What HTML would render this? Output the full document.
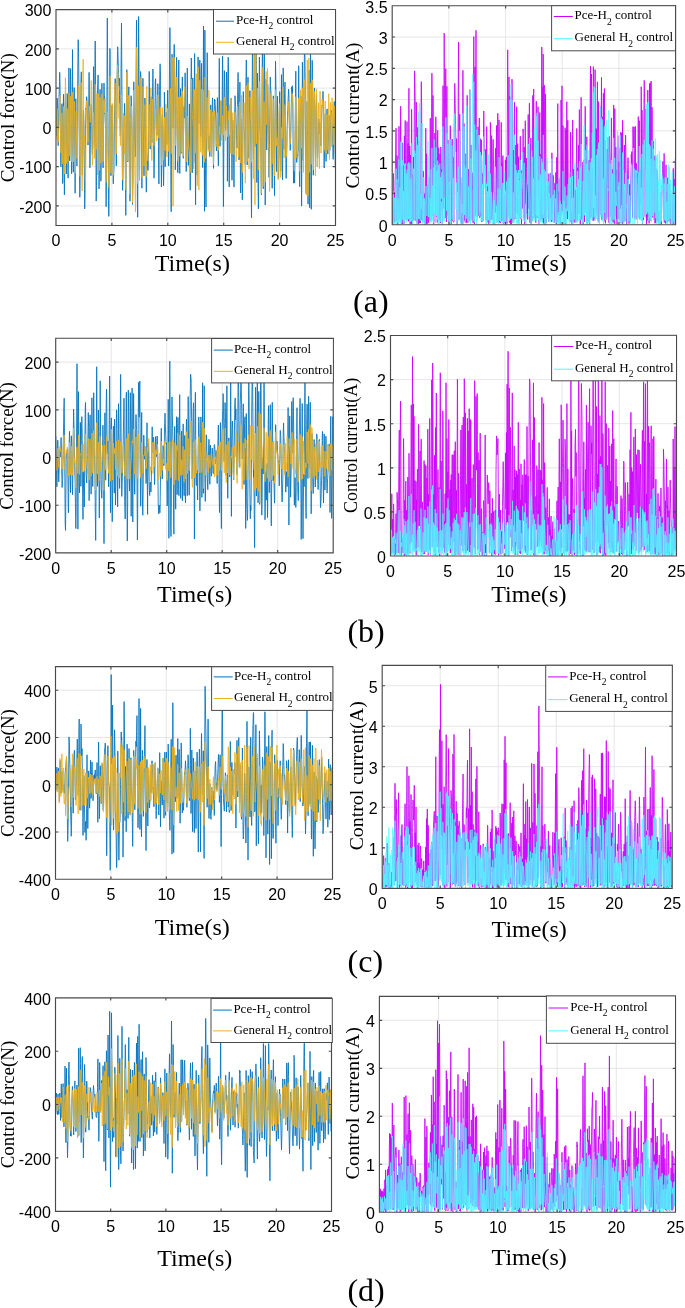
<!DOCTYPE html><html><head><meta charset="utf-8"><style>html,body{margin:0;padding:0;background:#fff;overflow:hidden}svg{display:block;will-change:transform}text{font-family:"Liberation Sans",sans-serif}.s{font-family:"Liberation Serif",serif}</style></head><body>
<svg width="685" height="1308" viewBox="0 0 685 1308">
<defs>
<clipPath id="caL"><rect x="56" y="9.6" width="279.5" height="215.9"/></clipPath>
<clipPath id="caR"><rect x="392.2" y="5.7" width="283.4" height="219.0"/></clipPath>
<clipPath id="cbL"><rect x="55.7" y="338.2" width="277.5" height="214.7"/></clipPath>
<clipPath id="cbR"><rect x="390.5" y="335.5" width="286.0" height="220.5"/></clipPath>
<clipPath id="ccL"><rect x="55.5" y="666.6" width="277.0" height="212.6"/></clipPath>
<clipPath id="ccR"><rect x="382.2" y="665.4" width="290.0" height="222.9"/></clipPath>
<clipPath id="cdL"><rect x="55.5" y="997.8" width="276.0" height="213.5"/></clipPath>
<clipPath id="cdR"><rect x="379.4" y="996.3" width="296.1" height="215.9"/></clipPath>
</defs>
<path d="M111.9 9.6V225.5M167.8 9.6V225.5M223.7 9.6V225.5M279.6 9.6V225.5M56 205.9H335.5M56 166.6H335.5M56 127.4H335.5M56 88.1H335.5M56 48.9H335.5" stroke="#E0E0E0" stroke-width="0.8" fill="none"/>
<g clip-path="url(#caL)"><polyline points="56.3,136.1 56.4,130.9 56.5,127.9 57.0,101.3 57.1,98.0 57.5,102.0 57.5,104.0 58.0,139.2 58.2,145.7 58.5,133.7 58.5,129.7 59.0,102.7 59.0,98.1 59.5,81.5 59.5,78.8 59.7,72.3 60.0,82.5 60.5,142.3 60.5,146.1 60.9,166.8 61.0,162.9 61.5,127.3 61.5,123.1 62.0,103.7 62.0,104.3 62.5,147.6 62.7,183.5 63.0,138.7 63.0,124.1 63.5,94.2 63.5,95.1 64.0,149.1 64.0,158.5 64.4,194.9 64.6,183.4 65.0,109.5 65.1,106.4 65.4,93.8 65.5,97.0 66.0,127.0 66.0,139.1 66.3,174.0 66.5,163.0 67.0,106.2 67.2,93.5 67.5,105.0 67.5,110.6 68.0,171.5 68.1,178.1 68.5,123.8 68.5,113.4 68.9,67.9 69.0,79.4 69.5,145.1 69.7,160.9 70.0,137.1 70.0,130.1 70.5,70.5 70.6,68.6 71.0,106.8 71.0,119.1 71.5,170.0 71.6,173.7 72.0,139.7 72.0,134.6 72.5,49.6 72.5,51.8 73.0,143.8 73.0,152.2 73.3,172.2 73.6,152.2 74.0,98.4 74.2,87.6 74.4,98.8 74.5,104.1 75.0,175.2 75.1,193.2 75.5,150.3 75.5,137.4 75.8,98.7 76.0,114.9 76.5,150.6 76.5,155.3 76.9,166.0 77.0,163.4 77.5,115.1 77.5,106.2 78.0,46.9 78.0,42.9 78.2,39.7 78.5,46.2 79.0,95.5 79.0,104.9 79.5,169.0 79.5,175.6 79.8,197.3 80.0,189.7 80.5,139.2 80.5,128.1 81.0,79.4 81.3,71.8 81.5,89.5 81.5,97.9 82.0,156.8 82.0,161.2 82.3,175.2 82.6,164.5 83.0,128.2 83.1,124.3 83.4,110.0 83.5,110.5 84.0,128.4 84.0,132.5 84.5,193.4 84.7,208.9 85.0,198.2 85.0,195.9 85.5,135.9 85.5,129.8 86.0,108.3 86.1,109.3 86.5,98.0 86.6,96.7 87.0,99.6 87.0,101.4 87.5,120.5 87.5,124.7 88.0,144.0 88.0,145.1 88.5,129.7 88.5,128.9 89.0,76.2 89.1,72.3 89.5,106.5 89.5,116.9 89.9,167.8 90.0,165.8 90.5,125.5 90.5,123.0 91.0,107.7 91.2,104.5 91.5,116.4 91.6,121.5 92.0,144.7 92.1,148.0 92.4,154.3 92.5,154.4 92.9,129.8 93.0,125.4 93.5,69.6 93.6,66.6 94.0,94.3 94.0,99.6 94.4,148.0 94.5,132.4 95.0,51.8 95.2,41.0 95.5,63.3 95.5,75.8 96.0,169.8 96.0,180.1 96.2,201.1 96.5,185.3 97.0,119.2 97.0,111.1 97.4,91.0 97.5,91.4 98.0,78.0 98.1,75.0 98.5,115.4 98.5,119.0 99.0,185.8 99.0,188.9 99.5,166.8 99.5,156.6 100.0,91.5 100.1,89.4 100.5,138.7 100.6,148.6 100.9,181.2 101.1,172.1 101.4,113.2 101.5,109.0 101.9,83.4 102.0,89.9 102.5,138.5 102.5,147.1 103.0,166.0 103.1,167.9 103.5,132.8 103.5,128.3 104.0,83.0 104.0,83.3 104.3,98.7 104.5,96.7 104.8,113.9 105.0,113.3 105.5,127.2 105.5,136.8 106.0,199.1 106.1,206.7 106.5,182.7 106.5,175.2 107.0,76.8 107.0,65.5 107.3,18.1 107.5,45.7 108.0,121.5 108.0,131.2 108.5,194.3 108.5,200.8 108.8,216.4 109.0,206.5 109.5,109.8 109.6,96.4 109.9,48.4 110.1,54.5 110.4,146.5 110.5,149.7 110.9,175.7 111.0,173.2 111.5,149.4 111.5,142.7 111.9,107.8 112.2,105.1 112.5,118.0 112.5,123.0 113.0,167.9 113.0,173.0 113.3,183.8 113.5,178.1 114.0,168.1 114.0,163.0 114.5,115.1 114.5,110.7 115.0,86.2 115.2,78.6 115.5,90.2 115.5,93.4 116.0,139.7 116.0,145.5 116.3,165.8 116.5,148.6 117.0,96.1 117.0,85.2 117.5,51.5 117.7,46.8 118.0,53.2 118.0,54.7 118.5,73.0 118.6,74.6 119.0,85.9 119.3,78.2 119.4,88.8 119.5,95.8 119.9,116.0 120.0,121.9 120.3,136.0 120.5,133.4 121.0,78.6 121.0,71.0 121.5,23.1 121.5,25.8 122.0,99.9 122.0,115.3 122.5,187.3 122.6,190.3 123.0,176.1 123.0,171.0 123.5,145.0 123.5,140.9 123.9,119.5 124.1,126.6 124.5,106.7 124.6,103.4 125.0,119.2 125.0,126.9 125.5,184.4 125.5,192.8 125.8,215.4 126.0,193.5 126.5,99.2 126.5,88.6 126.8,69.7 127.0,77.0 127.5,144.4 127.6,150.1 127.8,162.0 128.1,146.9 128.4,111.5 128.5,106.0 128.8,86.8 129.0,100.2 129.5,158.1 129.5,168.0 130.0,201.2 130.0,199.8 130.5,143.5 130.5,137.2 131.0,100.8 131.1,95.7 131.5,102.2 131.5,102.7 132.0,136.4 132.0,142.8 132.5,203.0 132.5,204.4 133.0,179.5 133.0,170.1 133.5,103.9 133.5,96.8 133.8,81.8 134.0,93.1 134.5,134.9 134.5,138.9 134.8,149.0 135.0,148.7 135.3,157.0 135.5,149.8 136.0,100.3 136.0,90.2 136.5,20.1 136.6,20.9 137.0,94.4 137.1,111.0 137.4,204.0 137.7,217.3 137.9,178.6 138.0,162.9 138.5,35.5 138.6,16.5 139.0,66.0 139.0,74.5 139.5,177.2 139.5,179.2 140.0,107.6 140.0,94.3 140.5,72.7 140.6,71.5 141.0,80.1 141.0,81.1 141.5,136.8 141.5,149.3 141.9,188.2 142.0,179.6 142.5,111.2 142.5,98.9 142.9,78.3 143.0,81.1 143.5,132.1 143.5,140.5 144.0,175.8 144.0,174.1 144.5,125.8 144.5,122.3 144.9,98.0 145.0,99.9 145.5,123.0 145.6,129.7 146.0,176.1 146.1,180.5 146.3,192.2 146.5,185.2 146.9,165.7 147.0,163.7 147.5,155.5 147.5,155.8 148.0,170.4 148.0,169.8 148.5,147.2 148.5,139.5 149.0,91.7 149.2,71.4 149.5,87.2 149.5,95.9 150.0,139.6 150.2,149.1 150.5,138.2 150.5,136.7 151.0,98.3 151.0,96.7 151.5,133.6 151.5,135.3 151.9,142.7 152.0,139.0 152.5,103.2 152.5,96.5 152.9,69.0 153.0,75.1 153.5,130.2 153.5,138.3 154.0,177.3 154.0,178.2 154.5,154.2 154.6,149.0 155.0,104.5 155.1,97.6 155.3,81.5 155.6,78.7 155.9,95.4 156.0,97.6 156.5,126.6 156.5,127.6 156.9,135.4 157.0,131.5 157.5,104.0 157.5,100.2 157.8,83.7 158.0,86.7 158.5,146.7 158.5,157.0 158.9,183.9 159.0,174.9 159.5,93.0 159.5,90.3 160.0,67.3 160.1,63.8 160.5,76.2 160.5,80.3 161.0,143.6 161.0,151.1 161.4,187.1 161.5,180.7 162.0,130.8 162.0,126.1 162.4,114.1 162.5,114.8 163.0,140.9 163.0,144.6 163.5,185.7 163.6,185.8 164.0,157.5 164.1,152.4 164.4,92.1 164.5,97.5 164.9,155.6 165.2,166.8 165.5,137.4 165.5,131.8 166.0,112.1 166.0,112.2 166.5,140.2 166.7,144.5 167.0,138.8 167.0,134.6 167.5,96.6 167.7,90.3 168.0,111.2 168.0,116.7 168.5,160.0 168.6,166.0 169.0,154.8 169.0,149.8 169.5,70.0 169.5,59.8 169.9,27.6 170.0,31.4 170.5,102.9 170.5,117.3 171.0,198.5 171.2,211.7 171.5,150.2 171.5,128.5 172.0,58.0 172.1,54.2 172.5,88.4 172.6,98.4 172.9,128.2 173.3,128.1 173.4,117.4 173.5,108.5 173.9,52.9 174.2,44.4 174.5,53.1 174.5,57.2 175.0,119.2 175.0,128.6 175.3,169.9 175.5,159.1 176.0,102.5 176.0,96.9 176.5,61.1 176.6,57.4 177.0,97.2 177.0,110.0 177.5,161.3 177.8,172.8 178.0,164.9 178.0,162.2 178.5,89.8 178.5,78.5 178.8,60.0 179.0,83.9 179.5,166.3 179.5,167.6 179.8,173.5 180.0,164.4 180.5,91.1 180.5,88.6 181.0,142.4 181.0,146.7 181.2,153.3 181.6,143.7 182.0,90.6 182.1,86.8 182.3,76.9 182.5,81.8 182.9,137.9 183.0,143.0 183.3,158.3 183.5,136.4 184.0,106.6 184.0,107.2 184.3,118.1 184.5,109.9 185.0,83.1 185.1,72.8 185.5,100.1 185.5,110.6 186.0,166.2 186.2,171.6 186.5,165.2 186.5,161.5 187.0,92.1 187.3,68.1 187.5,83.6 187.5,92.5 188.0,152.8 188.0,155.3 188.3,165.5 188.5,161.3 189.0,144.7 189.0,141.9 189.4,103.9 189.5,116.7 190.0,178.9 190.2,190.2 190.5,177.3 190.6,167.4 191.0,78.1 191.1,72.8 191.3,58.0 191.5,68.2 191.9,145.8 192.2,173.0 192.5,135.9 192.5,122.6 192.8,77.9 193.0,110.0 193.5,152.8 193.7,162.9 194.0,152.7 194.0,148.3 194.5,65.7 194.6,53.6 195.0,93.2 195.0,106.7 195.5,200.3 195.6,204.8 196.0,131.0 196.0,121.2 196.4,88.6 196.5,89.9 197.0,158.3 197.2,175.2 197.5,154.8 197.5,142.2 198.0,58.8 198.1,56.9 198.5,90.8 198.5,99.7 198.8,123.6 199.0,113.6 199.5,67.7 199.6,65.1 199.8,60.1 200.1,68.2 200.4,114.9 200.5,119.2 200.7,136.6 201.0,112.9 201.5,66.9 201.6,63.3 202.0,100.6 202.0,112.2 202.5,166.2 202.6,167.6 203.0,132.1 203.0,124.4 203.5,27.0 203.5,26.0 204.0,96.4 204.0,103.9 204.5,211.3 204.5,205.1 204.9,30.1 205.0,75.0 205.5,168.3 205.5,176.9 206.0,207.0 206.0,205.3 206.5,148.0 206.5,137.9 207.0,67.1 207.2,52.7 207.5,72.0 207.5,75.6 208.0,132.4 208.0,136.1 208.4,149.0 208.6,144.6 209.0,135.8 209.1,136.3 209.4,148.4 209.5,149.5 209.8,156.5 210.0,149.5 210.5,115.6 210.5,110.4 210.7,104.9 211.0,113.2 211.5,154.7 211.6,156.3 212.0,118.2 212.0,114.2 212.5,97.9 212.5,97.8 213.0,118.1 213.0,125.7 213.5,168.4 213.5,168.4 214.0,135.8 214.0,129.3 214.5,99.1 214.5,99.0 214.8,100.7 215.0,100.1 215.5,110.3 215.5,110.2 216.0,128.5 216.0,131.5 216.4,151.0 216.5,150.1 217.0,124.8 217.0,119.0 217.4,97.6 217.6,104.5 218.0,148.8 218.1,155.3 218.3,165.9 218.5,162.7 218.9,106.2 219.0,93.7 219.3,58.3 219.5,99.8 220.0,145.8 220.0,146.3 220.5,112.7 220.5,111.3 220.8,101.0 221.0,109.1 221.5,129.3 221.7,134.1 222.0,127.2 222.0,122.9 222.5,58.7 222.5,56.2 223.0,119.3 223.0,132.6 223.4,206.6 223.5,200.0 224.0,107.5 224.0,103.0 224.4,70.7 224.5,74.1 225.0,106.3 225.0,112.0 225.5,130.6 225.5,130.2 226.0,116.0 226.0,113.6 226.5,73.1 226.6,72.0 227.0,94.9 227.1,98.5 227.4,181.3 227.5,168.9 227.9,68.5 228.2,57.2 228.5,67.2 228.5,73.7 229.0,167.4 229.2,186.9 229.5,164.0 229.5,156.7 229.9,135.6 230.0,136.5 230.3,150.7 230.5,131.6 231.0,107.2 231.1,98.3 231.5,134.5 231.5,139.6 232.0,180.2 232.0,179.2 232.5,134.2 232.5,129.7 232.8,120.2 233.0,122.5 233.5,145.6 233.5,153.7 234.0,187.1 234.0,186.6 234.5,128.8 234.5,123.9 235.0,97.3 235.0,95.7 235.5,106.2 235.6,106.4 236.0,122.7 236.1,123.4 236.4,138.0 236.6,137.0 236.9,147.3 237.0,148.2 237.5,104.5 237.5,99.9 238.0,74.4 238.1,72.4 238.5,99.2 238.5,104.3 239.0,158.2 239.0,159.8 239.5,144.1 239.5,142.9 239.9,82.1 240.0,113.4 240.5,188.2 240.6,193.0 241.0,168.1 241.0,161.7 241.5,119.1 241.5,120.2 242.0,173.5 242.0,181.1 242.3,199.9 242.5,192.6 243.0,113.7 243.0,105.8 243.3,91.6 243.5,102.2 244.0,122.4 244.0,127.3 244.5,132.8 244.6,137.0 245.0,155.1 245.2,164.4 245.4,148.8 245.5,143.3 245.9,80.2 246.0,76.7 246.3,59.9 246.5,70.8 247.0,119.2 247.0,134.3 247.2,164.9 247.5,143.4 248.0,77.2 248.0,85.7 248.5,140.3 248.5,143.4 248.7,158.1 249.0,143.1 249.5,113.7 249.5,106.7 249.9,90.6 250.0,94.0 250.5,118.7 250.5,122.0 251.0,160.3 251.0,169.9 251.5,217.5 251.5,217.9 252.0,123.5 252.0,110.2 252.5,42.8 252.5,41.4 253.0,88.2 253.0,99.0 253.5,159.3 253.6,158.8 254.0,119.2 254.1,112.5 254.4,37.2 254.5,40.5 254.9,125.0 255.2,146.7 255.5,123.3 255.5,114.6 256.0,44.8 256.1,38.9 256.5,104.7 256.5,114.8 256.8,182.5 257.0,122.5 257.4,73.1 257.5,83.2 258.0,176.6 258.0,183.6 258.4,208.9 258.5,201.8 259.0,125.0 259.0,107.8 259.4,57.1 259.5,64.8 260.0,117.1 260.0,122.0 260.5,135.8 260.5,137.1 261.0,164.0 261.0,170.6 261.4,194.8 261.5,192.9 262.0,114.7 262.0,97.1 262.4,43.3 262.6,57.9 263.0,157.4 263.1,169.6 263.3,188.8 263.5,169.2 263.9,80.8 264.0,71.9 264.3,52.4 264.5,67.0 265.0,169.9 265.2,205.0 265.5,179.3 265.5,168.3 266.0,89.8 266.1,79.4 266.5,136.3 266.5,142.6 266.7,149.9 267.0,139.6 267.5,96.8 267.7,84.2 268.0,96.3 268.0,100.4 268.5,134.5 268.5,145.1 269.0,177.4 269.0,177.3 269.5,148.3 269.5,144.3 270.0,101.2 270.0,93.5 270.3,77.0 270.5,85.4 271.0,93.1 271.0,95.7 271.5,133.1 271.6,140.4 272.0,181.5 272.2,188.3 272.4,177.6 272.5,171.6 272.9,116.8 273.0,112.3 273.3,95.8 273.5,99.4 274.0,143.5 274.0,148.9 274.5,195.6 274.5,194.2 275.0,137.2 275.0,127.9 275.5,62.9 275.5,61.2 276.0,92.2 276.0,99.5 276.5,159.2 276.6,171.6 277.0,124.0 277.0,116.8 277.4,96.1 277.5,102.9 278.0,153.7 278.0,159.4 278.5,178.2 278.5,177.9 279.0,153.3 279.0,146.6 279.5,97.5 279.7,91.6 280.0,106.6 280.0,112.3 280.5,159.8 280.7,171.2 281.0,156.9 281.1,153.5 281.4,78.6 281.5,74.6 281.9,136.8 282.0,143.4 282.5,179.8 282.5,177.5 283.0,137.8 283.2,67.9 283.5,132.7 283.5,135.9 283.9,149.4 284.0,143.3 284.5,98.2 284.5,93.8 285.0,82.5 285.0,82.0 285.5,117.8 285.5,125.4 286.0,175.5 286.2,178.4 286.5,167.1 286.5,163.7 287.0,138.0 287.0,135.5 287.5,117.1 287.5,115.7 288.0,105.4 288.0,102.9 288.5,90.4 288.6,89.1 289.0,97.6 289.0,98.5 289.5,128.0 289.6,130.8 290.0,143.4 290.1,145.5 290.2,150.4 290.5,144.8 290.9,123.0 291.0,120.2 291.4,100.4 291.5,101.0 291.8,87.1 292.1,91.9 292.3,85.7 292.5,91.0 293.0,123.3 293.0,132.9 293.5,180.5 293.5,183.2 293.9,171.1 294.2,171.4 294.5,180.0 294.6,183.1 295.0,159.0 295.0,150.7 295.5,93.7 295.5,88.5 295.8,71.2 296.0,91.9 296.5,151.0 296.5,156.5 296.7,162.4 297.0,159.8 297.4,154.0 297.7,156.7 298.0,150.1 298.2,150.2 298.5,93.2 298.7,65.7 299.0,102.6 299.1,118.7 299.4,173.3 299.7,186.7 299.9,166.8 300.0,157.4 300.5,100.3 300.5,99.1 300.8,96.0 301.0,100.3 301.5,194.3 301.6,206.1 302.0,138.5 302.0,123.1 302.4,62.1 302.5,69.0 303.0,146.2 303.0,152.6 303.2,160.4 303.5,150.5 304.0,96.6 304.0,86.5 304.5,45.6 304.5,45.0 305.0,59.5 305.0,64.1 305.5,121.8 305.5,131.9 306.0,186.8 306.2,193.4 306.5,168.0 306.5,161.4 307.0,105.9 307.1,101.5 307.5,129.7 307.6,136.3 308.0,202.0 308.1,204.2 308.4,149.7 308.5,135.5 308.9,70.0 309.0,71.4 309.5,153.4 309.5,170.0 309.7,207.8 310.0,157.2 310.5,46.4 310.5,49.9 311.0,161.9 311.0,174.6 311.3,209.3 311.5,181.3 312.0,79.8 312.0,72.2 312.2,60.3 312.5,69.0 313.0,131.5 313.0,143.0 313.3,175.2 313.5,165.9 314.0,109.6 314.0,105.3 314.4,87.9 314.5,88.6 315.0,111.0 315.0,116.7 315.5,159.6 315.7,166.3 316.0,131.7 316.0,126.4 316.5,97.1 316.6,95.3 317.0,135.8 317.1,143.0 317.4,156.4 317.6,158.5 317.9,152.9 318.0,151.5 318.5,122.8 318.6,123.5 318.9,119.0 319.0,120.3 319.5,134.2 319.5,133.7 319.9,123.1 320.0,124.0 320.5,132.0 320.5,133.4 320.9,146.0 321.0,143.3 321.5,125.1 321.5,123.5 322.0,106.1 322.1,104.8 322.4,106.5 322.5,105.5 323.0,91.3 323.0,91.4 323.5,109.7 323.5,117.0 324.0,161.4 324.2,168.0 324.5,151.4 324.5,145.5 325.0,118.9 325.2,113.8 325.5,128.1 325.5,130.4 326.0,161.5 326.1,161.4 326.4,144.0 326.5,140.6 326.9,110.5 327.1,108.9 327.5,139.4 327.5,142.3 327.8,154.2 328.0,150.5 328.5,137.3 328.5,130.9 329.0,115.3 329.0,116.1 329.5,141.2 329.5,143.2 329.8,150.5 330.0,143.1 330.5,124.6 330.5,121.5 330.9,110.7 331.1,111.9 331.4,110.0 331.5,111.2 332.0,115.7 332.0,117.2 332.5,132.7 332.5,134.6 333.0,156.6 333.2,159.4 333.5,149.3 333.5,144.9 334.0,111.2 334.0,107.3 334.3,101.5 334.5,109.3 335.0,150.6 335.1,155.0 335.3,165.3 335.5,161.0" fill="none" stroke="#0072BD" stroke-width="0.85" stroke-linejoin="round"/></g>
<g clip-path="url(#caL)"><polyline points="56.1,139.3 56.4,131.0 56.5,129.0 57.0,109.8 57.1,108.7 57.5,116.7 57.5,118.4 58.0,139.7 58.2,142.5 58.5,135.4 58.5,133.2 59.0,123.7 59.0,122.6 59.5,110.1 59.5,107.2 59.9,96.0 60.0,99.1 60.5,132.5 60.5,137.3 60.8,152.9 61.0,148.7 61.5,120.1 61.5,116.7 61.8,112.7 62.0,116.0 62.5,156.6 62.7,163.9 63.0,138.5 63.0,132.1 63.5,107.3 63.6,106.5 64.0,123.5 64.0,128.3 64.5,173.9 64.6,173.0 65.0,128.2 65.1,117.8 65.4,77.7 65.5,77.9 66.0,124.4 66.0,131.6 66.4,163.5 66.5,159.1 67.0,126.3 67.0,121.0 67.2,108.5 67.5,117.4 68.0,158.2 68.1,161.4 68.5,133.8 68.5,126.1 68.9,92.9 69.0,95.5 69.5,138.4 69.5,142.1 69.8,156.1 70.0,147.6 70.5,104.1 70.6,96.4 71.0,124.7 71.0,133.6 71.5,159.4 71.6,161.6 72.0,136.2 72.0,130.4 72.4,92.2 72.5,93.4 73.0,131.3 73.0,137.4 73.5,161.7 73.6,161.6 74.0,129.0 74.1,124.0 74.4,101.5 74.5,102.0 75.0,125.4 75.0,129.9 75.5,173.1 75.5,172.5 76.0,133.4 76.2,111.3 76.5,130.5 76.5,133.9 77.0,158.1 77.0,158.7 77.5,142.2 77.5,136.4 78.0,100.3 78.0,96.8 78.2,85.8 78.6,87.3 79.0,98.0 79.0,99.8 79.5,139.0 79.5,142.0 80.0,176.5 80.0,176.2 80.5,148.6 80.5,138.5 81.0,89.6 81.2,82.6 81.5,98.3 81.5,102.8 82.0,181.9 82.2,190.9 82.5,162.9 82.6,153.8 83.0,67.2 83.2,59.2 83.4,88.2 83.5,99.4 84.0,140.6 84.1,144.6 84.5,138.5 84.6,136.0 85.0,154.4 85.0,159.0 85.5,184.3 85.5,184.1 86.0,143.4 86.0,133.1 86.5,107.7 86.7,100.6 87.0,108.7 87.0,109.9 87.5,124.1 87.5,126.8 88.0,142.2 88.0,141.8 88.4,127.9 88.5,127.8 88.9,114.0 89.0,114.3 89.4,105.8 89.5,107.9 90.0,117.1 90.2,122.5 90.5,116.1 90.5,114.9 91.0,92.3 91.2,80.5 91.5,95.3 91.6,101.1 92.0,150.3 92.1,154.7 92.4,165.3 92.5,164.0 92.9,136.9 93.0,132.7 93.4,112.5 93.5,113.5 94.0,134.5 94.0,138.8 94.3,158.4 94.5,149.0 95.0,101.4 95.2,84.3 95.5,100.2 95.5,103.9 96.0,145.8 96.1,149.4 96.5,133.2 96.5,129.8 97.0,93.3 97.0,95.2 97.5,175.0 97.5,168.9 98.0,101.7 98.0,100.0 98.3,93.9 98.5,101.7 99.0,154.3 99.3,170.5 99.5,156.5 99.5,146.0 100.0,100.3 100.1,97.3 100.5,124.0 100.6,130.3 100.9,163.3 101.1,158.6 101.4,121.5 101.5,115.5 101.9,94.0 102.0,96.1 102.5,140.4 102.5,146.2 103.0,161.6 103.0,161.0 103.5,128.8 103.5,122.7 103.8,100.8 104.0,106.5 104.4,112.7 104.5,111.1 105.0,98.9 105.1,97.7 105.5,127.3 105.5,134.8 106.0,181.5 106.0,182.4 106.5,166.7 106.5,161.7 107.0,120.3 107.3,112.1 107.5,120.0 107.5,125.0 108.0,152.3 108.0,153.0 108.5,167.8 108.5,168.9 109.0,187.4 109.0,186.9 109.5,162.3 109.6,151.9 110.0,76.8 110.1,76.1 110.4,148.0 110.5,155.0 110.9,172.8 111.0,172.7 111.5,152.1 111.5,145.6 112.0,111.7 112.2,103.5 112.5,116.0 112.5,120.5 113.0,162.3 113.2,175.2 113.5,166.8 113.5,163.6 114.0,121.4 114.0,115.0 114.5,95.4 114.5,93.2 114.9,82.9 115.0,84.0 115.5,98.9 115.5,101.3 116.0,151.2 116.3,153.6 116.5,142.0 116.5,135.9 117.0,85.4 117.0,81.2 117.5,66.1 117.7,65.1 118.0,73.3 118.0,75.9 118.5,100.8 118.6,103.6 119.0,118.5 119.1,117.2 119.3,103.8 119.5,106.8 119.9,127.7 120.0,129.7 120.4,145.6 120.5,141.8 121.0,105.8 121.0,103.5 121.3,94.9 121.5,99.0 122.0,130.7 122.0,140.6 122.5,179.9 122.5,179.5 123.0,152.2 123.0,147.4 123.5,113.2 123.5,114.3 124.0,138.1 124.0,141.2 124.3,153.7 124.5,133.9 124.7,115.8 125.0,133.9 125.5,176.6 125.8,189.8 126.0,178.4 126.0,171.5 126.5,95.9 126.8,72.3 127.0,88.7 127.0,98.3 127.5,155.7 127.7,161.2 128.0,134.8 128.1,125.6 128.4,99.0 128.7,95.4 128.9,120.5 129.0,130.7 129.5,188.3 129.6,194.0 130.0,177.7 130.0,175.8 130.5,143.2 130.5,140.1 130.9,118.7 131.1,120.6 131.4,106.0 131.5,109.1 132.0,143.5 132.0,152.2 132.5,199.1 132.6,202.8 133.0,165.1 133.0,157.2 133.5,94.9 133.6,90.2 134.0,111.9 134.0,116.0 134.5,152.6 134.5,157.0 135.0,180.5 135.0,182.3 135.5,211.8 135.5,209.9 136.0,117.3 136.0,108.0 136.5,47.3 136.6,48.7 137.0,116.4 137.1,128.7 137.4,182.8 137.5,183.4 137.9,143.3 138.0,130.9 138.5,92.8 138.6,85.8 139.0,100.0 139.0,102.4 139.5,180.0 139.5,180.6 140.0,129.2 140.0,117.6 140.5,82.5 140.5,81.0 140.7,78.4 141.1,77.1 141.5,89.2 141.5,90.5 142.0,168.8 142.1,177.6 142.5,134.4 142.5,120.7 143.0,87.1 143.0,86.7 143.5,102.8 143.5,108.8 144.0,165.4 144.1,166.1 144.5,146.4 144.5,140.4 145.0,105.7 145.0,104.7 145.5,120.3 145.6,125.7 146.0,169.7 146.2,176.7 146.4,166.7 146.5,162.3 146.8,86.2 147.0,150.1 147.5,155.7 147.5,156.4 147.8,160.8 148.0,156.2 148.5,131.2 148.5,127.3 149.0,104.4 149.0,105.0 149.5,124.6 149.5,128.0 150.0,145.5 150.0,146.0 150.5,136.7 150.5,133.6 150.9,87.8 151.0,94.3 151.5,152.1 151.8,160.6 152.0,154.7 152.0,149.8 152.5,112.6 152.5,108.0 152.8,98.8 153.0,106.1 153.5,137.0 153.5,139.7 153.8,145.8 154.0,144.4 154.5,134.9 154.6,134.9 155.0,124.2 155.1,123.8 155.4,115.1 155.5,115.1 155.9,109.2 156.0,111.4 156.5,129.9 156.5,133.3 156.7,141.1 157.0,133.5 157.5,103.9 157.5,101.4 157.8,94.9 158.0,98.0 158.5,120.3 158.5,124.5 158.8,138.0 159.0,134.6 159.5,121.4 159.5,119.6 160.0,110.9 160.0,109.9 160.4,107.0 160.5,107.3 161.0,138.7 161.0,143.2 161.4,165.2 161.5,163.3 162.0,134.7 162.0,129.4 162.5,107.6 162.5,108.5 163.0,135.7 163.0,140.1 163.4,160.2 163.6,159.5 164.0,146.5 164.1,144.0 164.4,117.2 164.5,119.1 164.9,146.4 165.1,150.7 165.5,126.6 165.5,121.6 165.8,104.1 166.0,105.9 166.5,132.7 166.5,139.2 166.8,156.9 167.0,147.2 167.5,111.6 167.6,108.3 168.0,125.6 168.0,127.0 168.5,148.1 168.8,151.5 169.0,142.2 169.0,139.1 169.5,125.8 169.5,121.5 170.0,98.5 170.0,95.2 170.4,88.5 170.5,90.7 171.0,143.1 171.2,153.7 171.5,139.3 171.5,132.7 172.0,63.8 172.1,57.3 172.5,110.2 172.6,121.3 173.0,199.1 173.1,206.2 173.4,157.4 173.5,144.4 173.9,65.5 174.2,57.4 174.5,67.4 174.5,72.4 175.0,112.4 175.0,120.5 175.3,145.5 175.5,143.9 176.0,132.0 176.0,128.2 176.5,88.3 176.7,77.0 177.0,98.8 177.0,110.3 177.5,153.9 177.8,160.9 178.0,155.8 178.0,153.7 178.5,117.1 178.5,112.1 178.8,97.0 179.0,112.5 179.5,148.5 179.7,156.3 180.0,147.1 180.0,144.5 180.5,98.4 180.5,96.7 181.0,132.4 181.0,137.7 181.3,152.3 181.6,146.2 182.0,102.5 182.1,98.6 182.3,91.2 182.5,97.4 182.9,140.6 183.2,156.4 183.5,136.8 183.5,130.5 184.0,99.0 184.0,98.8 184.5,92.0 184.5,90.9 184.8,86.7 185.0,92.1 185.5,140.8 185.5,143.1 186.0,157.0 186.2,162.0 186.5,152.4 186.5,151.2 187.0,123.7 187.0,120.1 187.4,115.9 187.5,117.4 188.0,134.8 188.0,136.9 188.5,143.5 188.5,144.4 189.0,149.8 189.2,150.1 189.5,157.2 189.5,158.5 190.0,169.2 190.2,172.6 190.5,158.7 190.6,154.3 191.0,98.7 191.1,94.9 191.4,79.0 191.5,79.3 191.9,100.9 192.0,104.2 192.5,119.3 192.8,119.4 193.0,127.1 193.0,131.7 193.5,164.9 193.6,168.8 194.0,147.1 194.0,141.0 194.5,90.2 194.5,89.4 195.0,139.7 195.0,142.6 195.4,153.2 195.5,147.1 196.0,97.5 196.0,89.5 196.3,73.6 196.5,88.2 197.0,160.6 197.0,169.2 197.3,185.7 197.5,171.4 198.0,80.2 198.2,66.7 198.5,111.6 198.5,125.6 198.9,190.1 199.0,175.1 199.5,97.9 199.6,92.2 199.8,80.3 200.1,94.6 200.4,135.3 200.5,139.0 200.8,152.3 201.0,136.3 201.5,95.3 201.6,89.0 202.0,128.6 202.0,132.6 202.3,155.5 202.5,153.5 203.0,128.7 203.0,121.2 203.4,90.4 203.5,94.1 204.0,122.6 204.0,126.5 204.4,162.2 204.5,156.1 205.0,78.9 205.0,77.1 205.5,142.2 205.5,145.3 205.8,158.4 206.0,153.6 206.5,133.3 206.5,127.7 207.0,97.9 207.0,97.4 207.5,107.8 207.5,110.9 208.0,142.5 208.2,151.4 208.5,122.7 208.6,115.5 208.9,90.0 209.1,97.7 209.4,138.4 209.5,141.0 209.9,151.5 210.0,151.1 210.5,130.0 210.5,125.7 210.8,109.7 211.0,120.0 211.5,149.9 211.6,156.5 212.0,124.1 212.0,122.1 212.4,112.5 212.6,112.6 213.0,130.4 213.0,136.0 213.4,164.4 213.5,161.7 214.0,126.0 214.0,120.9 214.5,110.6 214.5,110.6 215.0,118.7 215.0,120.4 215.5,134.0 215.5,135.4 216.0,145.4 216.1,146.7 216.3,143.0 216.5,143.9 217.0,122.4 217.0,120.6 217.3,112.7 217.6,117.9 218.0,139.7 218.1,141.9 218.4,150.3 218.5,148.5 218.9,139.0 219.0,136.9 219.5,127.0 219.5,126.6 219.8,134.4 220.0,129.8 220.5,109.1 220.7,100.2 221.0,107.9 221.0,111.4 221.5,136.6 221.6,140.6 222.0,137.2 222.0,136.6 222.5,120.5 222.7,115.7 223.0,125.7 223.0,127.5 223.4,135.2 223.5,134.0 224.0,114.3 224.0,110.0 224.3,97.3 224.5,101.7 225.0,128.0 225.0,131.2 225.4,140.9 225.5,140.4 226.0,127.0 226.0,122.8 226.4,105.9 226.6,108.5 227.0,126.6 227.1,129.5 227.4,136.6 227.5,135.6 227.9,123.4 228.0,119.4 228.3,111.1 228.5,113.3 228.8,119.7 229.0,117.0 229.5,105.3 229.5,104.6 230.0,129.4 230.0,134.2 230.4,153.3 230.5,144.9 231.0,99.4 231.0,97.8 231.5,134.1 231.5,138.7 231.9,154.0 232.0,152.7 232.5,116.5 232.5,114.8 232.9,112.5 233.0,113.6 233.5,132.1 233.5,136.5 233.9,154.7 234.0,151.1 234.5,122.9 234.5,120.8 235.0,112.8 235.0,112.2 235.4,122.9 235.6,122.8 236.0,161.4 236.1,161.9 236.4,155.7 236.5,154.9 236.9,148.6 237.0,146.2 237.5,120.4 237.5,117.2 237.7,106.2 238.0,114.8 238.5,138.6 238.5,143.2 238.8,157.3 239.0,153.7 239.5,120.1 239.5,114.8 239.7,101.9 240.0,116.2 240.5,160.5 240.7,163.0 241.0,158.8 241.0,156.4 241.5,97.6 241.5,95.2 242.0,132.1 242.0,140.3 242.4,172.5 242.5,171.4 243.0,144.0 243.0,141.0 243.5,124.8 243.5,123.4 244.0,109.0 244.2,102.8 244.5,113.2 244.6,117.9 245.0,162.5 245.1,168.2 245.3,183.2 245.5,166.0 245.9,96.8 246.0,92.9 246.2,85.5 246.5,89.8 247.0,131.6 247.0,140.3 247.2,161.4 247.5,138.8 248.0,88.0 248.1,82.7 248.5,127.3 248.5,133.0 249.0,167.0 249.1,169.0 249.5,139.5 249.5,134.0 250.0,102.1 250.1,96.9 250.5,103.9 250.5,106.6 251.0,138.3 251.0,142.4 251.4,162.3 251.5,156.4 252.0,130.1 252.0,123.7 252.5,90.1 252.5,91.6 253.0,115.6 253.0,124.9 253.4,178.7 253.6,174.8 254.0,93.8 254.1,78.3 254.3,53.5 254.5,76.3 254.9,201.6 255.0,204.8 255.5,83.1 255.5,72.1 255.8,50.8 256.0,75.1 256.5,143.7 256.5,143.0 257.0,114.9 257.0,107.5 257.4,88.3 257.5,90.4 258.0,138.7 258.0,147.4 258.3,169.8 258.5,165.3 259.0,126.0 259.0,118.2 259.4,81.5 259.5,84.3 260.0,102.8 260.0,107.0 260.5,128.9 260.5,131.9 261.0,182.1 261.3,193.6 261.5,183.7 261.5,176.3 262.0,98.8 262.0,88.7 262.3,67.4 262.6,83.2 263.0,180.1 263.1,186.4 263.4,151.0 263.5,138.8 263.9,103.4 264.1,101.6 264.5,121.6 264.5,124.1 265.0,179.7 265.2,182.2 265.5,161.4 265.5,153.0 266.0,82.7 266.1,71.4 266.5,97.2 266.5,101.2 266.8,124.8 267.0,105.4 267.5,68.5 267.5,68.7 268.0,102.5 268.0,109.0 268.5,147.2 268.8,146.2 269.0,157.4 269.0,162.8 269.5,185.5 269.6,191.5 270.0,165.8 270.0,159.3 270.5,103.5 270.5,100.2 271.0,93.2 271.0,94.1 271.5,128.0 271.6,131.7 272.0,157.9 272.2,163.7 272.4,153.3 272.5,147.6 272.9,112.2 273.0,108.4 273.2,98.8 273.5,108.9 274.0,151.5 274.0,156.5 274.4,176.0 274.5,172.8 275.0,129.8 275.0,122.8 275.5,89.9 275.5,90.2 276.0,108.0 276.0,111.9 276.5,144.6 276.5,145.8 276.9,140.4 277.2,137.9 277.5,157.1 277.5,162.3 278.0,177.8 278.1,179.9 278.5,162.5 278.5,158.4 279.0,119.1 279.0,114.4 279.3,106.0 279.7,103.6 280.0,115.9 280.0,119.4 280.5,166.0 280.6,171.8 280.7,177.5 281.1,170.1 281.4,132.9 281.7,127.5 281.9,132.9 282.1,138.3 282.5,127.1 282.5,124.5 283.0,89.7 283.1,87.0 283.5,113.7 283.5,122.2 284.0,154.4 284.1,157.8 284.5,127.2 284.5,121.0 285.0,108.7 285.1,104.6 285.5,117.2 285.5,119.1 286.0,150.3 286.0,152.5 286.4,156.4 286.5,153.2 287.0,137.8 287.0,137.5 287.5,132.0 287.5,131.4 288.0,120.8 288.0,119.2 288.5,105.9 288.8,101.8 289.0,106.2 289.0,108.7 289.5,121.3 289.6,125.6 290.0,140.7 290.2,143.7 290.4,142.2 290.5,141.5 290.9,131.6 291.0,129.7 291.5,110.1 291.5,108.8 292.0,94.8 292.0,94.4 292.3,93.7 292.5,94.3 293.0,106.0 293.0,108.5 293.5,125.4 293.5,127.6 294.0,144.1 294.0,147.3 294.5,158.9 294.5,158.9 295.0,144.2 295.0,140.7 295.5,108.9 295.8,96.7 296.0,106.1 296.0,110.0 296.5,148.4 296.5,150.0 297.0,157.7 297.0,157.1 297.5,150.5 297.5,149.6 298.0,133.8 298.0,128.0 298.5,105.7 298.7,98.0 299.0,123.9 299.1,132.5 299.4,159.0 299.7,171.4 299.9,157.2 300.0,149.9 300.5,99.0 300.7,89.8 301.0,101.7 301.0,106.8 301.5,147.7 301.5,148.2 302.0,115.7 302.0,109.4 302.4,87.7 302.5,91.2 303.0,126.8 303.0,137.9 303.5,172.3 303.5,170.5 304.0,109.3 304.0,104.1 304.5,80.5 304.6,79.8 305.0,88.5 305.0,90.5 305.5,101.2 305.5,105.8 306.0,166.2 306.0,173.5 306.4,195.0 306.5,185.1 307.0,89.8 307.3,60.0 307.5,85.6 307.6,101.5 308.0,192.8 308.1,195.8 308.4,153.2 308.5,133.5 308.8,58.1 309.0,84.8 309.5,167.0 309.6,172.4 310.0,139.3 310.0,131.0 310.4,83.2 310.5,87.5 311.0,138.2 311.0,146.9 311.2,164.3 311.5,160.9 312.0,108.5 312.0,103.4 312.4,80.1 312.5,84.3 313.0,135.2 313.0,145.9 313.4,169.9 313.5,165.0 314.0,102.0 314.0,98.7 314.3,91.4 314.5,96.6 315.0,119.9 315.0,134.0 315.4,175.7 315.5,172.4 316.0,118.5 316.0,113.3 316.4,88.8 316.5,90.8 317.0,140.2 317.1,145.8 317.4,165.1 317.6,167.0 317.9,144.9 318.0,141.3 318.5,103.0 318.5,102.7 319.0,122.4 319.0,127.5 319.4,168.6 319.5,153.6 320.0,94.4 320.1,91.2 320.5,124.4 320.5,127.9 321.0,153.1 321.0,152.5 321.5,134.4 321.5,129.8 322.0,100.8 322.1,99.2 322.5,102.2 322.7,107.5 323.0,101.4 323.0,101.6 323.5,112.1 323.5,116.1 324.0,146.2 324.2,150.5 324.5,147.0 324.5,144.4 325.0,111.6 325.2,101.0 325.5,118.4 325.5,123.8 326.0,153.2 326.1,153.8 326.4,135.0 326.5,131.1 326.9,114.5 327.0,116.1 327.5,141.4 327.5,144.2 328.0,150.2 328.0,149.7 328.5,112.1 328.7,93.7 329.0,108.2 329.0,113.3 329.5,158.2 329.5,159.4 330.0,139.1 330.0,132.0 330.5,103.7 330.6,102.2 331.0,117.4 331.0,119.9 331.3,147.0 331.5,134.4 332.0,102.2 332.1,97.7 332.5,112.3 332.5,117.7 333.0,137.7 333.0,140.1 333.3,144.7 333.5,138.5 334.0,114.6 334.3,105.7 334.5,113.4 334.5,116.1 335.0,142.9 335.1,145.3 335.3,151.8 335.5,146.5" fill="none" stroke="#EDB120" stroke-width="0.85" stroke-linejoin="round"/></g>
<path d="M56 9.6H335.5V225.5H56ZM56.0 225.5v-2.8M56.0 9.6v2.8M111.9 225.5v-2.8M111.9 9.6v2.8M167.8 225.5v-2.8M167.8 9.6v2.8M223.7 225.5v-2.8M223.7 9.6v2.8M279.6 225.5v-2.8M279.6 9.6v2.8M335.5 225.5v-2.8M335.5 9.6v2.8M56 205.9h2.8M335.5 205.9h-2.8M56 166.6h2.8M335.5 166.6h-2.8M56 127.4h2.8M335.5 127.4h-2.8M56 88.1h2.8M335.5 88.1h-2.8M56 48.9h2.8M335.5 48.9h-2.8M56 9.6h2.8M335.5 9.6h-2.8" stroke="#4a4a4a" stroke-width="1.15" fill="none"/>
<text x="56.0" y="246.3" font-size="16" text-anchor="middle" fill="#000">0</text>
<text x="111.9" y="246.3" font-size="16" text-anchor="middle" fill="#000">5</text>
<text x="167.8" y="246.3" font-size="16" text-anchor="middle" fill="#000">10</text>
<text x="223.7" y="246.3" font-size="16" text-anchor="middle" fill="#000">15</text>
<text x="279.6" y="246.3" font-size="16" text-anchor="middle" fill="#000">20</text>
<text x="335.5" y="246.3" font-size="16" text-anchor="middle" fill="#000">25</text>
<text x="51.4" y="212.7" font-size="16" text-anchor="end" fill="#000">-200</text>
<text x="51.4" y="173.4" font-size="16" text-anchor="end" fill="#000">-100</text>
<text x="51.4" y="134.2" font-size="16" text-anchor="end" fill="#000">0</text>
<text x="51.4" y="94.9" font-size="16" text-anchor="end" fill="#000">100</text>
<text x="51.4" y="55.7" font-size="16" text-anchor="end" fill="#000">200</text>
<text x="51.4" y="16.4" font-size="16" text-anchor="end" fill="#000">300</text>
<rect x="213.5" y="9.5" width="122.0" height="44.5" fill="#fff" stroke="#4a4a4a" stroke-width="1"/>
<path d="M216 21.2H234" stroke="#0072BD" stroke-width="1"/>
<text class="s" x="236" y="23.8" font-size="13" fill="#000">Pce-H<tspan font-size="9.5" dy="5.5">2</tspan><tspan dy="-5.5"> control</tspan></text>
<path d="M216 42.3H234" stroke="#EDB120" stroke-width="1"/>
<text class="s" x="236" y="44.9" font-size="13" fill="#000">General H<tspan font-size="9.5" dy="5.5">2</tspan><tspan dy="-5.5"> control</tspan></text>
<text class="s" transform="translate(13.7 117.7) rotate(-90)" x="0" y="0" font-size="19" text-anchor="middle" textLength="129.0" lengthAdjust="spacingAndGlyphs" fill="#000">Control force(N)</text>
<text class="s" x="154.8" y="271" font-size="24" fill="#000">Time(s)</text>
<path d="M448.9 5.7V224.7M505.6 5.7V224.7M562.2 5.7V224.7M618.9 5.7V224.7M392.2 193.4H675.6M392.2 162.1H675.6M392.2 130.8H675.6M392.2 99.6H675.6M392.2 68.3H675.6M392.2 37.0H675.6" stroke="#E0E0E0" stroke-width="0.8" fill="none"/>
<g clip-path="url(#caR)"><polyline points="392.5,209.4 392.7,218.4 392.7,223.8 393.2,179.0 393.3,173.3 393.7,180.2 393.7,183.8 394.0,221.6 394.4,192.5 394.7,213.6 394.8,222.6 395.1,189.6 395.2,181.5 395.7,148.0 395.7,144.2 396.0,128.2 396.2,139.0 396.6,220.9 396.7,198.4 397.1,155.5 397.2,158.0 397.7,216.6 397.8,224.5 398.2,185.3 398.3,183.2 398.7,218.6 398.7,220.6 399.0,126.3 399.3,219.0 399.7,171.3 399.8,166.5 400.2,218.7 400.2,202.8 400.6,108.0 400.7,106.2 401.2,223.5 401.2,207.1 401.7,166.9 401.7,165.8 402.2,199.3 402.3,224.0 402.6,142.9 402.7,149.6 403.1,219.6 403.3,195.4 403.6,165.3 403.7,169.4 404.0,223.7 404.4,135.8 404.7,179.0 404.8,218.4 405.2,124.0 405.2,120.5 405.7,219.3 405.7,218.7 406.1,165.9 406.4,219.8 406.7,170.7 406.7,154.6 407.0,121.6 407.2,137.5 407.5,220.2 407.7,174.5 408.0,143.5 408.5,221.3 408.7,141.3 408.9,88.3 409.1,137.7 409.3,216.2 409.7,150.4 409.8,146.0 410.2,224.5 410.2,214.2 410.7,155.0 410.7,156.3 411.2,223.4 411.2,217.0 411.6,109.3 411.8,130.5 412.0,224.0 412.3,174.4 412.6,221.0 412.7,215.1 413.2,161.4 413.4,157.0 413.7,184.3 413.9,220.3 414.2,146.0 414.2,132.7 414.6,71.0 414.7,70.9 415.2,100.9 415.2,111.6 415.7,220.7 415.7,212.7 416.2,118.5 416.3,102.1 416.7,130.4 416.7,138.9 417.1,223.4 417.3,169.3 417.6,133.4 417.8,127.3 418.2,189.7 418.3,224.3 418.7,157.3 418.8,140.8 419.2,162.9 419.2,166.3 419.6,223.2 419.7,213.4 420.0,194.3 420.5,222.9 420.7,201.8 420.7,183.2 421.2,90.9 421.3,81.7 421.7,109.8 421.7,118.3 422.1,220.4 422.2,214.2 422.6,191.3 422.8,193.0 423.1,171.5 423.2,170.9 423.7,179.1 423.7,182.8 424.2,220.0 424.2,222.3 424.7,193.6 424.7,193.7 425.2,222.0 425.2,224.6 425.7,129.9 425.8,128.2 426.2,188.2 426.3,223.6 426.6,153.8 426.7,157.3 427.1,224.1 427.2,217.1 427.7,190.3 427.9,184.6 428.2,205.5 428.3,222.9 428.6,199.8 428.7,194.2 429.2,177.5 429.2,177.3 429.7,220.4 429.7,221.3 430.2,123.4 430.3,118.2 430.7,166.8 430.7,176.1 431.0,219.8 431.3,215.9 431.6,103.3 431.9,73.2 432.2,95.3 432.2,112.4 432.5,216.0 432.7,150.4 433.0,95.4 433.2,117.7 433.7,224.4 433.7,210.3 434.1,161.0 434.3,162.6 434.7,139.1 434.9,132.9 435.2,177.2 435.4,221.7 435.7,153.5 435.7,134.8 435.8,116.8 436.2,141.8 436.5,216.6 436.9,158.2 437.1,191.5 437.3,222.6 437.7,131.0 437.7,130.3 438.2,219.8 438.2,208.9 438.7,147.9 438.7,147.7 439.2,214.5 439.2,220.2 439.7,161.1 439.9,153.7 440.2,181.6 440.4,223.1 440.7,169.4 440.8,146.9 441.2,174.5 441.3,169.4 441.7,201.2 441.9,198.8 442.2,215.1 442.4,224.4 442.6,134.3 442.7,122.5 443.0,85.7 443.2,97.9 443.7,208.5 443.7,207.2 444.2,39.4 444.2,33.1 444.7,144.5 444.7,160.6 445.0,218.0 445.3,148.1 445.6,73.5 445.8,68.6 446.2,125.4 446.4,222.0 446.7,125.3 446.9,86.2 447.2,164.0 447.3,215.5 447.7,150.4 447.9,140.0 448.2,156.8 448.3,161.3 448.6,221.4 448.7,198.9 449.2,186.1 449.2,185.6 449.6,224.5 449.7,202.4 450.2,128.5 450.3,125.7 450.7,144.2 450.8,144.4 451.1,186.7 451.3,224.2 451.7,176.7 451.7,168.3 452.2,141.4 452.2,139.1 452.7,174.6 452.9,221.1 453.2,175.3 453.4,157.3 453.7,212.8 453.8,222.3 454.2,137.7 454.2,127.2 454.7,85.0 454.8,83.4 455.2,100.1 455.2,103.3 455.7,133.9 455.7,134.9 456.1,152.0 456.4,138.6 456.6,179.5 456.7,185.5 457.2,224.7 457.4,209.5 457.7,220.6 457.7,218.8 458.2,111.9 458.2,97.2 458.6,42.0 458.7,66.8 459.2,219.4 459.3,197.9 459.6,116.8 459.8,114.3 460.2,148.2 460.2,156.8 460.7,200.9 460.7,209.8 460.8,222.0 461.3,223.4 461.7,185.0 461.8,182.7 462.2,223.9 462.3,210.9 462.7,124.8 462.7,110.0 462.9,70.3 463.2,108.7 463.6,222.7 463.7,156.7 464.0,123.5 464.2,136.3 464.6,220.6 464.8,184.8 465.0,163.9 465.2,180.0 465.4,222.4 465.7,187.2 466.0,153.5 466.5,222.7 466.7,170.9 466.7,153.5 467.2,95.3 467.2,97.7 467.7,196.4 467.9,222.7 468.2,186.4 468.4,169.2 468.7,179.6 468.7,180.5 469.1,221.2 469.2,208.8 469.7,98.5 469.8,89.7 470.2,120.2 470.2,133.3 470.5,219.3 470.7,195.8 471.0,144.9 471.2,154.6 471.7,220.4 471.7,218.7 472.1,186.8 472.3,188.7 472.6,172.7 472.7,174.9 473.1,222.8 473.3,192.5 473.6,56.3 473.8,36.6 474.2,91.1 474.2,113.5 474.4,224.4 474.7,104.2 475.0,67.1 475.2,109.5 475.5,215.9 475.7,92.4 476.0,30.3 476.3,103.9 476.6,213.2 476.9,133.9 477.2,178.5 477.3,217.7 477.7,144.2 477.7,138.5 478.0,126.8 478.2,137.9 478.7,160.4 478.8,216.1 479.1,131.5 479.3,118.0 479.7,190.9 479.8,217.9 480.2,141.3 480.3,138.7 480.7,168.8 480.9,216.4 481.2,157.9 481.4,139.8 481.7,179.8 481.9,222.0 482.2,191.8 482.4,173.3 482.7,185.1 482.7,188.1 483.0,220.6 483.2,178.8 483.7,113.7 483.8,111.1 484.2,143.7 484.2,147.2 484.6,168.6 484.9,175.3 485.2,164.1 485.2,158.9 485.4,149.3 485.7,159.0 486.1,220.1 486.2,197.2 486.7,130.5 486.7,126.5 487.2,211.3 487.3,222.2 487.6,187.3 487.7,186.5 488.2,212.4 488.3,220.7 488.6,171.0 488.8,223.8 489.2,205.2 489.4,197.8 489.7,214.3 489.8,223.1 490.2,146.9 490.4,122.3 490.7,138.9 490.7,145.4 491.0,219.8 491.2,183.6 491.6,135.6 491.7,141.9 492.2,196.8 492.4,219.6 492.7,161.2 492.8,152.2 493.1,140.9 493.2,139.4 493.7,176.0 493.7,180.3 494.1,224.3 494.5,210.7 494.7,223.6 494.7,219.2 495.2,170.2 495.2,163.5 495.5,148.2 495.8,161.1 496.0,212.8 496.2,158.9 496.5,125.5 496.7,158.3 496.9,222.4 497.2,154.5 497.7,115.9 497.8,113.3 498.2,142.1 498.2,151.6 498.5,222.0 498.7,183.1 499.0,119.9 499.2,131.1 499.7,218.6 499.7,222.5 500.1,201.4 500.5,222.9 500.7,201.0 500.7,194.4 501.2,122.4 501.3,122.3 501.6,163.8 501.9,221.3 502.1,162.9 502.2,172.3 502.4,220.7 502.9,155.6 503.2,207.2 503.3,223.5 503.7,198.0 503.7,198.2 504.0,223.5 504.5,194.6 504.7,199.6 504.8,221.5 505.2,173.8 505.4,159.8 505.7,185.6 505.9,221.8 506.2,176.0 506.4,157.0 506.7,169.6 507.0,223.5 507.1,171.6 507.2,145.8 507.7,51.8 507.7,49.8 508.2,138.8 508.4,216.7 508.7,125.9 509.0,76.9 509.2,124.2 509.4,222.6 509.7,121.6 509.9,96.5 510.2,115.2 510.2,126.5 510.7,224.3 510.9,216.6 511.2,224.1 511.2,219.0 511.7,113.6 511.7,103.4 512.0,79.2 512.2,89.4 512.6,163.5 512.9,222.6 513.2,150.1 513.2,151.9 513.7,208.8 513.7,220.5 514.2,132.5 514.2,123.7 514.5,102.1 514.7,135.9 515.0,219.0 515.3,179.2 515.6,145.1 515.7,146.6 516.2,184.9 516.2,211.9 516.7,106.8 516.7,106.6 517.1,214.2 517.2,167.5 517.7,144.0 517.7,143.7 518.2,195.1 518.3,222.9 518.5,156.8 518.8,217.6 519.2,179.3 519.2,179.5 519.6,217.7 519.7,202.1 520.2,139.9 520.3,136.3 520.7,179.6 520.9,218.9 521.1,177.3 521.3,170.4 521.5,224.1 521.9,188.3 522.2,201.9 522.3,208.5 522.7,183.5 522.7,179.6 523.1,128.9 523.2,134.4 523.6,218.4 523.8,186.8 524.2,150.0 524.3,147.1 524.7,178.7 524.8,224.4 525.2,126.7 525.3,120.7 525.7,200.5 525.7,218.2 526.2,166.0 526.4,157.9 526.6,168.4 526.7,171.7 527.2,213.5 527.4,183.5 527.7,219.5 527.7,219.6 528.2,116.6 528.2,114.5 528.7,178.8 528.7,208.7 529.2,120.2 529.4,103.2 529.6,130.1 529.7,140.7 530.0,222.7 530.3,144.7 530.6,216.4 530.9,138.0 531.2,224.3 531.2,222.6 531.7,166.6 531.8,162.4 532.2,197.1 532.3,220.8 532.7,105.8 532.8,95.4 533.2,188.4 533.2,212.8 533.7,90.3 533.7,89.0 534.1,218.3 534.2,197.9 534.6,156.7 534.8,162.6 535.0,215.5 535.4,140.9 535.7,176.7 535.8,222.6 536.2,104.4 536.3,101.1 536.7,160.6 536.7,176.3 537.0,218.1 537.2,200.6 537.7,120.0 537.8,115.5 538.0,106.7 538.2,113.9 538.7,202.8 538.9,208.5 539.1,223.7 539.2,199.4 539.7,118.7 539.8,112.4 540.2,177.8 540.3,220.1 540.6,158.3 540.8,154.2 541.2,204.3 541.3,219.4 541.7,57.4 541.8,47.1 542.2,154.3 542.5,221.7 542.7,86.9 543.0,198.2 543.2,54.1 543.3,75.8 543.4,223.4 543.7,168.6 544.2,89.1 544.3,85.1 544.7,157.1 544.9,224.6 545.2,145.3 545.2,132.0 545.5,93.8 545.7,121.0 546.2,209.2 546.3,222.8 546.7,187.2 546.7,186.8 547.2,205.9 547.3,209.9 547.7,191.7 547.7,189.6 548.1,173.6 548.2,177.6 548.7,221.7 548.8,215.4 549.0,185.3 549.2,187.1 549.5,220.1 549.9,173.9 550.2,201.0 550.2,217.5 550.7,180.6 550.9,172.8 551.2,189.0 551.4,221.8 551.7,167.8 551.9,152.8 552.2,173.7 552.2,181.8 552.4,221.3 552.7,182.1 552.9,175.0 553.5,176.9 553.7,186.7 553.7,190.4 554.2,205.7 554.4,222.7 554.6,199.1 554.9,183.2 555.2,193.1 555.4,220.4 555.7,183.6 555.8,172.4 556.2,205.8 556.3,224.1 556.7,157.9 556.7,157.2 557.2,195.6 557.3,215.0 557.6,114.6 557.8,103.6 558.1,222.3 558.5,191.6 558.7,218.5 558.7,218.7 559.2,183.7 559.3,178.6 559.7,207.6 559.7,212.2 559.9,224.4 560.5,224.4 560.7,200.6 560.7,185.2 561.0,100.0 561.2,114.9 561.6,215.5 561.7,143.0 562.0,85.8 562.2,159.9 562.4,212.8 562.8,148.8 563.0,125.4 563.2,140.8 563.7,205.9 563.7,213.1 563.8,223.9 564.3,224.1 564.7,196.5 564.7,192.7 565.1,127.7 565.2,132.2 565.7,181.0 565.8,223.9 566.0,130.2 566.2,217.9 566.7,110.4 566.8,101.7 567.2,143.8 567.4,219.2 567.7,128.2 567.8,120.4 568.2,184.9 568.2,194.3 568.5,210.3 568.9,183.9 569.2,217.3 569.2,217.1 569.7,180.3 569.8,173.7 570.1,222.0 570.2,193.6 570.6,132.1 570.7,138.2 571.2,220.7 571.3,221.7 571.4,212.1 572.0,224.2 572.2,192.8 572.2,178.4 572.7,120.0 572.7,120.9 573.2,222.2 573.2,218.6 573.7,172.0 573.7,169.2 574.2,187.5 574.3,188.0 574.7,214.7 574.9,222.6 575.2,206.1 575.3,207.8 575.7,189.8 576.0,222.1 576.2,184.5 576.2,176.5 576.7,131.8 576.8,128.4 577.1,166.9 577.2,175.3 577.4,220.6 577.8,167.8 578.2,193.1 578.4,210.5 578.6,145.4 578.8,214.3 579.2,125.4 579.4,109.6 579.7,142.6 579.8,153.4 580.1,222.8 580.4,224.4 580.7,172.8 580.7,158.1 581.1,97.4 581.2,100.3 581.7,206.0 581.7,219.7 582.1,162.0 582.2,167.4 582.6,195.6 582.7,199.9 582.9,224.7 583.2,224.5 583.7,195.4 583.7,191.7 584.0,159.7 584.5,221.9 584.7,157.2 584.7,148.7 585.2,106.4 585.3,110.1 585.6,165.9 585.9,212.5 586.1,158.9 586.2,167.6 586.6,223.5 586.8,136.8 587.1,223.5 587.2,206.9 587.6,170.8 587.7,178.2 588.2,210.7 588.3,221.3 588.7,163.5 588.8,160.2 589.2,187.7 589.2,192.8 589.6,224.4 589.7,207.2 590.2,93.7 590.5,66.0 590.7,117.0 590.9,217.9 591.1,139.2 591.2,121.8 591.5,74.0 591.7,95.0 592.1,217.1 592.2,198.2 592.5,168.7 592.9,220.5 593.2,113.6 593.4,66.6 593.7,143.9 593.8,167.2 593.9,220.6 594.4,217.5 594.7,152.4 594.7,134.8 595.1,69.6 595.2,98.6 595.6,217.6 595.8,128.1 596.0,216.2 596.4,129.5 596.6,182.8 596.7,212.4 597.2,107.0 597.4,81.8 597.7,118.9 597.7,133.1 598.0,220.5 598.4,101.6 598.7,134.2 598.7,146.5 599.1,222.5 599.3,216.4 599.6,204.1 599.7,199.6 600.2,137.1 600.2,126.5 600.5,106.5 600.7,123.0 601.0,214.9 601.2,118.6 601.5,77.3 601.7,133.1 602.0,220.1 602.4,116.9 602.7,167.7 602.8,218.2 603.2,114.1 603.4,93.2 603.7,131.7 604.0,210.7 604.2,109.7 604.4,88.5 604.7,172.3 604.9,221.4 605.1,145.5 605.2,140.5 605.5,223.3 605.9,185.2 606.2,203.2 606.2,219.3 606.7,167.2 606.9,149.0 607.2,177.4 607.2,182.6 607.6,216.9 607.8,178.3 608.2,137.0 608.2,137.1 608.7,188.0 609.0,222.9 609.2,178.8 609.2,165.3 609.5,136.3 609.7,151.1 610.2,164.7 610.2,169.1 610.6,217.0 610.7,214.6 611.2,138.7 611.4,117.9 611.7,136.6 611.7,147.1 612.0,221.2 612.2,198.3 612.6,169.4 612.7,175.7 613.0,222.4 613.3,187.0 613.6,107.1 613.7,105.1 614.2,190.6 614.3,223.7 614.7,119.1 614.8,108.7 615.2,151.8 615.2,163.0 615.5,215.7 615.9,147.2 616.2,212.6 616.3,218.8 616.7,169.9 616.7,172.1 617.0,224.2 617.2,189.8 617.7,138.4 617.8,135.6 618.2,160.0 618.2,168.8 618.5,218.8 618.7,178.7 619.0,161.9 619.2,172.3 619.5,220.1 619.7,189.2 620.1,147.8 620.2,161.5 620.6,208.4 620.8,132.2 621.2,203.3 621.2,223.1 621.7,136.6 621.8,132.8 622.2,183.9 622.4,224.4 622.6,120.4 622.8,222.6 623.2,189.5 623.3,186.1 623.5,221.7 623.7,191.2 624.2,154.1 624.4,145.1 624.6,170.1 624.9,221.3 625.2,162.8 625.2,152.6 625.6,135.2 625.7,139.2 626.2,185.1 626.2,191.0 626.6,224.6 626.7,215.7 627.2,195.9 627.3,194.3 627.6,169.7 627.7,167.3 628.0,157.6 628.2,163.8 628.7,186.9 628.7,194.4 629.0,223.6 629.2,204.1 629.7,184.3 629.7,184.9 630.2,208.2 630.4,222.2 630.7,191.9 630.7,185.9 631.2,167.7 631.3,154.2 631.6,162.6 631.8,151.6 632.2,173.9 632.2,179.2 632.5,217.6 632.7,179.9 633.0,126.7 633.2,139.3 633.4,148.0 633.8,147.5 634.1,126.9 634.2,129.4 634.7,218.3 634.7,218.5 635.2,138.2 635.4,126.3 635.7,183.9 635.9,219.5 636.2,167.1 636.3,163.3 636.7,169.3 636.7,171.6 636.9,178.0 637.2,173.2 637.6,185.2 638.0,217.7 638.2,127.0 638.3,116.6 638.6,209.6 638.7,207.2 639.2,129.7 639.3,120.6 639.7,190.8 639.8,219.2 640.2,174.2 640.5,169.6 640.7,182.6 640.9,204.8 641.2,86.7 641.3,90.8 641.6,217.3 641.7,189.9 642.0,110.2 642.2,134.7 642.5,224.0 642.9,166.8 643.2,184.2 643.4,220.1 643.7,153.0 643.7,136.8 644.2,80.3 644.3,80.5 644.7,105.7 644.7,113.8 645.2,214.9 645.2,216.7 645.7,120.4 645.8,109.0 646.2,153.5 646.2,165.1 646.5,224.6 646.8,179.4 647.1,218.5 647.2,220.6 647.7,101.1 647.8,90.0 648.2,185.5 648.3,216.7 648.7,124.1 648.7,126.7 649.1,223.3 649.2,149.9 649.5,83.7 649.8,207.9 650.2,85.0 650.2,82.8 650.5,220.5 650.7,164.2 651.1,81.0 651.2,111.6 651.5,216.0 651.7,141.4 652.0,107.1 652.2,116.1 652.6,188.5 652.8,217.5 653.1,140.9 653.2,145.7 653.7,219.5 653.7,205.0 654.2,157.0 654.2,155.6 654.7,178.3 655.0,223.3 655.2,184.6 655.5,156.4 655.6,176.5 655.9,223.0 656.2,182.7 656.4,168.5 656.7,188.5 656.8,220.4 657.2,181.0 657.2,177.3 657.4,170.0 657.7,178.3 658.2,221.3 658.4,217.9 658.7,212.5 658.8,210.1 659.0,223.1 659.3,212.7 659.6,224.0 659.8,217.2 660.0,224.7 660.2,217.9 660.7,192.5 660.7,192.0 661.1,207.3 661.3,224.2 661.7,205.4 661.7,200.4 662.0,185.1 662.3,188.2 662.7,172.4 662.7,168.0 662.9,161.5 663.2,168.8 663.5,220.2 663.8,187.8 664.1,153.4 664.2,155.6 664.7,222.3 664.7,222.5 665.1,200.8 665.5,223.4 665.7,201.4 665.7,192.1 666.0,164.8 666.2,181.5 666.6,222.2 666.7,210.7 667.0,192.3 667.3,222.4 667.7,186.5 667.8,177.6 668.2,191.9 668.2,193.1 668.6,221.0 669.0,203.6 669.2,221.2 669.3,221.0 669.6,189.5 669.8,184.2 670.2,203.2 670.4,223.9 670.7,204.8 670.7,200.9 670.9,195.4 671.4,194.3 671.7,197.5 671.7,197.7 672.2,212.8 672.4,224.4 672.7,208.1 672.7,203.5 673.2,169.8 673.3,168.4 673.7,202.2 673.8,224.4 674.2,184.4 674.4,179.4 674.7,199.6 674.9,221.7 675.1,176.2 675.2,169.4 675.4,158.1" fill="none" stroke="#CC00FF" stroke-width="0.85" stroke-linejoin="round"/></g>
<g clip-path="url(#caR)"><polyline points="392.3,203.4 392.7,218.2 392.8,224.2 393.2,193.4 393.3,191.4 393.7,205.7 393.9,224.2 394.2,202.7 394.4,197.6 394.7,210.4 394.8,214.3 395.0,224.2 395.2,218.1 395.7,198.6 395.7,194.0 396.1,168.7 396.2,171.4 396.7,223.8 396.7,215.5 397.1,179.1 397.2,183.7 397.6,222.7 397.8,211.7 398.0,198.4 398.5,222.7 398.7,193.0 398.9,159.5 399.2,184.1 399.2,194.1 399.4,222.5 399.9,187.5 400.2,203.4 400.4,223.1 400.6,156.3 400.8,141.7 401.2,178.3 401.3,223.2 401.7,142.5 401.8,136.0 402.2,193.4 402.3,219.5 402.7,160.8 402.7,160.2 403.2,209.4 403.3,222.8 403.6,191.0 403.7,193.0 404.0,221.0 404.2,184.5 404.4,163.9 404.9,222.4 405.2,170.6 405.3,163.2 405.7,219.8 405.7,219.9 406.2,173.4 406.3,175.3 406.7,209.0 406.7,222.5 407.1,169.5 407.4,219.9 407.7,183.3 407.7,178.6 408.0,163.6 408.5,219.3 408.7,179.5 408.9,162.0 409.1,174.7 409.2,180.9 409.4,217.6 409.9,163.5 410.2,177.5 410.2,185.5 410.5,221.8 410.9,178.5 411.2,194.3 411.4,221.3 411.7,163.3 411.9,143.1 412.2,161.6 412.2,171.7 412.5,223.5 412.9,220.5 413.2,192.2 413.2,186.0 413.5,168.7 413.7,175.3 414.1,220.6 414.2,197.7 414.6,157.0 414.8,150.6 415.0,155.2 415.2,153.9 415.7,185.5 415.9,220.6 416.2,186.7 416.2,177.7 416.5,136.9 416.7,146.2 417.1,224.0 417.3,195.9 417.6,147.1 417.7,144.8 418.2,189.5 418.3,218.9 418.7,111.4 418.7,111.3 419.2,197.0 419.2,219.0 419.7,105.5 419.7,103.0 420.2,208.7 420.3,220.9 420.7,194.5 420.7,193.9 421.2,208.1 421.2,209.2 421.7,161.1 421.7,154.9 422.1,123.0 422.2,131.9 422.7,223.8 422.8,219.5 423.1,184.1 423.3,177.0 423.7,193.5 423.7,195.4 424.2,223.7 424.2,221.1 424.6,198.2 424.7,201.6 425.2,224.0 425.2,223.4 425.5,200.8 425.8,200.4 426.1,186.1 426.2,190.0 426.7,206.4 426.9,216.0 427.2,204.5 427.2,202.5 427.7,162.1 427.9,141.1 428.2,167.5 428.2,177.9 428.5,217.1 428.7,183.7 429.1,156.9 429.2,159.4 429.7,207.7 429.8,223.7 430.1,198.1 430.2,199.9 430.6,221.5 430.7,204.3 431.1,169.2 431.3,186.0 431.4,222.4 431.7,178.3 431.9,147.9 432.2,176.2 432.6,220.7 432.8,185.4 433.2,208.1 433.3,223.2 433.7,167.6 434.0,212.7 434.2,141.7 434.3,139.6 434.4,213.9 434.7,181.4 435.1,164.9 435.2,170.8 435.6,223.0 435.7,189.2 436.1,147.6 436.2,158.6 436.5,216.0 436.9,170.9 437.1,189.3 437.4,219.4 437.7,164.3 437.7,160.6 438.2,212.9 438.2,224.7 438.7,166.1 438.7,165.2 439.2,224.4 439.2,212.9 439.7,165.4 439.8,163.5 440.2,200.7 440.3,222.1 440.7,177.2 440.7,177.8 441.2,195.3 441.3,198.6 441.7,175.6 442.0,171.7 442.2,187.5 442.4,224.6 442.6,164.9 442.7,152.2 442.9,126.5 443.2,139.0 443.7,210.7 443.7,221.2 444.2,197.5 444.5,220.5 444.7,191.5 444.7,186.0 445.2,160.4 445.3,157.6 445.6,136.9 445.7,130.6 445.9,117.5 446.2,127.9 446.6,210.8 446.7,167.2 447.0,133.2 447.3,219.0 447.7,157.6 447.9,143.5 448.2,155.3 448.3,159.3 448.6,220.8 448.7,207.0 449.2,183.0 449.2,182.1 449.6,224.7 449.7,208.2 450.2,139.3 450.2,139.3 450.7,181.8 450.9,223.6 451.1,189.9 451.2,185.3 451.7,155.9 451.9,145.3 452.2,152.8 452.2,156.4 452.7,204.1 452.7,219.6 453.2,178.8 453.3,177.9 453.6,221.2 453.8,204.0 454.2,135.4 454.2,129.3 454.7,114.2 454.8,113.6 455.2,137.3 455.2,141.5 455.7,185.1 455.7,186.6 456.1,209.0 456.2,193.8 456.4,182.6 456.7,190.4 457.0,224.1 457.2,216.4 457.5,192.1 457.7,221.1 458.2,177.3 458.4,166.8 458.7,178.0 458.7,182.7 459.1,218.8 459.3,167.2 459.6,130.9 459.7,133.1 460.2,188.9 460.2,199.0 460.3,223.5 460.9,222.4 461.2,199.9 461.5,177.6 461.7,213.1 461.9,204.1 462.1,224.1 462.3,207.2 462.7,136.7 462.9,113.2 463.2,133.5 463.2,145.8 463.5,224.5 464.0,126.4 464.2,155.6 464.2,172.8 464.4,215.0 464.9,164.3 465.1,195.8 465.3,221.5 465.7,174.1 465.9,167.7 466.2,212.5 466.2,218.7 466.7,115.9 466.8,105.8 467.2,134.8 467.2,138.1 467.7,196.5 467.8,202.0 467.9,221.2 468.3,212.7 468.7,186.6 468.7,187.8 469.1,222.3 469.2,196.0 469.7,102.3 469.9,90.0 470.2,142.2 470.2,157.4 470.5,223.9 470.9,158.3 471.2,184.6 471.2,190.6 471.5,221.2 471.7,188.3 472.2,136.7 472.2,133.1 472.7,83.4 472.8,73.9 473.2,208.2 473.3,220.7 473.6,96.4 473.8,81.8 474.2,136.3 474.4,222.2 474.7,136.5 474.8,124.7 475.2,156.8 475.2,174.9 475.3,218.4 475.7,169.7 476.0,150.5 476.5,224.3 476.7,171.0 476.9,129.6 477.2,171.7 477.3,221.4 477.7,153.5 477.7,150.3 478.1,137.3 478.5,135.0 478.7,144.4 478.8,149.2 479.1,208.4 479.2,216.2 479.5,135.1 479.7,158.0 479.9,212.7 480.2,160.7 480.5,152.2 480.7,162.9 481.1,221.0 481.2,171.8 481.5,155.5 481.8,165.5 482.1,220.6 482.2,211.3 482.5,184.2 482.7,191.4 483.0,221.7 483.2,188.3 483.7,136.6 483.7,137.8 484.2,184.5 484.2,188.7 484.3,151.3 484.7,176.7 485.2,166.5 485.3,165.0 485.7,183.0 485.7,187.9 486.0,224.6 486.2,198.2 486.5,183.7 486.7,195.8 487.0,223.6 487.3,208.8 487.5,191.4 487.7,198.3 488.1,220.5 488.4,154.1 488.7,196.1 488.7,220.0 489.2,170.7 489.3,165.4 489.7,205.3 489.8,223.4 490.2,177.7 490.3,173.7 490.7,192.5 490.9,222.5 491.2,198.4 491.3,191.8 491.7,195.3 491.7,197.2 492.2,211.5 492.2,212.3 492.4,224.4 492.8,214.8 493.1,202.5 493.2,201.4 493.5,192.3 493.7,203.3 494.0,223.5 494.3,200.2 494.7,218.7 494.7,224.7 495.2,174.9 495.5,166.8 495.7,176.4 495.8,181.0 496.2,219.7 496.2,222.1 496.4,205.7 497.0,222.6 497.2,210.8 497.2,208.1 497.7,193.6 497.7,192.0 498.1,188.3 498.2,190.2 498.5,224.0 498.7,196.3 499.1,157.2 499.2,160.5 499.7,211.7 499.7,221.0 500.2,189.5 500.2,191.0 500.6,221.9 500.7,201.9 501.1,166.1 501.3,167.3 501.6,185.9 501.7,190.6 501.9,221.6 502.3,222.3 502.7,190.8 502.8,183.1 503.2,223.3 503.2,214.4 503.6,183.1 503.7,186.4 504.1,222.4 504.3,203.6 504.6,172.0 504.7,179.7 504.9,220.8 505.3,190.7 505.7,218.7 505.8,224.1 506.2,188.1 506.5,181.6 506.7,191.9 506.8,198.3 507.1,210.9 507.3,221.9 507.7,187.4 507.7,180.2 508.2,156.1 508.2,155.3 508.6,218.5 508.7,205.4 509.0,177.6 509.4,220.9 509.7,135.4 509.9,99.6 510.2,131.5 510.4,219.3 510.7,147.1 510.9,84.0 511.2,128.6 511.4,218.7 511.7,134.5 511.7,123.1 512.0,99.8 512.2,110.3 512.6,170.2 512.7,178.1 512.9,223.1 513.2,192.3 513.7,202.1 513.9,223.3 514.2,180.6 514.2,171.3 514.6,134.8 514.7,145.1 515.0,217.8 515.3,186.2 515.6,164.8 515.7,166.0 516.2,198.2 516.3,222.6 516.7,171.1 516.7,170.4 517.1,224.2 517.2,209.4 517.6,173.0 517.7,177.0 518.2,224.1 518.3,207.5 518.5,170.0 518.9,224.2 519.2,184.7 519.3,180.2 519.7,214.3 519.7,223.6 520.2,161.2 520.2,160.1 520.7,194.0 520.8,218.0 521.1,172.9 521.2,175.5 521.5,219.1 521.7,189.6 522.2,172.2 522.2,170.4 522.7,154.3 522.8,152.2 523.2,190.0 523.3,220.9 523.7,185.9 523.8,183.2 524.2,163.1 524.2,162.9 524.7,184.0 524.7,185.2 524.9,222.0 525.5,204.3 525.7,213.0 525.9,224.3 526.2,204.5 526.2,204.4 526.6,192.9 526.7,192.3 527.2,183.5 527.3,184.2 527.7,167.9 527.7,167.6 528.2,144.1 528.2,144.0 528.7,186.6 528.9,216.1 529.2,161.1 529.3,156.0 529.5,138.4 529.7,144.8 530.2,188.8 530.2,193.2 530.7,215.0 531.1,224.2 531.2,208.6 531.2,201.1 531.7,150.7 531.7,151.9 532.2,213.3 532.3,221.5 532.7,156.9 532.7,158.8 533.0,216.4 533.2,193.5 533.5,178.6 533.9,221.1 534.2,157.1 534.4,128.6 534.7,154.9 535.0,220.9 535.1,165.4 535.2,150.0 535.4,120.5 536.0,215.5 536.2,140.5 536.3,116.4 536.7,196.6 536.7,221.6 537.1,112.8 537.2,139.5 537.4,216.4 537.8,162.0 538.0,140.7 538.2,159.0 538.5,219.7 538.7,203.9 539.0,180.2 539.3,224.4 539.7,167.5 539.8,156.3 540.2,222.4 540.2,215.3 540.6,174.4 540.7,176.3 541.2,211.2 541.2,222.3 541.7,158.8 541.7,160.4 542.2,210.1 542.3,223.2 542.6,162.5 543.1,214.7 543.2,153.8 543.3,134.9 543.5,218.1 543.7,203.2 544.1,169.3 544.2,171.7 544.7,196.6 544.8,224.1 545.2,178.0 545.3,171.3 545.7,182.3 545.7,185.5 546.1,223.7 546.3,207.2 546.5,181.8 546.8,219.5 547.2,160.3 547.2,158.0 547.6,218.3 547.7,209.6 548.2,183.3 548.3,181.7 548.7,210.0 548.9,221.7 549.1,193.2 549.2,195.8 549.7,221.0 549.9,172.8 550.2,215.8 550.2,222.6 550.7,198.2 550.7,198.2 551.2,209.0 551.3,219.9 551.7,163.8 551.8,158.7 552.2,185.9 552.2,194.8 552.4,222.2 552.9,194.8 553.2,202.0 553.2,203.5 553.7,222.6 553.7,223.0 554.2,206.4 554.2,204.2 554.5,190.2 554.9,193.5 555.2,215.5 555.2,222.8 555.7,200.4 555.7,198.6 556.2,217.2 556.2,223.0 556.7,188.0 556.9,183.7 557.2,193.8 557.3,195.1 557.6,217.5 558.0,224.3 558.2,218.3 558.3,212.1 558.6,223.7 558.7,215.6 559.2,176.6 559.2,176.3 559.7,217.0 559.7,224.5 560.1,201.1 560.3,202.9 560.7,213.3 560.8,224.1 561.2,204.5 561.2,204.0 561.6,224.5 562.0,210.7 562.2,217.2 562.3,223.3 562.7,180.4 562.9,171.1 563.1,183.2 563.2,188.1 563.5,223.6 563.7,207.7 563.9,200.6 564.2,203.9 564.6,224.0 564.7,201.9 565.0,186.5 565.2,196.7 565.6,223.3 565.8,213.2 566.0,208.3 566.4,224.5 566.7,204.5 566.9,195.6 567.2,201.6 567.5,211.1 567.7,203.7 567.7,201.3 568.1,184.1 568.2,187.8 568.6,221.1 568.7,203.9 569.0,178.3 569.3,223.6 569.7,171.9 569.7,173.0 570.0,222.6 570.2,196.5 570.6,177.1 570.7,183.4 571.0,220.3 571.3,200.5 571.6,198.2 571.7,200.2 572.1,223.8 572.2,208.4 572.6,175.9 572.7,182.3 573.1,224.4 573.2,213.0 573.7,198.7 573.7,197.6 574.1,216.7 574.3,219.5 574.7,166.3 574.8,163.0 575.2,174.1 575.2,175.5 575.7,186.9 575.7,191.1 576.0,223.1 576.2,206.6 576.5,186.9 576.8,202.2 577.1,222.9 577.2,204.6 577.6,171.2 577.7,173.4 578.2,221.1 578.2,211.7 578.5,179.3 578.9,218.7 579.2,168.9 579.2,165.6 579.5,161.1 579.8,168.6 580.0,215.9 580.3,167.3 580.7,208.6 580.7,220.1 581.2,145.5 581.2,144.1 581.7,180.9 581.7,188.3 582.2,221.1 582.2,223.7 582.6,205.2 582.7,200.8 583.0,180.9 583.2,186.6 583.5,222.5 583.7,182.8 584.1,125.0 584.2,131.4 584.5,215.3 584.7,177.7 585.1,150.0 585.3,152.5 585.6,189.9 585.8,217.1 586.1,164.0 586.2,170.4 586.5,224.5 587.0,144.9 587.2,180.6 587.3,224.7 587.7,166.0 588.0,150.3 588.2,169.8 588.3,180.6 588.5,223.0 588.7,202.8 589.0,170.3 589.2,173.3 589.7,215.1 589.7,223.4 590.2,166.3 590.3,162.3 590.7,188.7 590.9,219.7 591.1,187.9 591.4,158.2 591.7,180.8 592.0,220.3 592.2,160.3 592.3,133.0 592.7,168.7 592.8,217.7 593.2,95.0 593.2,92.7 593.6,207.9 593.8,161.7 594.0,86.5 594.3,217.0 594.7,91.5 594.8,88.0 595.2,212.6 595.2,220.3 595.5,195.6 595.9,218.8 596.2,162.5 596.4,154.9 596.6,169.9 596.9,219.4 597.2,162.6 597.3,149.0 597.7,167.7 597.7,175.9 598.0,222.3 598.2,166.0 598.5,142.8 598.7,154.9 599.2,202.5 599.3,208.7 599.5,224.5 599.7,199.8 600.2,118.2 600.4,106.5 600.7,152.8 600.9,217.0 601.2,140.5 601.4,117.7 601.7,162.4 601.9,214.5 602.2,119.4 602.3,121.2 602.7,221.1 602.7,221.0 603.2,178.7 603.2,181.1 603.7,224.0 603.7,208.6 604.2,128.4 604.3,126.7 604.7,192.0 604.9,212.6 605.1,131.3 605.2,124.7 605.7,178.0 605.9,220.1 606.2,185.4 606.2,173.0 606.6,119.6 606.7,123.7 607.2,192.0 607.4,219.6 607.7,188.3 607.9,191.1 608.2,171.1 608.2,161.5 608.7,120.9 608.8,110.2 609.2,156.1 609.2,167.7 609.5,224.6 609.7,176.2 610.2,163.7 610.2,165.3 610.6,218.6 610.7,223.7 611.2,175.2 611.4,159.9 611.7,178.3 611.7,188.6 611.9,224.6 612.2,190.8 612.5,173.7 613.0,219.1 613.2,181.6 613.3,172.7 613.6,137.8 613.7,139.1 614.2,209.2 614.2,220.3 614.7,158.4 614.7,157.8 615.2,183.5 615.2,190.1 615.5,224.0 615.8,191.8 616.1,201.3 616.5,205.8 616.7,191.7 616.7,182.0 617.2,140.9 617.4,130.9 617.7,148.4 617.7,154.9 618.2,221.4 618.2,219.2 618.6,186.5 618.7,188.9 619.0,182.2 619.2,191.4 619.5,223.9 619.7,184.0 620.1,135.2 620.2,140.4 620.7,199.1 620.7,208.3 621.1,224.5 621.2,219.2 621.5,205.2 621.8,224.2 622.2,177.5 622.2,168.9 622.5,152.6 622.7,173.6 622.9,221.6 623.5,170.3 623.7,193.1 623.9,224.4 624.2,196.9 624.2,195.3 624.5,184.1 624.7,190.6 625.2,221.0 625.2,210.1 625.7,175.4 625.8,172.9 626.2,198.5 626.2,201.7 626.7,209.7 626.7,211.4 627.2,224.1 627.3,222.4 627.6,200.6 627.7,196.7 628.2,181.4 628.3,179.0 628.7,198.0 628.7,198.4 629.0,221.6 629.2,208.6 629.6,195.5 629.7,196.2 630.2,210.2 630.5,223.9 630.7,210.7 630.7,205.5 631.2,181.0 631.2,176.8 631.7,164.7 631.8,164.6 632.2,168.9 632.2,171.1 632.7,202.2 632.7,205.2 633.0,224.4 633.2,214.0 633.7,178.6 633.7,174.7 634.1,168.4 634.2,171.4 634.7,216.4 634.7,224.4 635.2,174.2 635.3,170.0 635.7,209.7 635.8,219.4 636.2,182.1 636.2,180.2 636.5,170.5 636.7,176.2 637.2,187.1 637.2,189.3 637.6,223.6 637.7,203.1 638.2,179.0 638.3,172.3 638.6,218.5 638.7,203.2 639.2,155.7 639.3,146.1 639.7,199.2 639.8,219.8 640.2,163.0 640.3,157.7 640.7,197.6 640.8,220.1 641.1,187.5 641.3,192.4 641.5,221.3 641.7,183.6 642.0,154.0 642.2,163.0 642.6,223.7 642.7,188.9 643.1,144.5 643.2,155.3 643.5,217.6 643.7,173.7 644.2,140.5 644.3,139.8 644.7,155.3 644.7,158.9 645.2,178.0 645.4,218.3 645.7,155.3 645.7,142.3 646.1,104.0 646.2,121.6 646.6,214.3 646.7,137.1 647.0,104.5 647.3,212.1 647.7,114.2 647.8,102.5 648.2,178.5 648.2,213.7 648.6,101.1 648.7,148.8 648.8,220.7 649.4,144.3 649.7,203.4 649.8,218.3 650.2,145.9 650.2,148.1 650.7,220.4 650.7,205.4 651.0,158.8 651.2,162.9 651.6,222.1 651.7,191.0 652.1,140.4 652.2,143.4 652.6,193.3 652.7,216.0 653.2,149.5 653.2,148.7 653.6,220.2 653.7,185.8 654.1,160.5 654.2,165.5 654.7,190.5 654.9,212.8 655.2,138.6 655.3,138.4 655.6,197.1 655.8,218.4 656.2,163.1 656.3,155.8 656.7,208.6 656.7,224.0 657.2,162.1 657.4,154.0 657.7,178.6 657.7,186.4 658.0,223.8 658.4,180.7 658.7,191.3 658.9,224.5 659.2,160.6 659.3,151.2 659.5,224.6 660.0,160.1 660.2,179.8 660.4,223.8 660.7,185.5 660.9,178.8 661.1,186.4 661.2,190.4 661.5,221.3 661.7,193.2 662.0,174.5 662.2,175.7 662.6,189.3 662.7,185.0 662.9,178.4 663.2,185.0 663.6,222.6 663.8,210.1 664.1,183.5 664.2,184.1 664.7,214.1 664.7,220.1 665.2,177.7 665.2,179.2 665.6,221.1 665.7,197.3 666.0,177.4 666.2,189.7 666.5,223.9 666.9,201.7 667.2,219.3 667.2,224.5 667.7,186.3 667.9,183.9 668.2,200.6 668.3,220.4 668.7,166.4 668.7,164.6 669.2,222.6 669.3,211.0 669.5,167.6 669.7,176.6 670.1,218.9 670.2,199.8 670.6,179.8 670.7,184.0 671.1,224.1 671.3,189.6 671.6,224.1 671.7,207.0 672.2,171.7 672.3,171.8 672.7,217.5 672.7,224.7 673.2,198.1 673.3,193.7 673.7,210.3 673.8,221.9 674.2,192.6 674.4,186.1 674.7,209.7 674.8,222.0 675.1,192.7 675.4,181.1 675.6,190.5" fill="none" stroke="#4DFCFF" stroke-width="0.7" stroke-linejoin="round"/></g>
<path d="M392.2 5.7H675.6V224.7H392.2ZM392.2 224.7v-2.8M392.2 5.7v2.8M448.9 224.7v-2.8M448.9 5.7v2.8M505.6 224.7v-2.8M505.6 5.7v2.8M562.2 224.7v-2.8M562.2 5.7v2.8M618.9 224.7v-2.8M618.9 5.7v2.8M675.6 224.7v-2.8M675.6 5.7v2.8M392.2 224.7h2.8M675.6 224.7h-2.8M392.2 193.4h2.8M675.6 193.4h-2.8M392.2 162.1h2.8M675.6 162.1h-2.8M392.2 130.8h2.8M675.6 130.8h-2.8M392.2 99.6h2.8M675.6 99.6h-2.8M392.2 68.3h2.8M675.6 68.3h-2.8M392.2 37.0h2.8M675.6 37.0h-2.8M392.2 5.7h2.8M675.6 5.7h-2.8" stroke="#4a4a4a" stroke-width="1.15" fill="none"/>
<text x="392.2" y="245.5" font-size="16" text-anchor="middle" fill="#000">0</text>
<text x="448.9" y="245.5" font-size="16" text-anchor="middle" fill="#000">5</text>
<text x="505.6" y="245.5" font-size="16" text-anchor="middle" fill="#000">10</text>
<text x="562.2" y="245.5" font-size="16" text-anchor="middle" fill="#000">15</text>
<text x="618.9" y="245.5" font-size="16" text-anchor="middle" fill="#000">20</text>
<text x="675.6" y="245.5" font-size="16" text-anchor="middle" fill="#000">25</text>
<text x="387.6" y="231.5" font-size="16" text-anchor="end" fill="#000">0</text>
<text x="387.6" y="200.2" font-size="16" text-anchor="end" fill="#000">0.5</text>
<text x="387.6" y="168.9" font-size="16" text-anchor="end" fill="#000">1</text>
<text x="387.6" y="137.6" font-size="16" text-anchor="end" fill="#000">1.5</text>
<text x="387.6" y="106.4" font-size="16" text-anchor="end" fill="#000">2</text>
<text x="387.6" y="75.1" font-size="16" text-anchor="end" fill="#000">2.5</text>
<text x="387.6" y="43.8" font-size="16" text-anchor="end" fill="#000">3</text>
<text x="387.6" y="12.5" font-size="16" text-anchor="end" fill="#000">3.5</text>
<rect x="551.6" y="5.7" width="123.9" height="45.1" fill="#fff" stroke="#4a4a4a" stroke-width="1"/>
<path d="M553.8 16.5H572.8" stroke="#CC00FF" stroke-width="1"/>
<text class="s" x="574.5" y="19.1" font-size="13" fill="#000">Pce-H<tspan font-size="9.5" dy="5.5">2</tspan><tspan dy="-5.5"> control</tspan></text>
<path d="M553.8 38.7H572.8" stroke="#4DFCFF" stroke-width="1"/>
<text class="s" x="574.5" y="41.3" font-size="13" fill="#000">General H<tspan font-size="9.5" dy="5.5">2</tspan><tspan dy="-5.5"> control</tspan></text>
<text class="s" transform="translate(359.1 115.5) rotate(-90)" x="0" y="0" font-size="19.5" text-anchor="middle" textLength="146.1" lengthAdjust="spacingAndGlyphs" fill="#000">Control current(A)</text>
<text class="s" x="491.6" y="271" font-size="24" fill="#000">Time(s)</text>
<path d="M111.2 338.2V552.9M166.7 338.2V552.9M222.2 338.2V552.9M277.7 338.2V552.9M55.7 505.2H333.2M55.7 457.5H333.2M55.7 409.8H333.2M55.7 362.1H333.2" stroke="#E0E0E0" stroke-width="0.8" fill="none"/>
<g clip-path="url(#cbL)"><polyline points="55.8,436.0 56.2,451.7 56.3,453.8 56.7,481.6 56.9,486.8 57.2,474.6 57.3,469.6 57.7,440.1 57.8,440.4 58.2,456.3 58.3,461.5 58.7,481.8 58.8,482.0 59.2,467.6 59.3,465.2 59.7,451.7 59.9,449.4 60.2,454.2 60.4,456.9 60.7,448.7 60.8,447.3 61.1,437.5 61.2,441.4 61.7,468.7 61.7,471.1 62.1,487.5 62.2,486.1 62.7,479.7 62.7,476.0 63.2,454.6 63.2,450.0 63.7,418.1 63.7,413.4 64.2,398.2 64.2,398.7 64.7,448.9 64.7,458.5 65.2,523.0 65.5,530.4 65.7,516.3 65.7,509.2 66.2,463.6 66.2,460.6 66.5,452.9 66.7,452.7 67.0,450.3 67.5,448.8 67.7,456.0 67.7,459.5 68.2,505.6 68.4,512.8 68.7,498.6 68.7,492.6 69.2,446.7 69.2,441.9 69.5,431.3 69.7,437.2 70.2,474.6 70.2,478.3 70.5,492.7 70.7,477.7 71.2,440.5 71.4,435.8 71.7,443.6 71.7,445.2 72.2,480.6 72.2,483.9 72.5,494.6 72.7,486.0 73.2,443.1 73.2,439.7 73.6,409.2 73.7,412.9 74.2,436.3 74.2,440.9 74.7,465.3 74.7,469.3 75.2,483.3 75.2,489.7 75.7,519.8 75.8,528.5 76.2,508.7 76.2,503.4 76.7,412.8 76.7,402.3 77.0,363.7 77.2,389.3 77.7,460.1 77.9,529.1 78.2,428.6 78.2,416.7 78.5,391.7 78.7,421.2 79.2,481.6 79.5,493.0 79.7,481.3 79.7,478.2 80.2,454.1 80.4,422.4 80.7,447.2 80.9,486.3 81.2,447.6 81.2,445.4 81.7,423.3 81.8,416.6 82.2,433.5 82.2,437.9 82.7,506.1 83.0,519.4 83.2,503.4 83.2,496.7 83.7,471.6 83.7,472.5 84.2,501.2 84.3,506.9 84.7,470.8 84.7,461.4 85.2,411.2 85.5,402.5 85.7,414.6 85.7,421.6 86.2,469.2 86.2,474.9 86.7,483.0 86.7,482.8 87.2,467.9 87.2,467.1 87.7,454.4 87.7,452.0 88.2,416.7 88.3,412.6 88.7,429.0 88.7,434.9 89.1,500.6 89.2,496.2 89.7,427.7 89.7,425.0 90.1,414.9 90.2,417.9 90.7,459.6 90.7,467.5 91.1,494.2 91.2,488.0 91.7,426.5 91.9,397.8 92.2,428.5 92.2,442.0 92.7,486.3 92.7,486.5 93.2,447.1 93.2,439.2 93.7,393.6 93.7,392.7 94.2,433.8 94.2,437.4 94.7,469.0 94.8,469.3 95.2,500.5 95.2,506.6 95.7,540.4 95.7,538.2 96.2,476.9 96.2,461.7 96.7,366.7 96.7,367.8 97.2,451.1 97.2,463.6 97.5,486.4 97.7,480.1 98.2,432.3 98.2,425.6 98.4,410.1 98.7,431.3 99.2,509.0 99.3,517.9 99.7,482.2 99.7,473.7 100.2,380.8 100.2,382.9 100.7,450.8 100.7,461.6 101.2,486.7 101.2,488.4 101.7,495.8 101.8,498.2 102.2,479.5 102.2,475.1 102.7,438.8 102.9,425.2 103.2,436.6 103.2,439.3 103.7,500.8 103.7,511.0 104.0,543.6 104.2,523.2 104.7,440.5 104.7,431.1 104.9,412.8 105.2,434.8 105.7,479.8 105.7,480.2 106.1,412.1 106.2,404.8 106.5,389.2 106.7,397.5 107.1,443.9 107.4,453.7 107.6,444.9 107.9,441.1 108.1,451.4 108.2,455.9 108.6,486.2 108.7,486.8 109.1,435.8 109.2,424.5 109.6,376.0 109.7,378.0 110.1,457.7 110.2,473.9 110.5,512.7 110.7,499.5 111.1,424.5 111.4,417.9 111.7,452.1 111.8,463.0 112.2,520.5 112.3,521.7 112.7,484.7 112.8,474.1 113.2,430.8 113.4,426.2 113.7,438.3 113.8,440.2 114.2,489.2 114.3,493.1 114.6,419.1 114.8,452.4 115.2,484.9 115.3,487.6 115.5,505.1 115.8,485.6 116.2,429.1 116.3,425.0 116.6,409.9 116.8,415.1 117.2,450.2 117.2,464.2 117.6,507.0 117.7,503.4 118.2,449.9 118.2,440.1 118.5,403.7 118.7,416.8 119.2,467.0 119.2,471.2 119.6,488.4 119.7,485.0 120.2,432.2 120.2,423.5 120.6,374.4 120.7,378.3 121.2,445.2 121.2,458.2 121.7,492.5 121.8,496.4 122.2,483.4 122.2,483.1 122.7,465.4 122.7,462.3 123.2,444.5 123.2,440.6 123.7,414.1 124.0,398.2 124.2,414.2 124.2,422.0 124.7,495.7 124.7,501.5 125.2,519.0 125.2,518.9 125.7,479.7 125.7,473.4 126.2,395.9 126.4,392.2 126.7,440.8 126.7,451.2 127.2,531.8 127.3,540.9 127.7,500.8 127.7,489.7 128.2,403.4 128.3,390.1 128.7,411.5 128.7,419.1 129.2,478.8 129.5,491.1 129.7,468.4 129.7,460.2 130.2,401.9 130.3,392.7 130.7,429.3 130.7,436.6 131.2,516.3 131.2,513.5 131.7,441.6 131.7,428.7 132.1,388.1 132.2,400.9 132.7,510.5 132.8,522.0 133.2,438.4 133.2,433.1 133.6,393.6 133.7,401.9 134.2,472.4 134.2,475.5 134.7,492.9 134.7,494.2 135.2,465.9 135.2,461.5 135.7,428.6 135.7,425.1 136.0,414.5 136.2,420.2 136.5,429.6 136.7,429.8 137.2,511.5 137.4,540.0 137.7,514.6 137.7,508.3 138.2,430.9 138.2,423.3 138.6,382.4 138.7,389.9 139.2,416.2 139.2,417.1 139.7,386.4 139.8,381.0 140.2,440.3 140.2,454.7 140.7,506.2 140.7,505.4 141.2,460.9 141.2,450.3 141.7,412.4 141.7,413.8 142.2,478.5 142.2,485.7 142.7,513.4 142.8,515.3 143.2,488.1 143.2,483.0 143.7,435.2 143.9,435.2 144.2,450.5 144.2,453.4 144.6,459.3 144.7,457.2 145.0,446.3 145.3,448.6 145.7,468.1 145.7,472.1 146.1,483.5 146.2,482.0 146.7,462.9 147.0,422.8 147.2,465.5 147.2,475.3 147.6,514.4 147.7,490.7 148.2,448.7 148.5,442.8 148.7,449.3 148.7,451.8 149.2,481.4 149.2,485.0 149.7,495.5 149.7,494.4 150.1,484.0 150.4,482.0 150.7,485.5 150.7,487.4 150.9,492.0 151.2,488.2 151.7,459.0 151.7,451.2 152.2,426.8 152.2,427.9 152.7,448.1 152.8,452.5 153.2,442.6 153.2,441.2 153.6,437.3 153.7,439.5 154.2,462.6 154.2,465.8 154.5,484.6 154.7,480.9 155.2,450.8 155.2,447.6 155.7,436.5 155.7,437.1 156.2,451.5 156.2,452.9 156.5,456.6 156.7,454.5 157.2,436.6 157.2,436.0 157.7,452.9 157.7,458.1 158.2,499.6 158.2,502.3 158.7,513.8 158.7,514.0 159.2,505.0 159.2,505.2 159.7,510.0 159.9,512.8 160.2,506.0 160.2,501.4 160.7,464.1 160.7,457.2 161.2,431.4 161.3,428.3 161.6,448.6 161.7,450.5 162.1,478.5 162.4,479.1 162.6,469.7 162.7,465.5 163.1,445.8 163.2,446.7 163.6,451.5 163.7,455.0 163.9,465.7 164.2,450.9 164.6,423.8 164.7,423.2 165.0,413.1 165.2,418.5 165.6,433.1 165.7,435.6 166.1,443.9 166.4,442.9 166.7,469.4 166.8,477.1 167.2,505.8 167.3,506.0 167.7,466.1 167.8,458.8 168.2,399.4 168.3,400.2 168.7,477.5 168.9,538.3 169.2,436.0 169.3,430.0 169.7,366.6 169.8,361.2 170.2,415.2 170.3,428.3 170.7,526.5 171.0,536.5 171.2,516.6 171.3,507.4 171.7,432.0 171.8,417.9 172.0,396.9 172.2,412.6 172.7,429.2 172.7,431.5 173.2,449.3 173.2,459.8 173.7,524.9 173.9,534.2 174.2,488.2 174.2,478.6 174.7,426.4 174.7,427.6 175.2,469.9 175.2,477.8 175.7,509.2 175.7,507.7 176.2,465.7 176.2,460.9 176.5,416.7 176.7,463.4 177.1,494.6 177.2,488.7 177.7,422.6 177.7,421.0 178.0,417.4 178.2,423.2 178.7,489.4 178.9,495.7 179.2,444.5 179.2,435.1 179.7,394.6 179.7,395.7 180.2,461.5 180.2,468.2 180.7,498.4 180.7,497.4 181.2,458.8 181.2,451.5 181.6,431.1 181.7,435.8 182.2,489.3 182.4,500.8 182.7,460.5 182.7,451.2 183.2,423.9 183.2,425.1 183.7,480.1 183.7,483.6 184.1,495.7 184.2,491.7 184.7,440.9 184.7,435.5 185.2,491.7 185.2,494.8 185.5,502.8 185.7,493.0 186.2,439.9 186.2,433.4 186.5,419.2 186.7,435.0 187.2,480.6 187.3,495.7 187.7,469.4 187.7,462.6 188.2,396.6 188.2,399.4 188.7,463.1 188.7,468.7 189.2,495.2 189.2,494.9 189.7,455.3 189.7,448.7 190.2,400.6 190.2,396.4 190.6,374.2 190.7,375.0 191.2,381.0 191.2,383.5 191.7,428.4 191.7,434.5 192.2,478.9 192.2,478.6 192.7,454.8 192.7,448.7 193.2,408.9 193.5,402.8 193.7,408.3 193.7,412.9 194.2,490.8 194.4,539.0 194.7,504.8 194.7,490.5 195.2,400.7 195.4,392.3 195.7,424.4 195.7,435.5 196.2,484.0 196.6,485.5 196.7,482.3 196.7,478.8 196.9,469.9 197.2,473.8 197.6,500.0 197.7,495.0 198.2,453.2 198.2,448.8 198.7,420.2 198.8,416.9 199.2,429.5 199.2,432.8 199.7,496.4 199.9,510.9 200.2,493.6 200.2,487.1 200.7,429.2 200.7,425.5 200.9,416.9 201.2,426.8 201.7,463.8 201.7,475.2 201.9,497.4 202.2,474.4 202.6,382.8 202.7,461.3 203.2,485.4 203.4,493.3 203.7,477.5 203.7,473.7 204.2,389.3 204.2,385.8 204.7,445.6 204.7,458.3 205.2,500.0 205.3,501.4 205.7,483.3 205.7,478.4 206.2,438.2 206.3,434.8 206.7,440.7 206.7,443.3 207.2,470.6 207.2,474.6 207.7,488.6 207.8,489.7 208.2,472.0 208.2,469.8 208.7,443.1 208.9,439.3 209.2,441.5 209.2,443.3 209.7,460.8 209.8,484.3 210.2,455.6 210.2,453.1 210.4,445.1 210.7,453.9 211.2,472.8 211.2,473.5 211.5,476.2 211.7,470.9 212.2,448.3 212.3,448.0 212.7,460.9 212.7,463.5 213.2,473.3 213.3,473.7 213.7,463.0 213.7,460.1 214.2,445.8 214.2,445.3 214.5,444.6 214.7,445.8 215.2,455.4 215.2,458.1 215.4,463.9 215.7,459.6 216.1,450.4 216.4,451.3 216.6,458.9 216.7,463.3 217.1,483.0 217.2,483.5 217.6,457.8 217.7,454.2 218.1,431.1 218.4,425.0 218.6,440.7 218.7,446.3 219.1,490.6 219.2,495.2 219.5,512.6 219.7,503.1 220.1,454.9 220.2,444.3 220.4,422.6 220.7,436.6 221.1,508.7 221.4,528.6 221.6,489.7 221.7,477.5 222.1,432.1 222.2,430.0 222.7,410.5 222.8,408.1 223.1,393.6 223.3,398.7 223.7,424.0 223.8,430.4 224.1,461.5 224.3,456.5 224.7,423.3 224.8,417.5 225.0,402.5 225.3,407.5 225.7,428.5 225.8,437.9 226.1,475.4 226.3,473.3 226.7,410.1 226.9,385.8 227.2,450.0 227.3,459.7 227.7,497.0 227.8,498.3 228.2,460.4 228.2,454.5 228.7,441.2 228.8,437.9 229.2,457.8 229.2,459.0 229.7,477.0 229.7,476.3 230.2,464.1 230.2,461.4 230.7,374.8 230.7,374.5 231.2,482.7 231.4,516.4 231.7,457.6 231.7,443.8 232.2,422.8 232.4,421.0 232.7,428.2 232.7,429.9 233.2,466.7 233.2,470.9 233.7,479.6 233.7,479.5 234.2,454.2 234.2,452.4 234.7,410.2 234.7,405.7 235.2,398.3 235.2,397.9 235.6,420.0 235.9,408.9 236.2,439.1 236.2,443.1 236.7,461.3 236.7,463.2 237.0,474.8 237.2,464.5 237.7,438.7 237.7,429.7 238.2,364.7 238.2,365.2 238.7,392.1 238.7,398.6 239.2,460.5 239.3,467.1 239.6,463.4 239.7,466.0 240.2,414.7 240.2,404.5 240.7,389.2 240.7,385.2 241.0,376.3 241.2,383.0 241.7,410.7 241.7,419.3 242.1,459.1 242.5,458.3 242.7,446.4 242.7,441.5 243.2,407.1 243.3,403.8 243.7,451.7 243.7,460.7 244.0,484.5 244.2,462.7 244.6,423.6 245.0,416.7 245.2,445.6 245.2,455.4 245.7,524.4 245.7,528.4 246.2,436.4 246.3,413.5 246.7,496.5 246.7,498.8 247.2,515.3 247.4,520.4 247.7,512.4 247.7,509.6 248.2,455.7 248.2,442.2 248.7,385.9 248.8,378.7 249.2,406.3 249.2,413.9 249.7,468.5 249.7,477.3 250.2,514.5 250.3,518.8 250.6,505.6 250.9,510.7 251.2,493.8 251.2,488.1 251.7,422.5 251.7,415.2 252.2,372.4 252.3,364.4 252.7,388.0 252.7,392.2 253.2,446.0 253.2,456.0 253.5,477.2 253.7,469.8 254.2,502.9 254.2,510.7 254.6,547.6 254.7,539.1 255.2,433.2 255.2,424.5 255.6,387.2 255.7,400.6 256.2,480.9 256.2,486.1 256.4,496.1 256.7,489.5 257.2,398.3 257.3,373.0 257.7,434.0 257.7,449.9 258.1,502.8 258.2,494.0 258.7,400.1 258.8,391.4 259.2,452.7 259.2,458.8 259.7,504.4 259.7,502.5 260.2,460.9 260.2,452.6 260.7,364.8 260.8,357.1 261.2,401.6 261.2,410.2 261.7,504.6 261.8,515.1 262.2,490.2 262.2,483.5 262.5,457.7 262.7,462.4 263.2,474.1 263.2,473.0 263.7,428.7 263.7,420.9 264.0,375.6 264.2,388.6 264.7,469.6 264.7,483.8 265.0,519.8 265.2,513.5 265.7,472.3 265.7,471.9 266.2,496.9 266.3,500.2 266.7,479.8 266.7,475.8 267.0,463.5 267.2,480.2 267.5,517.6 267.7,506.6 268.2,429.2 268.2,424.3 268.5,405.7 268.7,418.4 269.2,479.7 269.3,492.7 269.7,469.4 269.7,462.2 270.2,409.0 270.3,404.7 270.7,444.8 270.7,455.5 271.2,521.0 271.3,525.9 271.7,483.9 271.7,475.3 272.1,408.8 272.3,402.3 272.6,433.0 272.7,439.0 273.1,480.7 273.2,480.3 273.6,474.7 273.7,474.4 274.1,487.2 274.2,489.3 274.5,503.2 274.7,499.1 275.1,460.9 275.2,455.4 275.6,424.7 275.7,425.8 276.1,447.0 276.4,451.4 276.6,448.3 276.7,446.5 276.9,441.0 277.2,444.8 277.6,452.4 277.7,454.7 278.0,462.2 278.4,460.8 278.7,466.9 278.8,469.6 279.2,484.7 279.3,485.9 279.7,463.4 279.8,458.7 280.2,431.9 280.3,430.4 280.7,436.5 280.8,437.2 281.2,461.3 281.3,463.0 281.7,492.1 281.8,495.0 282.0,502.0 282.3,501.0 282.7,481.2 282.8,478.3 283.2,437.6 283.2,434.4 283.6,422.9 283.7,428.6 284.2,443.9 284.2,446.2 284.7,454.7 284.7,455.8 285.2,466.6 285.2,469.8 285.7,491.8 285.8,492.2 286.2,480.5 286.2,477.5 286.5,471.6 286.7,476.6 287.2,486.5 287.2,486.6 287.7,444.0 287.7,437.8 288.1,407.5 288.2,412.3 288.7,465.4 288.9,525.1 289.2,456.5 289.2,449.8 289.7,416.8 289.7,415.9 290.2,461.6 290.2,461.7 290.6,497.2 290.7,491.5 291.2,467.2 291.2,460.5 291.7,403.7 291.8,401.5 292.2,427.9 292.2,433.7 292.5,452.8 292.7,438.3 293.2,398.2 293.2,397.7 293.7,429.2 293.7,439.5 294.2,497.9 294.4,505.2 294.7,491.6 294.7,489.8 295.1,477.7 295.2,483.7 295.7,503.8 295.8,507.5 296.2,492.5 296.2,487.9 296.7,434.1 296.7,428.6 297.0,407.7 297.2,434.1 297.7,481.7 297.7,486.8 298.2,499.9 298.3,500.7 298.7,475.7 298.7,472.6 299.2,446.2 299.2,440.3 299.7,411.4 299.7,408.3 300.1,398.3 300.2,402.9 300.7,450.8 300.7,461.6 301.2,537.6 301.2,539.4 301.7,495.0 301.7,484.7 302.2,405.8 302.2,403.5 302.7,487.0 302.7,502.9 303.0,538.6 303.2,516.4 303.7,474.6 303.7,474.2 304.1,486.6 304.2,481.2 304.7,413.8 304.7,402.6 305.0,371.1 305.2,405.0 305.7,496.1 305.7,499.2 306.1,518.5 306.2,504.2 306.7,432.5 306.7,424.4 307.1,404.1 307.2,406.0 307.7,448.2 307.9,478.6 308.2,434.5 308.2,422.5 308.6,396.2 308.7,399.4 309.2,453.6 309.2,460.8 309.4,468.5 309.7,462.2 310.2,406.5 310.3,402.3 310.7,426.5 310.7,435.9 311.2,513.8 311.2,513.0 311.7,455.9 311.7,451.3 312.0,433.7 312.2,441.2 312.7,478.5 312.7,481.7 313.2,493.6 313.2,493.2 313.7,477.3 313.7,472.6 314.1,439.5 314.2,442.3 314.7,461.9 314.7,464.6 315.2,485.9 315.3,487.0 315.7,475.5 315.7,473.1 316.2,451.5 316.2,450.4 316.7,434.4 316.7,433.9 317.2,438.0 317.2,439.9 317.7,473.2 317.7,477.8 318.1,489.5 318.2,488.2 318.7,460.8 318.7,456.2 319.0,440.6 319.4,439.4 319.7,449.2 319.7,452.7 320.2,480.6 320.2,487.9 320.5,507.6 320.7,505.3 321.2,496.0 321.2,493.5 321.7,475.7 321.7,472.8 322.2,440.9 322.2,437.5 322.5,431.4 322.7,440.6 323.2,480.6 323.2,485.5 323.5,503.1 323.7,493.8 324.2,440.9 324.2,433.9 324.7,480.8 324.7,483.6 324.9,490.0 325.2,482.0 325.7,447.8 325.9,436.2 326.2,444.9 326.2,448.6 326.7,482.7 326.7,483.8 327.1,493.2 327.2,491.2 327.6,478.5 327.7,477.9 328.1,470.4 328.3,470.9 328.6,458.7 328.7,457.7 329.1,443.9 329.2,444.4 329.6,454.7 329.7,457.0 330.0,512.5 330.2,489.8 330.6,420.7 330.8,416.3 331.1,460.9 331.2,466.5 331.6,516.2 331.7,518.4 332.1,481.2 332.2,470.6 332.6,424.6 332.8,416.8 333.1,424.0 333.2,425.6" fill="none" stroke="#0072BD" stroke-width="0.85" stroke-linejoin="round"/></g>
<g clip-path="url(#cbL)"><polyline points="55.7,448.9 56.2,460.0 56.3,461.0 56.7,470.3 56.8,470.0 57.2,458.3 57.3,456.9 57.7,448.2 57.8,448.3 58.2,459.1 58.3,460.5 58.7,467.3 58.8,467.2 59.2,461.4 59.3,460.1 59.7,447.6 59.8,446.0 60.1,448.6 60.3,448.4 60.5,451.3 60.8,449.5 61.2,452.9 61.2,454.2 61.7,464.7 61.7,465.8 62.0,468.9 62.2,467.2 62.7,457.6 62.7,457.6 63.2,448.9 63.2,448.3 63.7,438.3 63.7,437.8 64.0,435.0 64.2,438.9 64.7,457.5 64.7,459.5 65.1,469.8 65.2,469.1 65.7,459.4 65.7,457.3 66.2,451.6 66.4,450.8 66.7,453.1 66.7,453.1 67.2,447.5 67.3,447.0 67.7,449.9 67.7,451.2 68.2,468.4 68.2,469.9 68.6,475.6 68.7,473.8 69.2,456.5 69.2,453.5 69.6,442.5 69.7,444.6 70.2,460.1 70.2,463.0 70.6,474.7 70.7,471.7 71.2,457.1 71.2,454.3 71.5,446.4 71.7,452.3 72.2,470.8 72.2,471.7 72.6,475.3 72.7,471.5 73.2,444.9 73.2,440.9 73.6,428.0 73.7,430.4 74.2,452.6 74.2,455.0 74.7,463.1 75.0,459.6 75.2,463.4 75.2,465.1 75.7,485.2 75.8,488.0 76.2,475.6 76.2,471.3 76.7,450.0 76.9,447.1 77.2,450.8 77.2,452.0 77.7,473.0 77.7,473.5 78.2,454.8 78.2,449.8 78.6,435.0 78.7,439.3 79.2,467.2 79.2,469.0 79.6,474.3 79.7,472.3 80.2,457.8 80.2,456.3 80.4,453.8 81.0,454.6 81.2,452.6 81.2,451.2 81.7,446.4 81.8,444.6 82.2,454.6 82.2,457.4 82.7,470.3 82.8,472.1 83.2,464.6 83.2,464.0 83.7,443.8 83.7,445.7 84.2,468.4 84.3,470.8 84.7,460.3 84.7,457.1 85.2,436.3 85.3,434.1 85.7,447.3 85.7,449.2 86.1,460.6 86.2,459.8 86.4,457.7 86.7,457.9 87.2,465.0 87.4,469.2 87.7,464.3 87.7,462.8 88.2,440.8 88.3,438.5 88.7,446.5 88.7,449.2 89.2,480.2 89.2,478.9 89.7,447.2 89.7,446.1 90.1,439.0 90.2,441.3 90.7,460.6 90.7,465.3 91.1,476.1 91.2,473.9 91.7,454.3 91.7,450.3 92.0,433.1 92.2,447.5 92.7,473.2 92.7,473.0 93.2,452.2 93.2,448.9 93.7,431.0 93.7,430.8 94.2,441.4 94.3,441.1 94.7,453.9 94.7,456.3 95.2,479.7 95.2,481.9 95.5,490.2 95.7,487.3 96.2,452.6 96.2,444.6 96.5,422.8 96.7,431.1 97.2,468.0 97.4,473.9 97.7,466.2 97.7,464.0 98.2,443.9 98.3,442.3 98.7,457.8 98.7,460.5 99.1,480.5 99.2,479.4 99.7,448.6 99.9,436.3 100.2,445.2 100.2,449.0 100.7,470.3 100.8,471.5 101.2,466.0 101.2,465.8 101.7,461.6 101.8,461.4 102.2,456.1 102.2,455.5 102.7,446.5 102.8,445.2 103.2,451.2 103.2,452.8 103.7,483.5 103.8,490.4 104.2,475.4 104.2,472.1 104.7,445.1 104.7,444.8 105.2,457.3 105.2,459.8 105.7,470.1 105.7,469.9 106.1,453.2 106.2,449.9 106.5,436.6 106.7,438.1 107.1,448.7 107.2,451.2 107.6,460.4 107.7,461.8 108.1,468.8 108.5,470.0 108.6,472.5 108.7,473.1 109.1,455.4 109.2,453.3 109.6,441.1 109.7,441.8 110.1,458.0 110.2,463.1 110.6,481.2 110.7,478.2 111.1,441.6 111.2,437.8 111.5,429.2 111.8,439.4 112.2,475.3 112.3,476.7 112.6,480.0 112.8,475.1 113.2,444.6 113.3,443.0 113.7,448.2 113.8,449.2 114.0,454.0 114.4,453.2 114.7,448.4 114.8,448.8 115.2,462.7 115.3,464.4 115.5,469.6 115.8,463.2 116.2,447.8 116.3,446.0 116.5,441.2 116.8,445.2 117.2,462.9 117.2,465.0 117.6,476.0 117.7,473.5 118.2,458.9 118.2,457.3 118.7,440.1 118.7,439.8 119.2,451.7 119.2,454.3 119.7,477.2 119.7,478.2 120.2,456.8 120.2,455.7 120.7,443.1 120.9,441.5 121.2,453.3 121.2,456.3 121.7,469.8 121.7,470.1 122.1,472.9 122.2,471.1 122.7,460.0 122.7,457.3 123.2,445.1 123.2,444.9 123.7,446.4 123.7,447.6 124.2,457.2 124.2,459.7 124.7,470.6 124.7,472.7 124.9,476.4 125.2,474.0 125.7,463.4 125.7,459.3 126.2,439.1 126.2,438.6 126.7,457.0 126.7,460.2 127.2,479.1 127.2,478.8 127.7,466.0 127.7,463.0 128.2,437.2 128.3,433.6 128.7,438.6 128.7,440.0 129.2,453.0 129.2,456.9 129.7,477.1 129.8,479.0 130.1,475.0 130.2,475.8 130.7,467.8 130.7,466.7 131.2,460.2 131.2,459.9 131.7,449.2 131.7,447.6 132.2,441.6 132.3,441.0 132.6,443.1 132.7,442.9 133.2,436.4 133.2,435.0 133.6,429.0 133.7,432.2 134.2,461.5 134.2,463.4 134.7,473.7 134.7,474.1 135.2,465.1 135.2,463.8 135.7,442.2 136.0,436.9 136.2,441.1 136.2,442.8 136.7,457.9 136.7,461.4 137.2,478.4 137.2,478.3 137.7,465.3 137.7,463.4 138.2,445.1 138.2,441.8 138.5,433.8 138.7,435.4 139.2,441.2 139.2,441.7 139.7,451.1 139.7,453.2 140.2,470.1 140.2,471.7 140.6,477.5 140.7,474.6 141.2,456.4 141.2,454.0 141.7,442.2 141.7,442.7 142.2,462.3 142.2,465.0 142.7,473.2 142.7,473.2 143.2,470.4 143.2,469.3 143.7,456.7 143.7,455.8 144.1,454.8 144.3,455.7 144.7,450.6 144.7,450.0 145.1,446.1 145.2,446.8 145.7,456.0 145.7,457.9 146.2,466.9 146.3,468.6 146.7,460.6 146.7,459.0 147.2,448.5 147.4,447.3 147.7,450.9 147.8,451.7 148.2,446.6 148.2,445.4 148.7,438.5 148.7,438.6 149.2,457.2 149.2,459.9 149.7,474.9 149.7,475.3 150.2,470.2 150.2,469.6 150.5,466.8 150.7,469.2 150.9,470.8 151.3,470.2 151.7,452.9 151.7,450.0 152.2,442.0 152.2,442.5 152.7,452.3 152.7,453.9 153.1,473.5 153.2,471.7 153.7,449.2 153.7,447.0 153.9,442.4 154.2,447.2 154.7,462.3 154.9,467.0 155.2,462.1 155.2,461.3 155.7,450.1 155.9,450.2 156.2,449.7 156.2,449.9 156.7,454.4 156.7,454.6 157.2,447.6 157.4,444.4 157.7,447.3 157.7,449.4 158.2,473.7 158.2,475.4 158.6,480.2 158.7,480.1 159.2,474.8 159.2,473.7 159.7,453.9 159.7,453.0 160.2,470.2 160.3,476.4 160.7,461.1 160.7,458.7 161.2,441.5 161.2,441.0 161.6,453.0 161.7,455.6 162.1,469.2 162.3,470.2 162.6,464.7 162.7,464.0 163.1,459.0 163.3,458.8 163.6,463.6 163.7,463.2 164.1,449.8 164.2,448.7 164.6,441.8 164.8,441.4 165.1,448.0 165.2,448.9 165.6,467.3 165.8,469.4 166.1,463.8 166.3,463.1 166.7,469.8 166.8,471.6 167.1,480.6 167.3,479.4 167.7,451.2 167.8,449.5 168.0,442.1 168.3,450.5 168.7,469.8 168.8,471.2 169.2,455.2 169.3,453.1 169.7,442.0 169.8,441.5 170.2,450.5 170.3,452.2 170.7,475.6 170.8,477.6 171.2,468.6 171.3,466.7 171.7,448.8 171.8,447.0 172.1,442.4 172.4,444.6 172.7,440.8 172.9,439.4 173.2,443.8 173.2,446.2 173.7,470.7 173.7,473.8 174.0,484.6 174.2,478.5 174.7,456.7 174.7,452.8 175.0,442.6 175.2,451.6 175.7,475.4 175.9,479.8 176.2,467.0 176.2,464.1 176.7,445.5 176.7,445.7 177.1,450.6 177.2,449.1 177.7,433.7 177.8,432.8 178.2,452.0 178.2,454.5 178.6,480.8 178.7,478.2 179.2,446.2 179.2,443.9 179.7,435.2 179.7,435.3 180.2,450.2 180.2,454.1 180.7,475.3 180.7,474.9 181.2,464.9 181.5,459.9 181.7,464.2 181.7,465.6 182.1,475.1 182.2,473.0 182.7,459.1 182.7,455.1 183.0,446.2 183.2,448.7 183.7,470.9 183.7,473.3 184.0,482.1 184.2,475.7 184.7,451.6 184.7,449.7 185.2,469.4 185.2,471.7 185.5,478.9 185.7,475.8 186.2,448.4 186.2,443.9 186.6,431.7 186.7,433.0 187.2,455.8 187.4,473.7 187.7,452.1 187.7,450.3 188.2,438.5 188.2,438.5 188.7,456.5 188.7,459.0 189.2,470.8 189.2,471.0 189.7,462.1 189.7,460.2 190.2,435.6 190.2,433.8 190.7,424.3 191.0,421.0 191.2,424.5 191.2,425.1 191.7,449.2 191.7,453.6 192.2,484.8 192.5,487.4 192.7,482.6 192.7,479.3 193.2,448.7 193.2,445.8 193.4,442.2 193.7,446.4 194.2,473.8 194.3,477.9 194.7,452.9 194.7,451.4 195.2,440.1 195.3,439.5 195.7,451.0 195.7,452.7 196.2,468.3 196.2,469.8 196.6,473.2 196.7,471.5 197.2,465.6 197.2,464.9 197.7,461.6 197.7,461.1 198.2,451.3 198.2,449.6 198.7,439.1 198.9,436.9 199.2,445.6 199.2,449.3 199.7,470.5 199.8,472.9 200.2,468.3 200.2,465.9 200.7,445.4 200.8,442.6 201.2,449.5 201.2,450.9 201.7,471.1 201.8,472.7 202.2,464.9 202.2,462.3 202.7,422.2 202.7,423.8 203.2,470.6 203.2,476.5 203.4,488.4 203.7,471.7 204.2,430.4 204.3,428.3 204.7,448.7 204.7,455.4 205.2,474.9 205.2,475.3 205.7,469.2 205.7,468.5 206.2,459.1 206.4,458.4 206.7,460.7 206.7,460.5 207.2,452.0 207.2,452.2 207.7,456.3 207.7,457.5 208.2,472.6 208.2,472.8 208.7,459.0 208.7,457.9 209.0,455.0 209.2,455.9 209.7,464.1 209.7,464.8 210.0,467.6 210.2,466.6 210.7,459.5 210.7,458.2 211.2,453.8 211.4,453.7 211.7,454.5 211.7,454.7 212.2,457.6 212.2,458.5 212.7,464.1 212.7,464.6 213.0,465.6 213.2,464.5 213.7,458.4 213.8,457.4 214.2,470.7 214.4,477.0 214.7,463.1 214.7,460.0 215.2,458.3 215.4,456.7 215.7,459.4 215.7,460.3 216.2,475.6 216.2,475.8 216.6,462.0 216.7,459.1 217.1,450.0 217.2,450.4 217.6,466.1 217.9,475.2 218.1,464.8 218.2,461.3 218.6,445.8 218.7,446.1 219.1,462.0 219.2,463.9 219.5,470.3 219.7,468.7 220.1,451.4 220.2,448.2 220.4,441.8 220.7,446.7 221.1,462.0 221.2,463.1 221.6,470.6 221.7,469.4 222.1,463.0 222.2,461.0 222.7,442.8 222.8,440.6 223.2,429.6 223.3,430.4 223.7,456.0 223.8,458.3 224.2,472.9 224.3,472.6 224.7,454.0 224.8,450.4 225.2,428.0 225.3,428.4 225.7,448.5 225.8,452.2 226.2,482.7 226.3,482.0 226.7,457.7 226.9,444.6 227.2,463.9 227.3,465.9 227.5,472.9 227.8,471.4 228.2,459.3 228.2,455.6 228.7,444.3 228.9,441.3 229.2,456.8 229.2,459.2 229.7,473.8 230.0,475.1 230.2,472.0 230.2,470.5 230.7,461.5 230.7,460.9 231.1,456.2 231.4,457.7 231.7,455.7 231.7,455.7 232.2,447.9 232.4,447.0 232.7,451.6 232.7,453.2 233.2,469.5 233.2,471.8 233.6,478.7 233.7,478.0 234.2,465.7 234.2,463.3 234.7,445.7 234.7,445.9 235.2,453.8 235.4,456.7 235.7,444.8 235.7,442.3 236.1,432.6 236.2,438.9 236.7,468.5 236.7,471.1 237.1,483.3 237.2,482.0 237.7,457.9 237.7,454.9 238.2,442.7 238.2,442.2 238.7,446.2 238.7,446.7 239.2,463.0 239.6,463.4 239.7,464.5 239.9,468.2 240.2,462.0 240.2,459.8 240.7,441.2 240.7,438.1 241.1,424.7 241.2,426.7 241.7,447.8 241.7,452.2 242.2,489.2 242.2,489.2 242.7,460.7 242.7,456.2 243.2,443.0 243.2,443.6 243.7,469.2 243.7,472.5 244.0,480.4 244.2,472.1 244.7,449.3 244.7,446.5 245.1,438.2 245.4,448.0 245.7,441.9 246.0,440.1 246.2,443.2 246.2,445.8 246.7,471.5 246.7,471.9 247.2,479.9 247.2,479.5 247.7,474.3 247.7,473.4 248.2,450.8 248.2,447.2 248.7,435.2 248.8,434.6 249.2,443.8 249.2,446.3 249.7,471.5 249.9,480.4 250.2,471.2 250.2,468.5 250.7,447.8 250.9,425.2 251.2,451.0 251.2,453.2 251.5,459.5 251.7,448.1 252.2,428.8 252.3,426.1 252.7,432.2 252.7,433.2 253.2,461.5 253.2,460.6 253.7,433.5 253.8,431.1 254.2,438.2 254.2,441.8 254.7,489.2 254.8,490.4 255.2,466.0 255.2,459.2 255.6,433.1 255.7,436.1 256.2,474.5 256.2,479.4 256.4,488.2 256.7,482.2 257.2,439.9 257.4,426.4 257.7,440.6 257.7,446.6 258.2,486.8 258.3,491.4 258.7,476.5 258.7,472.7 259.1,412.2 259.2,447.4 259.7,496.5 259.8,502.7 260.2,470.8 260.2,460.9 260.7,417.9 260.8,413.9 261.2,430.3 261.2,434.8 261.7,466.0 261.9,468.9 262.2,466.7 262.2,465.0 262.7,452.9 262.7,450.6 263.2,445.1 263.2,444.6 263.7,435.1 263.9,427.7 264.2,435.8 264.2,439.6 264.7,471.8 264.7,474.0 265.0,481.8 265.2,479.5 265.7,458.7 265.7,452.8 266.2,432.9 266.2,432.3 266.7,461.6 266.7,465.2 267.2,476.8 267.4,478.2 267.7,470.0 267.7,466.5 268.2,441.3 268.3,436.6 268.7,442.3 268.7,444.1 269.2,478.4 269.3,481.9 269.7,465.2 269.7,459.9 270.2,431.1 270.2,430.7 270.7,450.8 270.7,455.9 271.2,479.0 271.2,479.8 271.7,468.0 271.7,465.4 272.1,441.8 272.2,441.6 272.6,447.5 272.7,449.7 273.1,467.9 273.3,475.7 273.6,440.9 273.7,441.0 274.1,468.4 274.2,471.1 274.6,483.0 274.7,482.6 275.1,464.2 275.2,460.4 275.6,433.3 275.8,431.9 276.1,441.3 276.2,442.5 276.6,452.7 276.9,449.6 277.1,453.7 277.2,454.5 277.6,462.7 277.7,465.0 278.1,474.6 278.3,472.1 278.7,458.6 278.8,457.7 279.2,454.2 279.4,456.1 279.7,452.7 279.8,451.9 280.2,447.5 280.4,443.7 280.7,447.3 280.8,448.1 281.2,458.4 281.3,460.2 281.7,468.4 281.9,467.1 282.2,469.0 282.3,469.0 282.7,463.4 282.8,462.1 283.2,449.3 283.2,447.6 283.7,445.1 283.8,444.7 284.2,450.9 284.2,452.0 284.7,474.6 284.7,473.9 285.2,445.7 285.3,443.4 285.7,460.9 285.7,462.3 286.2,470.1 286.2,470.1 286.7,460.6 286.7,458.0 287.2,435.4 287.2,435.9 287.7,455.3 287.7,457.5 288.1,476.6 288.2,474.8 288.7,447.2 288.7,445.3 289.2,438.5 289.2,439.3 289.6,446.4 289.9,444.9 290.2,449.0 290.2,450.5 290.7,460.1 291.0,464.1 291.2,461.2 291.2,459.9 291.7,443.0 291.7,439.9 292.1,432.4 292.2,433.9 292.7,457.0 292.7,459.9 293.1,469.0 293.2,465.1 293.7,451.5 293.7,449.2 294.2,440.2 294.2,439.6 294.6,438.9 294.7,440.9 295.2,466.2 295.2,467.3 295.7,473.8 295.8,474.0 296.2,469.2 296.2,468.0 296.7,443.5 297.0,438.9 297.2,442.7 297.2,444.8 297.7,469.3 297.7,472.6 298.1,481.8 298.2,480.8 298.7,462.6 298.7,461.9 299.2,459.6 299.2,459.2 299.7,448.0 299.7,446.0 300.2,435.7 300.3,434.6 300.7,446.9 300.7,449.1 301.2,475.2 301.4,479.4 301.7,468.8 301.7,466.4 302.2,436.8 302.2,437.3 302.7,478.7 302.7,479.0 303.2,457.8 303.2,455.8 303.6,440.9 303.7,443.0 304.2,461.8 304.2,465.1 304.7,474.9 304.7,474.7 305.2,467.4 305.2,466.7 305.5,463.0 305.7,465.0 306.1,468.1 306.2,462.8 306.7,439.0 306.7,436.3 307.2,432.1 307.2,432.0 307.7,438.1 307.7,438.7 308.0,463.5 308.4,429.4 308.7,438.8 308.7,440.9 309.2,469.8 309.4,477.7 309.7,467.1 309.7,464.4 310.2,430.3 310.3,424.6 310.7,444.2 310.7,450.3 311.1,490.8 311.2,477.9 311.7,436.7 311.9,427.6 312.2,433.0 312.2,435.6 312.7,473.1 312.7,474.0 313.1,477.2 313.2,476.1 313.7,464.4 313.7,460.8 314.2,446.9 314.2,447.4 314.7,460.1 314.9,475.7 315.2,457.5 315.2,455.8 315.7,443.8 315.7,444.2 316.2,455.6 316.2,460.6 316.6,479.4 316.7,473.2 317.2,442.0 317.3,437.9 317.7,459.3 317.7,460.8 318.2,472.0 318.2,471.9 318.7,458.8 318.7,456.8 319.2,442.5 319.3,441.2 319.7,444.2 319.7,445.9 320.2,459.9 320.2,460.4 320.7,466.1 320.8,467.2 321.0,466.4 321.3,467.9 321.7,460.8 321.7,459.7 322.2,446.1 322.3,445.3 322.7,459.7 322.7,461.9 323.0,467.6 323.2,462.1 323.7,451.9 323.8,450.8 324.2,452.9 324.2,454.0 324.7,471.7 324.9,476.4 325.2,471.0 325.2,468.9 325.7,454.2 325.9,451.1 326.2,456.1 326.2,457.8 326.7,468.5 326.7,468.2 327.2,450.9 327.3,444.1 327.6,460.4 327.7,461.5 328.1,471.8 328.2,470.2 328.6,453.0 328.7,451.3 329.0,446.1 329.2,446.8 329.6,467.9 329.8,475.9 330.1,458.0 330.2,451.5 330.6,443.8 330.7,443.7 331.1,451.6 331.2,453.6 331.6,470.0 331.7,469.3 332.1,454.5 332.2,450.9 332.6,445.8 332.8,445.2 333.1,447.1 333.2,447.3" fill="none" stroke="#EDB120" stroke-width="0.85" stroke-linejoin="round"/></g>
<path d="M55.7 338.2H333.2V552.9H55.7ZM55.7 552.9v-2.8M55.7 338.2v2.8M111.2 552.9v-2.8M111.2 338.2v2.8M166.7 552.9v-2.8M166.7 338.2v2.8M222.2 552.9v-2.8M222.2 338.2v2.8M277.7 552.9v-2.8M277.7 338.2v2.8M333.2 552.9v-2.8M333.2 338.2v2.8M55.7 552.9h2.8M333.2 552.9h-2.8M55.7 505.2h2.8M333.2 505.2h-2.8M55.7 457.5h2.8M333.2 457.5h-2.8M55.7 409.8h2.8M333.2 409.8h-2.8M55.7 362.1h2.8M333.2 362.1h-2.8" stroke="#4a4a4a" stroke-width="1.15" fill="none"/>
<text x="55.7" y="573.7" font-size="16" text-anchor="middle" fill="#000">0</text>
<text x="111.2" y="573.7" font-size="16" text-anchor="middle" fill="#000">5</text>
<text x="166.7" y="573.7" font-size="16" text-anchor="middle" fill="#000">10</text>
<text x="222.2" y="573.7" font-size="16" text-anchor="middle" fill="#000">15</text>
<text x="277.7" y="573.7" font-size="16" text-anchor="middle" fill="#000">20</text>
<text x="333.2" y="573.7" font-size="16" text-anchor="middle" fill="#000">25</text>
<text x="51.1" y="559.7" font-size="16" text-anchor="end" fill="#000">-200</text>
<text x="51.1" y="512.0" font-size="16" text-anchor="end" fill="#000">-100</text>
<text x="51.1" y="464.3" font-size="16" text-anchor="end" fill="#000">0</text>
<text x="51.1" y="416.6" font-size="16" text-anchor="end" fill="#000">100</text>
<text x="51.1" y="368.9" font-size="16" text-anchor="end" fill="#000">200</text>
<rect x="211.6" y="338.5" width="121.8" height="44.4" fill="#fff" stroke="#4a4a4a" stroke-width="1"/>
<path d="M213.8 350.1H232.8" stroke="#0072BD" stroke-width="1"/>
<text class="s" x="233.9" y="352.7" font-size="13" fill="#000">Pce-H<tspan font-size="9.5" dy="5.5">2</tspan><tspan dy="-5.5"> control</tspan></text>
<path d="M213.8 371.3H232.8" stroke="#EDB120" stroke-width="1"/>
<text class="s" x="233.9" y="373.9" font-size="13" fill="#000">General H<tspan font-size="9.5" dy="5.5">2</tspan><tspan dy="-5.5"> control</tspan></text>
<text class="s" transform="translate(13.4 446.0) rotate(-90)" x="0" y="0" font-size="19" text-anchor="middle" textLength="127.7" lengthAdjust="spacingAndGlyphs" fill="#000">Control force(N)</text>
<text class="s" x="157.1" y="602.3" font-size="24" fill="#000">Time(s)</text>
<path d="M447.7 335.5V556M504.9 335.5V556M562.1 335.5V556M619.3 335.5V556M390.5 511.9H676.5M390.5 467.8H676.5M390.5 423.7H676.5M390.5 379.6H676.5" stroke="#E0E0E0" stroke-width="0.8" fill="none"/>
<g clip-path="url(#cbR)"><polyline points="390.6,510.3 391.0,539.7 391.1,554.0 391.5,509.6 391.8,493.8 392.0,510.3 392.0,519.7 392.2,552.1 392.6,519.1 393.0,537.1 393.1,553.4 393.5,506.9 393.6,503.9 394.0,522.4 394.0,528.6 394.4,555.5 394.5,549.3 394.8,538.8 395.0,542.2 395.3,554.8 395.5,543.5 396.0,514.7 396.0,513.5 396.4,550.2 396.5,553.0 397.0,505.0 397.1,492.3 397.4,502.3 397.5,500.8 398.0,542.3 398.2,553.1 398.5,514.1 398.5,507.3 399.0,443.5 399.3,430.0 399.5,456.9 399.5,471.2 399.8,553.8 400.1,456.3 400.5,405.8 400.6,401.1 401.0,475.5 401.0,488.6 401.4,555.3 401.5,548.2 402.0,541.9 402.1,540.7 402.3,544.3 402.6,537.6 402.9,552.8 403.0,532.4 403.5,442.9 403.6,438.5 404.0,494.6 404.1,507.8 404.3,555.7 404.5,514.4 404.7,500.4 405.2,554.9 405.5,511.8 405.5,503.5 405.8,481.2 406.0,513.0 406.2,555.3 406.6,510.0 407.0,526.4 407.2,554.2 407.5,506.8 407.5,499.9 407.8,477.0 408.0,487.0 408.3,553.4 408.5,525.5 409.0,453.3 409.0,455.3 409.5,502.1 409.5,510.9 409.9,553.3 410.0,548.9 410.5,522.3 410.5,513.5 411.0,444.9 411.0,434.9 411.3,404.9 411.5,438.4 411.9,542.5 412.0,507.1 412.5,356.6 412.5,363.0 413.0,497.5 413.2,550.4 413.4,403.8 413.6,544.9 414.0,416.2 414.0,417.6 414.4,549.7 414.5,529.0 415.0,480.4 415.0,483.5 415.5,530.5 415.7,554.7 416.0,481.4 416.0,482.4 416.3,550.5 416.5,500.2 416.6,555.2 417.0,506.3 417.4,469.2 417.6,472.7 418.0,535.1 418.0,547.3 418.5,428.1 418.6,424.4 419.0,497.4 419.0,506.5 419.3,526.0 419.5,513.0 420.0,451.7 420.0,451.0 420.5,549.0 420.5,535.0 421.0,449.6 421.2,439.1 421.4,479.6 421.5,494.6 421.8,552.2 422.0,510.0 422.4,501.8 422.5,504.2 423.0,535.5 423.0,537.4 423.3,554.1 423.5,544.4 424.0,469.4 424.1,460.6 424.5,495.6 424.6,554.1 424.9,464.2 425.0,473.8 425.2,551.2 425.5,492.8 425.9,465.5 426.0,467.8 426.5,542.1 426.5,551.5 426.9,478.0 427.1,483.6 427.4,550.7 427.5,520.0 427.8,429.2 428.0,469.9 428.3,555.0 428.7,494.4 429.0,548.5 429.1,550.3 429.5,441.3 429.7,418.4 430.0,464.4 430.0,480.6 430.5,554.3 430.5,545.8 431.0,507.0 431.1,493.3 431.5,407.3 431.7,379.8 432.0,431.5 432.3,547.0 432.5,411.3 432.7,363.0 433.0,419.6 433.1,445.5 433.3,543.1 433.6,494.5 434.0,536.6 434.1,551.5 434.5,458.8 434.5,455.4 434.9,537.9 435.0,555.2 435.5,427.5 435.5,431.6 436.0,542.7 436.0,503.9 436.3,393.0 436.5,436.8 436.9,547.2 437.0,522.4 437.5,488.1 437.6,488.6 438.0,469.5 438.0,471.6 438.5,531.3 438.7,552.7 438.9,505.2 439.1,487.3 439.5,517.5 439.7,555.8 440.0,442.3 440.0,422.7 440.3,372.8 440.6,438.2 440.8,546.9 441.0,499.8 441.2,461.0 441.5,507.8 441.7,551.0 442.3,549.2 442.5,459.6 442.6,444.1 442.8,410.9 443.0,419.8 443.5,517.3 443.5,527.0 443.8,548.0 444.3,521.2 444.5,534.9 444.6,552.6 445.0,504.7 445.1,493.6 445.5,549.1 445.5,529.7 446.0,386.4 446.0,382.7 446.5,489.5 446.6,555.4 447.0,438.5 447.0,439.6 447.4,551.5 447.5,512.6 447.9,471.9 448.2,544.5 448.4,481.3 448.5,464.2 448.8,419.5 449.0,437.8 449.4,548.9 449.5,522.8 449.9,489.4 450.0,495.1 450.4,532.0 450.6,552.9 450.8,480.2 451.1,552.6 451.2,474.5 451.5,538.5 452.0,473.6 452.2,454.7 452.4,511.2 452.6,549.8 453.0,479.7 453.0,473.4 453.2,454.8 453.5,480.5 453.9,541.7 454.0,491.8 454.3,450.7 454.5,468.2 454.9,554.8 455.0,498.1 455.3,441.7 455.5,481.9 455.8,554.9 456.1,519.6 456.4,490.2 456.5,497.4 456.8,551.6 457.0,483.8 457.4,379.3 457.5,387.6 458.0,529.9 458.1,554.5 458.5,490.1 458.6,473.4 459.0,499.8 459.0,500.9 459.5,534.3 459.8,554.9 460.0,536.9 460.1,528.3 460.5,485.4 460.5,475.4 460.9,430.0 461.0,450.4 461.3,545.5 461.5,488.4 461.9,433.5 462.1,425.1 462.5,475.6 462.7,551.2 463.0,455.4 463.3,417.1 463.5,447.5 463.5,470.0 463.8,551.1 464.0,466.5 464.3,378.7 464.5,409.4 464.9,545.2 465.0,500.2 465.4,412.7 465.5,423.8 465.9,536.2 466.0,553.3 466.5,484.7 466.5,484.4 466.8,550.3 467.0,505.5 467.4,418.3 467.5,435.4 467.9,550.7 468.0,519.7 468.3,431.0 468.7,550.1 469.0,448.1 469.2,408.6 469.5,480.9 469.7,552.2 470.0,418.9 470.0,427.5 470.2,545.0 470.5,481.7 470.8,420.2 471.0,480.0 471.2,554.8 471.6,507.9 472.0,478.0 472.0,479.0 472.5,547.4 472.5,554.4 473.0,487.1 473.0,479.7 473.3,464.6 473.6,483.2 473.7,496.7 474.2,547.6 474.5,441.3 474.7,380.6 475.0,434.6 475.0,448.0 475.3,554.0 475.6,483.3 476.0,396.4 476.0,402.2 476.5,464.0 476.6,470.2 477.0,412.5 477.2,393.5 477.4,454.9 477.6,550.0 478.0,461.8 478.1,452.4 478.5,506.1 478.6,548.7 479.0,467.0 479.1,460.2 479.4,534.9 479.5,554.6 480.0,442.3 480.2,433.1 480.5,456.2 480.5,468.0 480.9,551.6 481.0,515.0 481.4,508.5 481.5,515.0 482.0,552.0 482.2,555.5 482.5,532.3 482.5,532.2 483.0,542.9 483.1,553.9 483.4,506.8 483.6,500.6 484.0,505.9 484.0,509.4 484.4,553.7 484.7,555.9 485.0,457.1 485.2,434.9 485.5,544.6 485.6,552.9 486.0,531.0 486.1,524.8 486.5,551.9 486.5,555.8 487.0,489.3 487.1,486.8 487.3,475.1 487.5,487.7 488.0,499.9 488.1,503.8 488.5,488.5 488.7,482.6 489.0,492.2 489.1,494.1 489.4,552.7 489.5,529.2 489.9,490.7 490.0,497.8 490.5,540.4 490.6,545.5 490.9,524.4 491.0,521.4 491.4,513.1 491.5,517.7 491.9,555.8 492.0,538.4 492.4,498.3 492.5,506.2 492.9,553.4 493.0,541.8 493.5,511.5 493.5,511.5 494.0,539.7 494.0,543.2 494.4,554.1 494.5,551.7 494.9,520.9 495.1,510.3 495.5,531.8 495.6,554.6 496.0,480.2 496.0,472.8 496.5,439.2 496.7,435.9 496.9,449.2 497.1,454.9 497.5,449.7 497.5,448.3 497.9,438.5 498.0,441.7 498.5,518.9 498.7,555.3 499.0,507.5 499.4,494.0 499.5,505.5 499.5,515.0 499.9,552.8 500.0,529.8 500.5,510.0 500.6,511.2 500.9,554.4 501.0,545.6 501.2,531.1 501.6,538.3 501.9,552.4 502.2,553.0 502.5,506.5 502.6,499.1 503.0,476.8 503.2,461.7 503.5,481.5 503.5,484.0 504.0,515.7 504.0,516.6 504.4,528.6 504.8,548.9 505.0,514.2 505.0,499.8 505.5,452.9 505.5,456.2 506.0,553.1 506.0,540.9 506.4,432.5 506.5,434.2 506.9,522.5 507.1,384.3 507.4,522.0 507.5,497.6 508.0,362.9 508.1,351.3 508.4,440.0 508.7,555.7 509.0,421.3 509.3,387.9 509.5,412.7 509.5,430.3 510.0,537.2 510.0,501.7 510.3,427.2 510.5,445.8 511.0,486.8 511.0,491.0 511.5,511.0 511.6,551.0 512.0,439.2 512.0,425.4 512.3,392.9 512.5,442.9 512.8,547.1 513.1,489.9 513.5,525.4 513.6,551.1 514.0,458.5 514.2,446.0 514.5,497.9 514.7,548.7 515.0,469.4 515.0,477.4 515.2,555.0 515.7,477.0 515.9,546.3 516.1,500.5 516.5,472.3 516.6,470.7 517.0,513.5 517.0,543.0 517.4,474.6 517.7,554.7 518.0,464.4 518.1,451.4 518.3,422.3 518.5,460.8 518.7,549.2 519.0,496.3 519.3,468.9 519.5,491.2 519.8,553.1 520.3,499.9 520.5,522.1 520.6,553.8 521.0,468.9 521.0,463.8 521.4,549.7 521.5,520.6 521.9,484.7 522.0,496.3 522.2,548.1 522.5,493.3 522.8,474.8 523.0,488.6 523.4,520.8 523.5,520.5 523.9,483.2 524.0,476.6 524.3,459.6 524.5,480.5 524.8,550.5 525.0,504.9 525.3,474.7 525.5,508.3 525.8,552.7 526.2,474.7 526.5,516.7 526.6,551.0 527.0,429.6 527.0,426.5 527.5,554.4 527.6,544.0 528.0,480.1 528.1,475.9 528.5,533.6 528.6,551.3 529.0,452.3 529.0,443.5 529.5,379.3 529.6,378.9 530.0,382.7 530.0,385.2 530.5,450.8 530.5,466.6 530.9,549.8 531.2,510.4 531.5,531.2 531.7,550.2 532.0,492.3 532.0,481.0 532.5,439.8 532.5,439.9 533.0,510.4 533.2,531.0 533.4,383.1 533.5,382.8 533.9,555.1 534.0,502.5 534.5,417.5 534.5,420.7 534.9,555.6 535.0,529.4 535.3,497.6 535.7,496.4 536.0,525.4 536.1,529.7 536.5,508.5 536.5,497.0 536.8,465.6 537.0,493.7 537.3,546.9 537.5,523.4 538.0,469.7 538.0,471.8 538.5,513.3 538.6,544.8 539.0,451.0 539.1,442.5 539.4,493.0 539.6,546.8 540.0,488.0 540.2,469.8 540.5,490.7 540.5,498.2 540.9,542.5 541.2,471.2 541.5,507.3 541.7,546.8 541.9,397.3 542.0,547.9 542.5,496.6 542.7,479.8 543.0,513.5 543.2,549.8 543.5,426.9 543.6,403.5 544.0,506.5 544.1,554.3 544.5,469.3 544.7,462.6 545.0,491.1 545.1,501.0 545.3,551.1 545.5,521.3 545.7,507.7 546.0,515.9 546.4,554.1 546.5,536.7 547.0,493.5 547.2,487.4 547.5,504.9 547.5,512.4 547.9,553.6 548.0,539.4 548.4,517.3 548.5,518.1 548.9,548.2 549.1,553.9 549.3,498.9 549.6,555.7 550.0,529.8 550.0,529.9 550.3,555.8 550.5,531.7 550.9,518.4 551.1,516.1 551.5,552.5 551.5,551.0 551.9,535.8 552.2,554.9 552.5,531.8 552.5,528.6 552.9,521.6 553.0,522.7 553.4,555.9 553.5,547.1 553.9,529.7 554.2,528.6 554.5,535.9 554.5,538.2 554.9,554.7 555.1,542.4 555.5,553.4 555.5,555.8 555.8,540.9 556.4,552.9 556.5,534.3 556.6,526.3 557.0,500.8 557.0,501.9 557.4,555.3 557.5,545.3 558.0,494.6 558.2,487.0 558.5,532.2 558.6,554.8 559.0,485.5 559.0,475.8 559.3,438.8 559.5,458.9 560.0,550.5 560.0,527.9 560.3,481.9 560.8,552.7 561.0,472.5 561.2,404.8 561.5,462.9 561.5,487.6 561.7,547.6 562.0,502.1 562.4,467.4 562.5,463.7 563.0,421.1 563.0,420.2 563.5,462.5 563.5,468.4 563.9,552.7 564.2,554.0 564.4,522.6 564.5,516.2 565.0,440.4 565.0,439.2 565.5,453.1 565.5,459.1 565.9,551.3 566.2,517.9 566.4,547.0 566.5,552.3 566.9,403.6 567.0,414.9 567.3,551.3 567.5,503.8 567.9,469.1 568.0,485.4 568.3,549.8 568.5,530.0 568.9,514.3 569.0,520.5 569.3,555.4 569.5,537.9 569.8,514.5 570.1,526.9 570.5,554.0 570.5,551.6 570.9,379.6 571.0,404.0 571.3,539.5 571.6,430.8 571.9,555.7 572.1,515.2 572.5,480.2 572.6,478.5 573.0,497.4 573.0,501.4 573.3,550.7 573.5,521.4 573.9,509.1 574.1,511.2 574.4,554.9 574.5,545.1 575.0,455.4 575.0,445.9 575.5,430.1 575.5,429.3 575.9,476.3 576.2,452.7 576.5,506.9 576.5,516.9 576.9,555.4 577.0,547.8 577.4,519.3 577.5,533.4 577.7,553.5 578.0,525.8 578.5,370.6 578.6,358.8 579.0,395.4 579.0,405.1 579.5,534.3 579.5,549.7 579.8,535.5 580.3,554.4 580.5,527.8 580.5,508.7 581.0,427.2 581.0,423.7 581.4,383.5 581.5,389.0 581.9,413.7 582.0,422.0 582.5,541.3 582.5,551.6 582.8,555.6 583.0,555.8 583.5,491.5 583.5,477.4 583.8,441.8 584.0,465.3 584.3,549.2 584.5,498.5 584.9,549.7 585.0,492.8 585.5,471.3 585.6,469.3 585.8,551.5 586.0,518.6 586.4,405.1 586.5,428.1 586.8,551.3 587.1,539.1 587.5,457.1 587.6,452.0 588.0,426.2 588.1,422.2 588.5,451.2 588.5,457.7 588.9,552.2 589.0,475.3 589.5,391.8 589.6,388.6 590.0,463.3 590.0,477.5 590.4,552.1 590.5,497.2 591.0,428.6 591.0,425.7 591.4,453.8 591.7,442.9 592.0,478.8 592.3,549.7 592.5,481.6 592.5,466.2 593.0,375.1 593.2,358.0 593.4,398.6 593.5,408.3 594.0,505.6 594.1,552.9 594.4,514.2 594.6,529.7 595.0,474.2 595.0,459.4 595.4,364.4 595.5,364.8 596.0,542.5 596.0,523.3 596.5,406.5 596.5,409.8 596.9,555.3 597.0,518.7 597.4,473.8 597.5,475.3 598.0,539.7 598.0,499.1 598.3,376.3 598.5,436.6 598.8,542.4 599.1,459.7 599.4,552.1 599.5,493.5 599.9,415.6 600.0,446.0 600.3,553.2 600.7,456.3 601.0,502.6 601.2,548.8 601.5,467.6 601.5,442.1 601.9,342.5 602.0,366.9 602.5,517.7 602.5,555.8 602.9,433.6 603.1,437.8 603.5,526.2 603.7,555.5 604.0,533.6 604.3,520.7 604.5,536.8 604.6,554.3 604.9,458.8 605.0,437.3 605.2,381.8 605.5,441.8 605.8,555.6 606.0,452.2 606.3,423.5 606.5,458.2 606.9,525.3 607.0,522.4 607.5,468.0 607.6,465.2 608.0,517.0 608.3,543.2 608.5,507.7 608.5,490.7 608.8,428.2 609.0,451.6 609.2,548.2 609.5,485.4 609.8,446.0 610.0,473.0 610.4,551.7 610.7,481.1 610.9,518.0 611.1,547.7 611.5,462.2 611.6,443.8 612.0,508.0 612.1,551.8 612.5,432.7 612.7,410.5 613.0,464.6 613.2,553.3 613.5,476.6 613.8,438.7 614.0,477.2 614.0,491.0 614.3,552.4 614.6,506.7 615.0,515.3 615.2,519.9 615.5,503.1 615.5,499.4 616.0,460.1 616.0,458.8 616.5,512.8 616.7,551.6 617.0,509.8 617.2,486.2 617.5,512.8 617.5,518.8 618.0,543.0 618.0,542.7 618.5,521.0 618.6,521.8 619.0,529.7 619.0,530.6 619.4,554.8 619.6,546.0 620.0,548.8 620.0,548.9 620.4,524.8 620.5,519.8 621.0,495.6 621.0,497.8 621.5,554.0 621.5,548.2 622.0,498.4 622.0,500.2 622.4,512.9 622.5,516.7 622.8,554.7 623.0,538.0 623.5,476.2 623.5,470.6 623.7,461.2 624.0,463.5 624.4,505.6 624.5,511.7 624.7,550.1 625.0,507.0 625.4,482.5 625.5,494.7 626.0,527.2 626.0,532.1 626.5,546.7 626.8,555.9 627.0,543.0 627.0,536.6 627.5,484.7 627.7,482.3 628.0,500.2 628.1,507.1 628.4,525.9 628.5,522.9 629.0,498.6 629.1,494.1 629.5,555.5 629.5,541.2 630.0,449.7 630.1,450.2 630.5,519.3 630.6,554.5 630.9,412.3 631.1,553.9 631.5,479.2 631.7,467.6 632.0,524.9 632.1,549.4 632.5,506.6 632.6,471.6 633.0,512.3 633.3,549.7 633.5,488.3 633.5,471.8 633.8,437.1 634.0,451.6 634.5,536.2 634.6,546.1 635.0,473.6 635.0,460.0 635.3,429.0 635.5,440.9 635.9,550.7 636.0,536.2 636.5,454.6 636.5,457.6 637.0,497.5 637.2,512.9 637.5,492.2 637.5,489.3 637.9,449.6 638.0,450.9 638.5,503.1 638.6,552.8 639.0,480.7 639.1,450.1 639.5,517.1 639.7,551.9 639.9,493.7 640.0,484.7 640.5,464.6 640.5,464.2 641.0,523.8 641.3,550.3 641.5,519.5 641.6,509.1 642.0,458.0 642.0,451.5 642.4,430.3 642.5,439.9 643.0,541.7 643.0,547.2 643.5,385.8 643.6,381.8 644.0,454.3 644.2,549.9 644.5,458.0 644.6,441.3 644.9,546.2 645.0,493.3 645.4,383.6 645.6,413.7 646.0,508.1 646.1,520.5 646.5,494.0 646.5,495.1 646.9,552.1 647.0,487.1 647.4,372.5 647.6,392.7 647.8,537.8 648.0,489.6 648.5,427.8 648.5,426.2 649.0,551.4 649.0,539.6 649.4,446.2 649.6,442.5 650.0,473.4 650.0,482.2 650.2,546.8 650.6,554.2 651.0,437.5 651.2,425.8 651.4,464.2 651.5,479.1 651.8,549.0 652.4,554.1 652.5,517.0 652.5,497.5 652.9,438.7 653.0,444.5 653.4,545.0 653.5,513.4 653.8,436.3 654.0,470.1 654.3,552.6 654.6,505.4 655.0,535.9 655.1,554.5 655.5,500.0 655.5,497.1 655.9,479.1 656.0,488.8 656.5,542.4 656.5,550.9 656.8,517.7 657.1,525.5 657.3,554.2 657.5,537.5 658.0,493.7 658.0,493.3 658.5,522.7 658.5,528.1 658.8,555.0 659.1,538.5 659.5,506.9 659.5,505.9 660.0,514.6 660.0,518.6 660.3,554.2 660.5,512.8 660.9,488.0 661.1,490.7 661.5,540.1 661.6,553.3 661.9,520.2 662.3,517.5 662.5,530.4 662.5,538.4 662.7,555.6 663.0,523.8 663.5,449.3 663.5,450.0 664.0,466.2 664.0,469.5 664.5,507.2 664.5,511.9 664.9,555.5 665.0,538.7 665.5,500.6 665.5,501.7 665.9,553.3 666.0,525.8 666.5,459.0 666.5,461.1 666.9,507.7 667.2,505.9 667.3,554.2 667.5,515.7 667.9,486.9 668.0,489.1 668.5,530.6 668.6,554.1 668.9,511.1 669.0,510.8 669.4,555.5 669.5,530.4 670.0,492.0 670.2,480.1 670.5,499.0 670.6,503.2 671.0,515.8 671.0,518.2 671.3,528.5 671.5,529.7 671.9,555.4 672.0,548.6 672.3,527.0 672.6,536.0 672.9,555.1 673.2,439.0 673.5,520.5 673.5,552.0 674.0,468.5 674.0,469.3 674.3,549.4 674.6,515.8 675.0,426.5 675.0,426.7 675.5,528.1 675.5,550.8 676.0,478.1 676.1,469.6 676.4,484.9 676.5,488.3" fill="none" stroke="#CC00FF" stroke-width="0.85" stroke-linejoin="round"/></g>
<g clip-path="url(#cbR)"><polyline points="390.5,538.5 390.9,555.7 391.0,550.8 391.5,530.4 391.5,529.9 392.0,550.4 392.1,554.9 392.4,538.3 392.6,537.2 393.0,549.8 393.0,554.6 393.5,537.7 393.6,536.0 394.0,543.6 394.3,554.9 394.4,544.3 394.5,541.4 394.7,532.7 395.2,537.6 395.5,543.3 395.7,539.7 396.0,544.2 396.0,544.6 396.3,555.2 396.5,546.1 397.0,532.7 397.0,533.7 397.5,544.9 397.8,556.0 398.0,548.0 398.1,544.6 398.5,529.6 398.5,525.9 399.0,511.7 399.1,510.2 399.5,529.3 399.5,534.2 399.8,555.9 400.1,538.1 400.2,530.9 400.5,538.5 400.9,555.6 401.0,547.6 401.5,542.5 401.5,543.1 401.9,547.0 402.1,545.3 402.5,534.7 402.5,535.3 403.0,547.0 403.1,554.6 403.5,527.9 403.8,519.2 404.0,525.3 404.1,528.3 404.4,554.0 404.5,542.5 404.9,525.5 405.0,533.8 405.4,554.7 405.5,538.5 405.8,521.0 406.0,527.1 406.5,555.2 406.5,549.5 406.7,533.5 407.1,555.4 407.5,528.8 407.5,527.0 407.9,519.7 408.0,523.2 408.3,555.7 408.5,530.5 408.9,496.0 409.0,498.0 409.5,540.6 409.7,555.1 409.9,545.9 410.1,544.5 410.3,551.8 410.5,547.3 411.0,512.8 411.2,493.9 411.5,506.9 411.5,512.2 411.8,554.3 412.0,544.7 412.4,534.8 412.5,538.2 412.9,555.9 413.2,523.4 413.5,536.7 413.6,551.9 414.0,512.1 414.1,510.2 414.5,551.9 414.5,552.1 415.0,524.3 415.1,521.9 415.5,541.8 415.6,545.4 415.7,555.3 416.0,548.7 416.2,550.6 416.6,550.2 417.0,537.1 417.0,536.6 417.4,529.9 417.6,532.0 417.8,555.8 418.0,542.1 418.4,526.4 418.5,527.9 419.0,546.2 419.1,551.7 419.3,528.1 419.6,551.3 420.0,529.1 420.0,528.8 420.4,555.3 420.5,541.0 421.0,508.5 421.0,508.4 421.4,539.2 421.5,542.9 421.7,555.6 422.0,552.9 422.2,555.5 422.5,554.9 423.0,537.7 423.2,532.2 423.4,542.2 423.7,553.4 424.0,522.0 424.1,517.3 424.5,533.7 424.6,551.3 425.0,509.9 425.0,512.3 425.3,550.9 425.5,535.1 425.9,518.4 426.0,520.9 426.5,551.9 426.5,549.6 426.9,518.2 427.1,520.4 427.5,552.3 427.5,554.1 427.9,506.4 428.0,515.4 428.3,552.6 428.6,523.9 429.0,554.1 429.1,551.8 429.5,509.0 429.7,501.7 430.0,515.4 430.0,519.3 430.5,532.1 430.7,553.6 431.0,529.4 431.1,522.8 431.5,493.3 431.6,489.4 432.0,522.2 432.1,548.5 432.5,488.0 432.5,485.4 433.0,545.3 433.1,555.3 433.5,522.7 433.5,523.5 434.0,554.9 434.0,549.3 434.4,525.1 434.8,555.3 434.9,531.5 435.0,524.4 435.2,509.2 435.7,553.8 436.0,517.0 436.1,513.0 436.5,555.5 436.5,551.1 436.9,527.5 437.0,528.1 437.5,539.1 437.5,539.1 438.0,548.2 438.0,548.1 438.3,554.9 438.5,550.7 438.9,531.7 439.0,531.1 439.5,546.5 439.6,554.1 440.0,495.6 440.1,489.1 440.5,526.2 440.7,551.9 441.0,530.9 441.0,530.2 441.5,555.7 441.5,551.2 442.0,530.2 442.0,530.7 442.4,553.9 442.6,540.7 442.9,513.6 443.0,515.2 443.5,532.7 443.5,538.2 443.9,555.3 444.0,550.0 444.5,537.2 444.6,532.9 444.7,527.7 445.1,524.3 445.5,550.5 445.5,555.8 446.0,523.6 446.0,522.8 446.5,544.4 446.6,554.9 447.0,510.5 447.1,507.9 447.5,552.2 447.5,542.0 448.0,498.4 448.0,499.7 448.4,549.7 448.5,550.9 449.0,512.5 449.1,510.2 449.5,543.9 449.5,553.0 449.9,526.6 450.0,531.6 450.4,544.7 450.6,548.9 450.8,546.6 451.0,546.9 451.3,537.5 451.6,554.8 452.0,535.2 452.1,531.3 452.4,549.9 452.5,555.8 453.0,528.9 453.1,522.8 453.5,533.5 453.5,536.4 453.8,555.7 454.0,533.0 454.3,518.3 454.5,528.0 455.0,555.7 455.0,550.3 455.5,520.1 455.5,520.5 456.0,549.6 456.1,554.8 456.5,516.0 456.5,513.9 457.0,554.7 457.0,552.3 457.5,526.8 457.7,523.4 458.0,547.5 458.1,553.5 458.5,532.2 458.5,531.0 458.9,524.6 459.0,526.1 459.5,545.0 459.6,555.6 460.0,532.3 460.1,530.3 460.3,531.5 460.5,531.8 461.0,548.4 461.1,555.5 461.5,536.0 461.5,533.1 461.8,517.4 462.0,520.4 462.5,530.4 462.7,552.6 463.0,530.5 463.2,517.6 463.5,538.6 463.7,555.1 463.9,522.0 464.2,512.1 464.5,517.4 464.5,521.0 464.9,555.4 465.0,533.8 465.4,507.4 465.5,510.2 465.9,529.5 466.0,532.6 466.3,554.7 466.5,536.4 466.9,512.1 467.0,518.2 467.5,524.1 467.5,526.8 467.9,542.7 468.0,545.1 468.5,552.1 468.6,555.0 469.0,530.5 469.0,528.8 469.4,522.6 469.6,523.7 469.8,526.9 470.0,525.0 470.5,507.3 470.8,498.2 471.0,509.8 471.0,516.7 471.3,555.6 471.6,537.3 472.0,522.3 472.0,522.7 472.5,543.1 472.6,554.7 473.0,521.1 473.2,514.2 473.5,526.1 473.6,529.5 474.0,555.2 474.0,548.0 474.5,513.5 474.5,513.7 475.0,540.1 475.3,555.0 475.5,530.8 475.6,524.2 475.8,507.9 476.0,509.9 476.5,521.8 476.5,522.9 477.0,539.7 477.2,555.9 477.4,538.2 477.5,534.0 478.0,515.2 478.0,516.1 478.5,549.4 478.6,553.9 479.0,526.4 479.1,525.0 479.4,547.8 479.5,553.7 480.0,527.4 480.1,524.1 480.5,525.6 480.5,526.5 481.0,545.7 481.0,550.5 481.1,554.5 481.8,552.3 482.0,550.3 482.0,548.2 482.5,536.3 482.6,532.8 483.0,541.3 483.0,543.4 483.3,555.2 483.5,545.8 483.9,533.4 484.0,538.6 484.4,555.2 484.5,544.0 485.0,535.4 485.1,535.4 485.4,544.2 485.5,542.0 486.0,525.6 486.0,522.8 486.3,517.5 486.5,523.7 486.8,555.3 487.1,538.7 487.4,519.7 487.5,521.4 488.0,532.6 488.2,537.1 488.5,530.4 488.6,528.9 488.8,530.7 489.1,531.1 489.3,553.7 489.5,536.6 489.9,524.5 490.0,527.6 490.5,548.6 490.5,553.1 490.9,523.4 491.0,527.2 491.3,552.6 491.5,534.6 491.7,525.3 492.0,535.1 492.4,555.8 492.7,536.7 492.9,544.8 493.2,555.9 493.5,542.1 493.8,541.2 494.0,540.3 494.0,540.2 494.5,549.1 494.6,550.1 494.9,541.0 495.0,538.3 495.3,529.3 495.8,553.9 496.0,530.4 496.0,526.7 496.5,509.8 496.5,509.7 496.9,514.5 497.0,516.5 497.5,544.8 497.9,554.0 498.0,545.8 498.0,539.6 498.3,517.5 498.7,553.5 499.0,538.3 499.0,533.6 499.2,522.4 499.5,533.2 499.8,554.5 500.0,539.2 500.3,530.1 500.6,534.9 501.0,547.0 501.0,548.5 501.4,553.2 501.8,543.6 502.0,554.2 502.0,553.8 502.5,530.2 502.6,528.0 502.9,523.2 503.0,524.3 503.5,541.6 503.6,554.9 503.9,531.7 504.0,533.5 504.4,544.5 504.6,543.7 505.0,527.4 505.0,523.8 505.4,509.0 505.5,516.1 505.8,553.5 506.0,536.3 506.3,524.8 506.6,555.7 507.0,531.0 507.1,528.1 507.4,555.4 507.5,547.2 508.0,524.5 508.1,523.4 508.4,538.2 508.7,555.3 509.0,523.5 509.1,515.1 509.5,529.7 509.5,533.4 509.8,554.2 510.0,538.3 510.4,525.3 510.5,525.3 510.8,529.8 511.0,523.8 511.3,519.1 511.5,524.5 511.9,552.7 512.0,535.0 512.5,500.9 512.5,501.9 513.0,536.6 513.1,554.4 513.5,525.7 513.5,527.1 513.8,553.3 514.1,530.7 514.3,510.6 514.5,519.2 514.9,554.6 515.2,531.6 515.5,538.9 515.7,542.0 516.0,523.1 516.1,518.7 516.3,505.8 516.5,517.4 516.9,555.2 517.2,508.7 517.5,528.6 517.7,553.8 518.0,518.5 518.1,516.5 518.3,510.8 518.5,517.7 518.9,552.8 519.0,535.8 519.3,519.8 519.5,527.8 519.9,546.2 520.1,551.1 520.5,536.7 520.5,533.7 520.8,520.3 521.0,532.3 521.4,552.7 521.7,533.1 521.9,538.1 522.2,555.0 522.5,523.9 522.5,519.2 522.7,506.0 523.0,523.7 523.4,551.5 523.7,552.6 523.9,531.7 524.0,527.0 524.3,512.4 524.5,518.8 524.9,553.3 525.0,528.3 525.4,503.5 525.5,506.1 525.9,545.6 526.2,523.0 526.5,554.7 526.5,545.0 527.0,518.5 527.0,517.3 527.5,549.0 527.6,554.0 528.0,531.0 528.1,528.5 528.5,540.3 528.7,555.1 529.0,521.0 529.0,515.8 529.5,490.2 529.6,489.5 529.9,481.7 530.0,484.8 530.5,510.6 530.8,555.8 531.0,519.9 531.0,511.3 531.5,495.3 531.6,496.5 532.0,543.3 532.1,553.5 532.4,524.9 532.5,525.6 533.0,550.7 533.0,553.5 533.3,514.4 533.5,530.8 533.6,553.0 534.0,531.9 534.4,519.4 534.5,526.1 535.0,555.8 535.0,551.6 535.4,526.9 535.7,524.0 536.0,531.8 536.0,533.9 536.5,544.1 536.5,545.4 537.0,552.9 537.0,555.9 537.4,535.8 537.5,531.2 538.0,517.2 538.1,514.1 538.5,546.7 538.5,553.6 539.0,524.9 539.0,524.6 539.4,538.9 539.6,552.9 540.0,529.0 540.1,525.8 540.5,542.5 540.6,552.5 541.0,525.8 541.1,525.0 541.5,541.0 541.6,551.8 542.0,484.2 542.0,487.5 542.4,555.9 542.5,517.4 542.8,493.1 543.2,551.1 543.5,506.4 543.6,496.7 544.0,525.8 544.1,551.8 544.5,522.2 544.6,519.8 545.0,530.9 545.1,532.1 545.5,549.3 545.8,554.1 546.0,551.5 546.3,554.3 546.5,546.0 546.6,544.9 547.0,550.1 547.2,556.0 547.5,534.0 547.7,524.8 548.0,539.2 548.0,545.4 548.2,555.1 548.5,551.0 548.8,555.8 549.0,548.7 549.5,536.3 549.6,535.5 550.0,544.2 550.0,546.1 550.3,555.2 550.5,549.3 550.9,548.4 551.0,548.4 551.5,550.7 551.7,555.8 552.0,548.0 552.0,547.0 552.5,539.8 552.6,539.4 552.9,544.7 553.0,546.2 553.4,555.8 553.5,553.2 554.0,517.4 554.0,516.4 554.5,553.5 554.7,553.9 555.0,555.8 555.2,555.4 555.5,545.4 555.5,539.3 555.9,518.8 556.0,520.2 556.5,555.2 556.6,551.7 556.9,540.9 557.2,555.4 557.5,531.6 557.6,520.0 558.0,548.3 558.1,554.2 558.4,532.2 558.6,534.9 558.8,555.3 559.0,542.9 559.4,529.9 559.5,533.2 559.9,555.3 560.0,537.1 560.3,524.2 560.6,534.1 560.9,555.4 561.0,546.9 561.5,529.4 561.5,529.8 562.0,541.9 562.2,553.6 562.4,539.0 562.5,535.1 563.0,503.6 563.1,499.4 563.5,532.9 563.7,554.3 564.0,528.7 564.2,524.6 564.4,537.1 564.6,555.7 565.0,512.4 565.2,496.1 565.5,514.3 565.5,519.6 565.8,553.3 566.2,504.8 566.4,520.0 566.5,527.2 566.7,555.6 567.0,551.3 567.5,527.2 567.6,524.6 568.0,530.3 568.0,532.1 568.3,552.2 568.5,538.3 569.0,523.2 569.0,525.3 569.3,554.6 569.5,539.4 570.0,520.6 570.1,520.1 570.5,532.5 570.5,535.4 571.0,550.4 571.0,551.9 571.5,556.0 571.6,555.7 572.0,552.2 572.1,551.1 572.5,535.5 572.6,534.6 573.0,547.3 573.1,554.8 573.5,526.8 573.5,522.6 573.8,512.8 574.1,515.5 574.5,539.3 574.6,552.6 575.0,532.1 575.0,532.4 575.5,548.5 575.7,554.4 576.0,530.2 576.1,525.2 576.4,505.3 576.5,511.8 576.8,555.1 577.0,533.5 577.5,503.5 577.5,504.3 577.9,538.7 578.1,555.2 578.5,530.7 578.6,524.9 579.0,531.9 579.0,532.4 579.4,554.2 579.5,547.8 579.8,542.0 580.0,544.0 580.3,534.3 580.7,555.9 581.0,537.2 581.0,533.0 581.5,490.0 581.5,489.3 581.9,506.5 582.0,512.9 582.3,555.0 582.7,491.4 583.0,513.3 583.0,521.5 583.3,553.4 583.7,526.5 584.0,542.2 584.1,554.8 584.5,510.5 584.5,509.3 585.0,537.1 585.2,554.3 585.5,521.7 585.7,516.8 586.0,535.9 586.0,536.7 586.5,522.6 586.6,520.6 587.0,548.4 587.0,553.1 587.5,523.9 587.6,521.4 587.8,510.3 588.0,515.1 588.5,526.2 588.5,529.1 588.8,551.8 589.0,525.9 589.5,509.4 589.6,510.7 590.0,533.4 590.2,552.8 590.5,521.7 590.7,509.3 591.0,533.6 591.3,555.4 591.4,536.4 591.7,490.4 592.0,542.8 592.0,547.4 592.2,555.8 592.5,536.9 593.0,497.8 593.2,492.2 593.4,502.2 593.5,504.6 593.9,553.6 594.1,555.3 594.5,511.1 594.7,502.3 595.0,511.8 595.2,550.9 595.4,501.6 595.7,489.1 596.0,513.3 596.1,552.5 596.5,507.1 596.5,506.3 596.9,555.9 597.0,531.7 597.4,493.5 597.5,495.9 598.0,553.6 598.0,544.4 598.4,492.8 598.5,501.9 598.8,552.6 599.1,510.3 599.3,487.0 599.9,546.4 600.0,490.3 600.1,463.9 600.3,544.2 600.5,500.6 600.9,464.0 601.1,479.1 601.3,549.1 601.5,514.1 601.9,467.4 602.0,473.7 602.5,542.9 602.6,555.3 603.0,532.8 603.1,532.7 603.5,549.6 603.6,554.3 604.0,536.1 604.0,534.4 604.5,527.1 604.5,525.2 604.9,502.3 605.1,495.5 605.5,528.0 605.6,553.1 606.0,518.2 606.3,506.5 606.5,514.9 606.5,518.9 606.9,553.6 607.0,535.9 607.5,504.7 607.5,505.5 607.9,554.9 608.0,536.9 608.5,516.1 608.7,513.9 608.9,530.5 609.2,554.0 609.5,523.1 609.6,513.5 610.0,525.1 610.3,555.8 610.5,513.5 610.6,506.3 610.9,531.9 611.1,551.0 611.5,504.5 611.6,501.5 612.0,532.1 612.1,552.9 612.5,515.4 612.6,510.6 613.0,526.1 613.2,553.7 613.5,529.4 613.6,523.7 614.0,528.3 614.0,531.5 614.5,554.8 614.7,518.9 614.9,555.9 615.1,522.3 615.4,551.8 615.5,544.7 616.0,509.9 616.2,504.0 616.5,526.1 616.8,552.0 617.0,523.5 617.0,517.0 617.4,504.1 617.5,511.6 618.0,535.4 618.0,539.2 618.2,546.3 618.6,541.3 618.8,550.3 619.1,554.7 619.5,528.5 619.7,521.1 620.0,532.8 620.0,536.6 620.4,555.5 620.5,554.4 620.8,549.4 621.1,553.1 621.5,543.5 621.5,542.8 622.0,530.9 622.1,528.0 622.4,536.9 622.5,538.1 622.9,554.1 623.0,547.8 623.4,533.8 623.6,536.5 623.9,532.5 624.0,533.1 624.4,544.0 624.7,555.5 625.0,539.5 625.0,535.9 625.5,530.8 625.6,529.9 626.0,542.7 626.2,550.9 626.5,522.0 626.5,521.1 626.9,555.4 627.1,527.4 627.4,555.1 627.5,549.0 628.0,531.3 628.1,530.3 628.5,543.0 628.6,555.0 629.0,513.2 629.1,511.1 629.5,540.5 629.7,555.9 630.0,517.8 630.1,517.1 630.5,555.6 630.5,547.9 631.0,520.9 631.1,517.5 631.5,533.1 631.5,533.4 631.8,530.5 632.1,534.5 632.5,549.7 632.6,555.5 633.0,542.6 633.0,543.0 633.4,555.8 633.5,546.2 633.9,508.2 634.1,505.0 634.5,523.1 634.5,530.1 634.7,555.1 635.1,532.6 635.5,550.7 635.6,555.6 635.9,531.4 636.0,528.8 636.5,518.8 636.7,518.2 637.0,534.0 637.1,553.0 637.5,530.5 637.5,527.8 637.9,522.4 638.0,522.3 638.5,537.2 638.6,555.3 639.0,520.8 639.1,518.3 639.5,535.2 639.7,554.2 639.9,525.2 640.0,519.7 640.3,506.5 640.5,512.0 641.0,547.0 641.0,547.7 641.5,552.6 641.7,555.2 642.0,536.7 642.0,532.6 642.5,511.8 642.6,509.4 643.0,534.5 643.2,551.7 643.5,520.0 643.7,511.4 644.0,527.2 644.0,533.0 644.4,546.5 644.5,514.0 644.7,543.2 645.1,512.2 645.5,551.2 645.6,555.4 646.0,523.5 646.0,522.3 646.5,552.5 646.5,553.7 647.0,523.0 647.1,520.6 647.5,534.0 647.6,535.0 648.0,544.8 648.0,544.3 648.5,534.4 648.5,534.4 648.8,553.5 649.0,529.5 649.4,504.5 649.7,504.2 650.0,510.1 650.0,512.3 650.5,549.4 650.6,555.3 651.0,498.9 651.0,499.7 651.4,546.5 651.5,555.4 652.0,515.0 652.0,516.1 652.4,553.9 652.5,542.6 652.9,489.1 653.0,494.1 653.4,555.1 653.7,488.2 654.0,550.5 654.0,555.8 654.5,496.1 654.5,495.3 655.0,531.5 655.1,547.5 655.5,521.1 655.8,515.9 656.0,520.4 656.0,523.1 656.5,555.8 656.5,550.4 656.9,534.6 657.1,540.3 657.3,555.7 657.7,519.0 657.9,555.9 658.0,548.7 658.4,528.2 658.5,530.7 658.9,552.2 659.1,539.5 659.3,511.4 659.5,524.1 659.8,553.7 660.1,516.2 660.4,555.4 660.5,549.2 661.0,526.4 661.1,526.7 661.5,549.1 661.6,554.7 662.0,528.2 662.2,522.9 662.5,526.5 662.5,529.0 662.9,554.8 663.0,552.6 663.5,541.9 663.5,540.1 663.7,536.3 664.2,534.8 664.5,543.6 664.8,555.8 664.9,541.4 665.2,531.2 665.5,543.5 665.6,554.9 666.0,535.5 666.0,536.3 666.4,556.0 666.5,548.9 666.8,542.4 667.0,543.9 667.3,555.9 667.5,540.3 668.0,517.4 668.0,518.7 668.5,548.0 668.6,555.8 668.9,543.1 669.0,543.5 669.3,555.4 669.5,541.3 669.8,533.7 670.2,552.0 670.4,528.9 670.6,533.1 670.7,555.0 671.2,526.9 671.5,538.0 671.7,553.7 672.0,537.7 672.2,532.9 672.5,537.5 672.7,555.6 673.0,521.3 673.0,518.6 673.4,554.8 673.5,536.4 673.9,528.1 674.0,529.2 674.5,552.7 674.6,554.3 674.9,530.5 675.0,534.3 675.4,555.3 675.5,538.0 676.0,531.5 676.1,531.0 676.4,534.9 676.5,535.4" fill="none" stroke="#4DFCFF" stroke-width="0.7" stroke-linejoin="round"/></g>
<path d="M390.5 335.5H676.5V556H390.5ZM390.5 556v-2.8M390.5 335.5v2.8M447.7 556v-2.8M447.7 335.5v2.8M504.9 556v-2.8M504.9 335.5v2.8M562.1 556v-2.8M562.1 335.5v2.8M619.3 556v-2.8M619.3 335.5v2.8M676.5 556v-2.8M676.5 335.5v2.8M390.5 556.0h2.8M676.5 556.0h-2.8M390.5 511.9h2.8M676.5 511.9h-2.8M390.5 467.8h2.8M676.5 467.8h-2.8M390.5 423.7h2.8M676.5 423.7h-2.8M390.5 379.6h2.8M676.5 379.6h-2.8M390.5 335.5h2.8M676.5 335.5h-2.8" stroke="#4a4a4a" stroke-width="1.15" fill="none"/>
<text x="390.5" y="576.8" font-size="16" text-anchor="middle" fill="#000">0</text>
<text x="447.7" y="576.8" font-size="16" text-anchor="middle" fill="#000">5</text>
<text x="504.9" y="576.8" font-size="16" text-anchor="middle" fill="#000">10</text>
<text x="562.1" y="576.8" font-size="16" text-anchor="middle" fill="#000">15</text>
<text x="619.3" y="576.8" font-size="16" text-anchor="middle" fill="#000">20</text>
<text x="676.5" y="576.8" font-size="16" text-anchor="middle" fill="#000">25</text>
<text x="385.9" y="562.8" font-size="16" text-anchor="end" fill="#000">0</text>
<text x="385.9" y="518.7" font-size="16" text-anchor="end" fill="#000">0.5</text>
<text x="385.9" y="474.6" font-size="16" text-anchor="end" fill="#000">1</text>
<text x="385.9" y="430.5" font-size="16" text-anchor="end" fill="#000">1.5</text>
<text x="385.9" y="386.4" font-size="16" text-anchor="end" fill="#000">2</text>
<text x="385.9" y="342.3" font-size="16" text-anchor="end" fill="#000">2.5</text>
<rect x="551.6" y="335.3" width="124.9" height="45.5" fill="#fff" stroke="#4a4a4a" stroke-width="1"/>
<path d="M553.8 346.5H573.4" stroke="#CC00FF" stroke-width="1"/>
<text class="s" x="574.9" y="349.1" font-size="13" fill="#000">Pce-H<tspan font-size="9.5" dy="5.5">2</tspan><tspan dy="-5.5"> control</tspan></text>
<path d="M553.8 369.2H573.4" stroke="#4DFCFF" stroke-width="1"/>
<text class="s" x="574.9" y="371.8" font-size="13" fill="#000">General H<tspan font-size="9.5" dy="5.5">2</tspan><tspan dy="-5.5"> control</tspan></text>
<text class="s" transform="translate(357.1 445.4) rotate(-90)" x="0" y="0" font-size="19.5" text-anchor="middle" textLength="135.1" lengthAdjust="spacingAndGlyphs" fill="#000">Control current(A)</text>
<text class="s" x="491.3" y="602.3" font-size="24" fill="#000">Time(s)</text>
<path d="M110.9 666.6V879.2M166.3 666.6V879.2M221.7 666.6V879.2M277.1 666.6V879.2M55.5 832.0H332.5M55.5 784.7H332.5M55.5 737.5H332.5M55.5 690.2H332.5" stroke="#E0E0E0" stroke-width="0.8" fill="none"/>
<g clip-path="url(#ccL)"><polyline points="55.5,785.2 55.9,790.3 56.1,789.3 56.5,776.2 56.6,773.9 56.9,767.1 57.1,768.8 57.5,783.9 57.7,789.1 58.0,781.5 58.0,779.7 58.5,768.4 58.5,768.3 59.0,781.2 59.0,785.3 59.4,801.0 59.5,798.4 60.0,769.1 60.2,760.4 60.5,775.8 60.5,781.5 61.0,793.1 61.0,793.3 61.5,781.8 61.5,779.8 62.0,771.1 62.0,771.3 62.5,783.3 62.5,784.0 63.0,790.3 63.0,789.8 63.5,787.2 63.6,784.3 64.0,792.2 64.3,792.7 64.5,793.4 64.5,793.5 65.0,778.4 65.0,776.5 65.5,767.6 65.8,766.8 66.0,764.2 66.0,762.8 66.5,757.4 66.5,757.3 67.0,779.7 67.0,783.0 67.5,830.7 67.5,834.3 67.7,841.4 68.0,832.9 68.5,799.0 68.5,789.5 69.0,736.9 69.0,737.4 69.5,745.2 69.5,751.1 70.0,770.4 70.0,774.8 70.5,800.8 70.5,806.3 71.0,826.9 71.2,836.3 71.5,830.2 71.5,827.4 72.0,784.4 72.0,778.8 72.3,765.1 72.5,767.1 73.0,797.4 73.2,813.2 73.4,800.8 73.5,794.9 73.9,757.2 74.0,754.7 74.4,750.3 74.5,750.8 74.9,767.9 75.0,775.4 75.3,799.4 75.7,800.2 76.0,794.1 76.1,793.3 76.5,776.3 76.6,774.4 77.0,748.9 77.1,747.0 77.3,739.1 77.5,750.7 78.0,787.5 78.2,795.3 78.5,786.5 78.5,783.3 79.0,727.8 79.2,719.0 79.5,763.1 79.5,773.8 80.0,807.0 80.1,810.4 80.5,781.9 80.5,777.4 81.0,725.4 81.0,724.0 81.5,748.8 81.7,755.6 82.0,749.1 82.0,748.6 82.5,780.0 82.5,785.6 83.0,835.1 83.0,835.4 83.5,798.6 83.5,792.9 83.9,775.7 84.0,777.8 84.5,803.6 84.5,808.0 84.9,832.4 85.0,830.3 85.5,821.5 85.5,821.8 86.0,836.2 86.1,840.3 86.5,822.0 86.5,817.1 87.0,756.2 87.0,754.8 87.5,808.5 87.5,813.1 87.8,828.6 88.0,819.4 88.5,782.9 88.5,778.5 88.7,770.9 89.0,779.7 89.5,806.1 89.6,808.2 90.0,798.0 90.0,794.1 90.5,762.1 90.6,760.1 91.0,787.5 91.1,798.4 91.5,774.5 91.5,772.6 92.0,762.5 92.1,761.9 92.5,777.1 92.5,779.6 93.0,800.6 93.0,800.8 93.4,794.0 93.5,791.0 93.9,775.5 94.0,775.1 94.3,779.4 94.6,774.4 94.8,777.7 95.2,769.9 95.5,774.3 95.6,775.5 96.0,790.7 96.3,793.9 96.5,786.8 96.6,783.9 97.0,763.2 97.0,762.6 97.5,793.2 97.5,800.7 97.8,822.3 98.0,796.3 98.5,746.0 98.6,742.0 99.0,776.2 99.0,784.2 99.4,818.7 99.5,816.1 100.0,779.5 100.0,776.6 100.3,765.8 100.5,777.7 101.0,798.2 101.2,803.5 101.5,790.6 101.5,785.9 102.0,764.3 102.1,763.8 102.5,770.8 102.5,773.6 103.0,802.7 103.2,809.8 103.5,802.8 103.5,800.4 104.0,770.8 104.0,766.6 104.5,752.2 104.5,751.1 105.0,746.0 105.2,743.1 105.5,746.0 105.5,747.3 106.0,770.5 106.0,780.8 106.5,838.6 106.7,855.7 107.0,830.8 107.0,821.8 107.5,759.5 107.5,758.5 107.9,745.7 108.0,747.8 108.5,776.3 108.5,780.6 109.0,785.3 109.3,786.7 109.5,795.8 109.5,800.3 110.0,853.5 110.0,859.0 110.2,870.3 110.5,854.4 111.0,724.5 111.0,704.3 111.2,674.6 111.5,706.7 111.8,763.7 112.0,759.0 112.5,711.6 112.6,705.1 112.9,766.5 113.0,779.1 113.4,825.4 113.6,830.1 113.9,808.5 114.0,800.9 114.4,737.1 114.6,729.8 115.0,754.3 115.1,759.4 115.5,805.0 115.6,806.9 116.0,830.7 116.1,833.9 116.5,864.2 116.7,867.6 117.0,850.7 117.0,843.2 117.5,778.6 117.5,771.7 117.8,751.1 118.0,763.2 118.5,829.4 118.5,837.0 118.9,860.2 119.0,853.9 119.5,824.2 119.5,823.1 120.0,821.6 120.0,820.8 120.5,789.5 120.5,784.7 121.0,743.7 121.2,731.9 121.5,740.1 121.6,737.1 122.0,746.4 122.1,745.9 122.5,774.8 122.5,782.6 123.0,856.9 123.0,857.1 123.5,810.5 123.5,796.6 124.0,706.4 124.1,701.6 124.5,735.0 124.5,744.0 125.0,817.6 125.0,820.6 125.5,773.1 125.6,766.4 126.0,807.5 126.2,831.7 126.5,802.6 126.5,787.7 127.0,746.4 127.1,744.1 127.5,754.1 127.5,757.5 128.0,817.8 128.0,818.6 128.5,791.5 128.5,783.4 129.0,749.2 129.0,748.5 129.5,773.3 129.5,779.0 130.0,814.8 130.0,814.1 130.5,788.9 130.5,783.7 130.9,757.7 131.0,761.4 131.5,785.0 131.5,786.5 132.0,799.8 132.0,802.3 132.5,833.4 132.7,846.4 132.9,822.9 133.0,812.5 133.4,759.4 133.5,756.0 133.7,750.3 134.0,755.4 134.4,782.9 134.5,789.1 134.8,809.8 135.1,797.9 135.5,761.2 135.6,754.7 135.9,741.2 136.3,746.6 136.5,735.9 136.6,731.5 137.0,715.6 137.0,717.9 137.5,792.1 137.5,797.4 137.9,827.6 138.1,827.8 138.5,808.8 138.5,805.9 139.0,698.6 139.0,700.3 139.5,768.4 139.5,782.2 139.9,829.4 140.0,825.6 140.5,755.6 140.6,708.5 141.0,814.8 141.0,818.9 141.5,836.8 141.5,835.3 142.0,779.2 142.0,774.7 142.4,750.2 142.5,754.2 143.0,770.4 143.0,780.2 143.4,816.4 143.5,813.6 144.0,789.2 144.0,785.1 144.5,754.6 144.5,750.7 144.9,725.7 145.0,727.4 145.5,798.0 145.5,807.0 146.0,850.6 146.0,850.0 146.5,805.8 146.5,796.0 146.9,759.5 147.0,760.7 147.5,808.2 147.5,813.7 147.8,826.0 148.0,819.6 148.5,773.3 148.6,770.3 149.0,790.0 149.0,794.2 149.5,808.0 149.5,808.0 150.0,800.1 150.0,797.8 150.5,770.7 150.5,772.2 151.0,792.4 151.0,792.7 151.5,769.9 151.5,768.7 152.0,760.7 152.0,761.0 152.4,769.0 152.5,769.9 152.9,789.4 153.2,787.4 153.4,796.2 153.5,799.1 153.9,806.8 154.0,806.3 154.5,780.7 154.6,778.5 155.0,764.4 155.2,763.2 155.5,778.6 155.6,781.9 156.0,814.5 156.2,818.7 156.5,810.3 156.5,808.1 157.0,792.0 157.0,790.7 157.5,778.3 157.5,775.7 157.9,768.4 158.0,769.4 158.5,799.2 158.5,802.9 158.8,815.1 159.0,807.4 159.5,763.2 159.7,752.6 160.0,767.1 160.0,773.4 160.5,827.0 160.5,826.5 161.0,786.4 161.0,784.9 161.4,780.7 161.5,785.0 162.0,804.1 162.4,805.1 162.5,803.6 162.5,801.8 163.0,765.6 163.2,758.4 163.5,780.5 163.5,786.0 164.0,818.2 164.0,817.3 164.5,787.4 164.5,777.5 164.8,752.2 165.0,769.5 165.5,813.2 165.6,815.4 166.0,774.2 166.0,769.1 166.4,752.0 166.5,759.9 167.0,795.3 167.0,797.5 167.3,803.3 167.5,795.6 168.0,760.1 168.2,744.1 168.5,757.4 168.5,761.7 169.0,794.3 169.0,799.8 169.5,820.1 169.5,821.5 169.9,830.4 170.0,829.5 170.5,802.1 170.5,796.2 171.0,747.2 171.2,739.3 171.5,766.4 171.5,776.0 172.0,853.1 172.0,854.1 172.4,792.7 172.5,771.3 172.8,702.7 173.0,717.9 173.4,826.8 173.7,852.6 173.9,830.2 174.0,817.2 174.5,757.4 174.6,755.3 175.0,763.5 175.1,763.9 175.4,801.7 175.6,785.7 176.0,755.6 176.1,755.1 176.5,785.2 176.5,787.2 176.9,798.7 177.0,796.6 177.5,752.5 177.5,747.3 177.8,738.5 178.0,751.0 178.5,796.5 178.5,791.3 179.0,755.5 179.2,749.4 179.5,767.6 179.5,773.9 180.0,818.4 180.1,823.2 180.5,802.9 180.5,798.1 181.0,752.8 181.2,742.9 181.5,754.6 181.5,758.6 182.0,792.6 182.0,799.2 182.3,813.0 182.5,806.8 182.9,802.8 183.0,803.6 183.4,810.3 183.5,809.9 184.0,793.4 184.0,790.5 184.5,772.2 184.5,772.0 184.7,774.7 185.0,771.6 185.5,760.8 185.5,760.9 186.0,770.3 186.0,775.4 186.5,798.7 186.5,800.8 186.9,807.3 187.0,805.2 187.5,783.2 187.5,780.4 188.0,756.0 188.1,754.8 188.5,764.1 188.5,765.7 189.0,792.7 189.0,795.1 189.3,800.7 189.5,800.4 190.0,779.9 190.0,778.3 190.3,728.3 190.5,747.2 191.0,812.9 191.0,813.4 191.5,774.9 191.5,769.3 191.8,750.0 192.0,759.7 192.4,823.1 192.6,831.6 192.9,794.1 193.0,786.4 193.3,758.0 193.5,762.2 193.9,797.0 194.0,806.7 194.3,832.6 194.6,813.3 195.0,772.6 195.2,771.0 195.5,789.6 195.6,794.8 196.0,827.8 196.0,828.6 196.5,782.8 196.5,776.9 197.0,754.0 197.1,752.1 197.5,764.9 197.5,767.6 198.0,829.7 198.3,852.1 198.5,835.8 198.5,830.0 199.0,777.2 199.0,772.1 199.4,749.2 199.5,755.9 200.0,775.9 200.0,780.6 200.5,850.6 200.5,851.8 201.0,777.1 201.0,771.2 201.5,733.4 201.5,733.6 202.0,767.9 202.0,773.1 202.5,794.9 202.5,794.1 203.0,765.9 203.3,750.8 203.5,761.8 203.5,770.6 204.0,851.5 204.1,858.4 204.5,794.9 204.5,779.3 205.0,693.5 205.1,686.3 205.5,706.9 205.5,712.0 206.0,737.8 206.0,742.5 206.5,767.8 206.5,771.5 207.0,803.1 207.1,807.3 207.5,796.9 207.5,794.6 208.0,727.7 208.1,719.1 208.5,768.9 208.5,783.7 209.0,818.5 209.0,817.7 209.5,796.2 209.5,794.9 209.8,783.6 210.0,793.5 210.5,815.4 210.5,816.3 211.0,819.4 211.0,819.0 211.5,808.1 211.5,804.8 211.8,787.4 212.0,789.5 212.4,802.1 212.6,803.7 212.9,799.1 213.0,797.2 213.2,791.0 213.5,794.8 214.0,807.0 214.3,815.5 214.5,808.2 214.6,805.3 215.0,769.6 215.1,766.9 215.5,761.6 215.6,761.5 216.0,776.3 216.0,777.9 216.4,789.1 216.7,783.1 216.9,790.1 217.0,789.1 217.5,781.3 217.5,780.0 218.0,768.3 218.0,766.2 218.5,754.5 218.5,754.4 219.0,766.8 219.0,768.9 219.4,802.4 219.5,799.6 220.0,763.1 220.1,754.8 220.5,781.7 220.5,787.9 221.0,834.2 221.1,846.6 221.5,805.8 221.5,794.4 222.0,723.5 222.3,708.6 222.5,721.0 222.5,726.7 223.0,774.6 223.0,781.1 223.5,798.4 223.5,800.0 224.0,807.7 224.0,809.1 224.4,811.1 224.5,809.6 225.0,785.8 225.0,783.4 225.4,772.8 225.5,777.8 226.0,783.4 226.0,788.0 226.5,812.0 226.5,811.7 227.0,792.2 227.0,788.8 227.3,774.7 227.5,778.3 228.0,798.3 228.0,800.7 228.3,807.0 228.7,801.9 229.0,805.4 229.0,806.3 229.3,812.5 229.5,804.0 230.0,760.5 230.0,755.5 230.3,741.5 230.5,747.5 231.0,796.2 231.1,810.5 231.5,772.7 231.5,770.7 231.9,762.4 232.0,764.2 232.4,783.5 232.5,786.4 232.8,795.5 233.0,794.8 233.4,776.7 233.5,775.3 233.9,770.0 234.2,774.0 234.5,768.9 234.6,767.9 234.9,762.5 235.1,763.5 235.5,783.3 235.6,791.0 235.9,828.0 236.0,826.1 236.5,764.9 236.5,760.6 237.0,740.3 237.0,741.3 237.5,771.5 237.5,777.2 237.8,797.0 238.0,783.4 238.5,755.1 238.5,749.5 238.8,737.5 239.0,756.6 239.5,796.2 239.6,802.9 240.0,780.3 240.0,778.3 240.4,765.5 240.5,769.5 241.0,795.9 241.0,799.5 241.5,819.3 241.5,819.0 242.0,801.3 242.0,785.9 242.4,748.0 242.5,758.2 243.0,824.9 243.0,828.9 243.3,839.0 243.5,835.5 244.0,818.1 244.0,812.8 244.5,789.6 244.5,785.0 244.7,773.2 245.0,781.7 245.5,813.9 245.5,817.5 245.9,843.0 246.0,840.5 246.5,798.7 246.5,786.3 247.0,721.3 247.0,722.1 247.5,794.3 247.5,805.7 248.0,859.4 248.0,860.0 248.5,814.3 248.5,805.6 249.0,767.9 249.0,766.9 249.5,781.2 249.5,785.8 250.0,816.4 250.0,816.9 250.5,771.5 250.7,737.2 251.0,769.2 251.0,782.5 251.4,819.0 251.7,825.5 251.9,806.0 252.0,800.4 252.4,757.6 252.5,751.0 252.9,725.6 253.0,723.6 253.4,712.5 253.6,713.8 254.0,743.7 254.1,752.5 254.5,797.3 254.6,804.2 254.7,811.9 255.1,809.7 255.4,789.4 255.6,791.0 255.9,724.7 256.0,757.8 256.3,845.9 256.5,794.0 257.0,770.4 257.0,766.5 257.3,757.8 257.5,770.6 258.0,820.0 258.0,824.9 258.4,843.8 258.5,836.7 259.0,800.9 259.0,789.8 259.4,730.9 259.5,734.3 260.0,771.9 260.0,777.5 260.5,814.6 260.5,812.9 260.9,787.9 261.2,785.4 261.5,805.7 261.6,813.0 262.0,795.1 262.0,789.7 262.5,758.5 262.5,757.2 263.0,764.1 263.0,765.2 263.5,812.2 263.5,818.9 263.8,835.6 264.0,827.3 264.5,775.8 264.5,764.5 264.9,711.8 265.0,714.9 265.5,772.2 265.5,783.0 266.0,856.0 266.0,857.8 266.5,773.5 266.5,767.5 266.8,746.6 267.0,760.7 267.5,813.9 267.5,819.4 267.8,834.2 268.0,816.3 268.5,750.9 268.7,735.5 269.0,747.9 269.0,753.5 269.5,850.9 269.6,864.5 270.0,802.4 270.0,787.5 270.3,762.3 270.5,766.7 271.0,780.3 271.0,784.8 271.4,858.6 271.5,838.6 271.9,736.1 272.1,730.2 272.4,814.5 272.5,816.5 272.9,838.4 273.3,838.4 273.5,833.5 273.6,829.4 274.0,796.2 274.1,792.6 274.5,760.6 274.7,754.8 275.0,761.2 275.1,764.1 275.5,810.2 275.5,815.9 275.9,843.3 276.0,838.1 276.5,782.1 276.5,776.6 277.0,764.0 277.2,760.4 277.5,777.0 277.5,780.4 278.0,824.9 278.0,825.6 278.5,798.0 278.5,795.8 278.8,788.2 279.1,793.4 279.5,783.8 279.5,781.8 280.0,767.0 280.2,760.8 280.5,771.2 280.5,775.1 281.0,814.3 281.3,819.3 281.5,815.6 281.5,813.8 282.0,793.0 282.0,790.6 282.5,776.3 282.5,774.8 283.0,756.6 283.0,752.9 283.2,743.6 283.5,748.9 284.0,769.6 284.0,772.4 284.2,775.4 284.5,775.1 285.0,784.3 285.0,784.9 285.5,800.3 285.8,804.7 286.0,797.0 286.0,793.0 286.5,765.2 286.6,760.7 287.0,766.6 287.0,770.4 287.5,824.8 287.6,833.1 288.0,799.0 288.0,790.2 288.5,759.8 288.5,759.8 289.0,802.4 289.0,804.1 289.5,813.1 289.5,813.1 290.0,800.4 290.0,798.8 290.5,771.7 290.5,771.0 290.9,767.0 291.0,770.5 291.4,781.6 291.5,784.8 291.9,819.7 292.0,824.4 292.3,837.5 292.5,829.5 293.0,782.6 293.1,777.1 293.5,748.5 293.6,748.2 294.0,750.9 294.1,753.0 294.5,774.1 294.6,777.0 295.0,798.4 295.0,800.7 295.3,806.1 295.6,802.3 296.0,783.1 296.0,779.5 296.5,758.9 296.5,755.7 297.0,741.0 297.3,737.5 297.5,740.6 297.5,743.0 298.0,772.1 298.0,775.8 298.4,793.2 298.5,791.0 299.0,771.1 299.0,767.1 299.3,749.7 299.5,753.6 300.0,784.0 300.0,792.6 300.2,801.6 300.5,787.8 301.0,746.4 301.0,742.7 301.2,735.4 301.5,743.8 302.0,776.5 302.0,782.4 302.5,794.2 302.5,797.2 302.8,806.0 303.2,803.8 303.5,799.0 303.5,798.8 304.0,777.7 304.0,775.2 304.4,766.6 304.5,768.0 305.0,790.3 305.0,791.9 305.5,833.9 305.5,833.1 306.0,814.5 306.0,807.5 306.5,748.8 306.5,743.4 307.0,708.5 307.0,710.4 307.5,781.4 307.5,787.9 308.0,809.5 308.1,815.7 308.5,790.2 308.5,783.6 309.0,746.0 309.2,742.0 309.5,756.6 309.5,762.3 309.9,803.9 310.0,795.3 310.5,742.8 310.5,741.8 310.9,785.8 311.0,793.4 311.4,837.6 311.6,839.1 311.9,806.4 312.0,799.4 312.4,745.4 312.5,745.4 313.0,815.7 313.1,828.6 313.3,856.3 313.6,824.9 314.0,771.9 314.1,772.2 314.5,815.8 314.6,821.5 315.0,848.5 315.0,848.9 315.5,818.6 315.5,810.6 316.0,776.7 316.0,776.4 316.5,814.9 316.7,821.9 317.0,817.3 317.0,814.8 317.5,780.0 317.5,779.2 318.0,807.2 318.2,812.4 318.5,803.3 318.5,801.8 319.0,766.9 319.0,763.7 319.4,759.6 319.5,765.2 320.0,793.2 320.0,796.8 320.3,804.2 320.5,795.5 321.0,783.4 321.0,779.7 321.5,764.0 321.7,757.5 322.0,769.0 322.0,771.4 322.5,797.1 322.5,803.3 323.0,833.3 323.0,833.8 323.5,827.3 323.5,826.4 324.0,803.5 324.0,800.6 324.5,784.2 324.5,783.5 324.9,772.7 325.0,775.5 325.5,797.9 325.5,801.8 326.0,819.1 326.0,818.8 326.5,798.8 326.5,796.3 327.0,781.2 327.0,781.7 327.5,796.7 327.5,802.3 327.8,827.2 328.0,819.5 328.5,774.6 328.6,759.1 329.0,793.7 329.0,798.1 329.3,819.6 329.5,813.5 330.0,774.1 330.2,764.6 330.5,772.1 330.5,776.6 330.9,808.2 331.2,815.0 331.4,800.4 331.5,797.0 331.9,769.9 332.1,767.8 332.4,773.9 332.5,775.1" fill="none" stroke="#0072BD" stroke-width="0.85" stroke-linejoin="round"/></g>
<g clip-path="url(#ccL)"><polyline points="55.5,788.2 55.8,792.1 56.1,790.8 56.5,779.2 56.6,777.3 56.8,773.0 57.1,776.8 57.5,790.3 57.6,791.9 58.0,782.2 58.0,781.0 58.4,771.1 58.5,774.1 59.0,792.2 59.2,803.1 59.5,788.8 59.5,783.0 60.0,758.4 60.0,758.5 60.5,786.9 60.5,787.0 60.9,796.5 61.0,793.1 61.5,772.2 61.5,767.4 61.9,753.8 62.0,756.8 62.5,779.6 62.5,782.2 62.8,792.6 63.0,787.3 63.3,767.9 63.5,786.4 64.0,800.9 64.0,802.6 64.4,804.2 64.5,803.2 65.0,788.0 65.3,772.7 65.5,788.5 65.5,815.5 66.0,777.3 66.0,775.6 66.5,757.3 66.6,756.0 67.0,765.6 67.0,770.6 67.5,806.1 67.5,808.7 67.8,819.0 68.0,812.1 68.5,798.2 68.5,795.4 69.0,787.4 69.2,787.6 69.5,785.8 69.5,785.2 70.0,773.1 70.2,769.0 70.5,772.9 70.5,775.3 71.0,798.3 71.0,800.6 71.3,806.7 71.5,804.3 72.0,781.3 72.0,775.4 72.4,753.8 72.5,756.1 73.0,782.7 73.0,786.2 73.3,797.5 73.5,794.9 73.9,776.8 74.0,775.4 74.4,767.1 74.8,766.4 74.9,768.1 75.0,769.1 75.5,787.2 75.6,790.0 76.0,804.8 76.1,805.5 76.5,786.5 76.6,783.4 77.0,760.0 77.1,758.3 77.5,773.0 77.5,775.9 78.0,810.7 78.2,813.9 78.5,795.5 78.5,791.3 78.9,753.3 79.0,755.8 79.5,796.3 79.7,806.4 80.0,778.6 80.0,773.7 80.4,754.0 80.5,760.8 81.0,802.7 81.2,810.2 81.5,797.3 81.5,792.9 82.0,768.6 82.0,768.5 82.5,778.1 82.5,780.7 82.9,805.2 83.0,804.1 83.5,779.5 83.5,775.9 83.9,768.9 84.0,774.2 84.5,801.1 84.7,805.7 85.0,799.7 85.0,798.2 85.5,772.8 85.5,774.0 86.0,799.6 86.1,805.6 86.5,788.4 86.5,785.5 86.8,773.0 87.0,786.2 87.5,796.9 87.6,798.1 88.0,791.9 88.0,789.9 88.5,777.6 88.6,777.1 89.0,781.7 89.0,783.2 89.5,793.1 89.6,793.7 90.0,784.7 90.0,783.5 90.4,774.4 90.5,775.2 91.0,787.6 91.1,792.8 91.5,784.1 91.5,780.7 92.0,775.2 92.0,775.0 92.5,779.6 92.5,780.7 92.9,794.9 93.0,794.2 93.4,785.1 93.5,783.6 93.7,781.4 94.1,781.8 94.4,783.3 94.5,783.4 94.9,778.6 95.1,778.5 95.5,783.1 95.6,784.7 96.0,793.1 96.1,793.1 96.5,788.8 96.6,788.0 97.0,776.4 97.0,777.3 97.5,792.3 97.7,793.7 98.0,786.1 98.0,784.8 98.5,779.1 98.5,779.3 99.0,788.5 99.0,789.8 99.4,796.3 99.5,795.2 100.0,784.5 100.2,775.7 100.5,787.4 100.5,789.7 101.0,802.3 101.0,802.4 101.5,782.0 101.5,779.5 102.0,763.2 102.0,762.6 102.5,774.5 102.5,776.8 103.0,800.7 103.0,803.1 103.4,811.7 103.5,808.8 104.0,800.0 104.0,796.6 104.5,766.4 104.5,764.0 105.0,755.1 105.1,754.2 105.5,760.7 105.5,763.1 106.0,793.4 106.0,796.7 106.5,816.5 106.6,817.8 107.0,809.9 107.0,806.3 107.5,776.6 107.5,773.8 108.0,756.5 108.0,755.9 108.5,772.0 108.5,775.6 109.0,808.6 109.0,811.1 109.3,822.9 109.5,819.9 110.0,807.8 110.0,805.4 110.5,772.0 110.5,763.7 110.9,735.8 111.0,738.9 111.5,801.3 111.7,825.3 112.0,794.7 112.0,781.3 112.5,758.0 112.5,758.2 112.9,781.2 113.0,786.2 113.4,817.4 113.5,818.3 113.9,783.8 114.0,779.0 114.4,756.4 114.5,760.3 115.0,794.8 115.2,812.6 115.5,794.3 115.6,790.2 115.9,767.9 116.1,780.9 116.5,823.2 116.7,833.1 117.0,823.0 117.0,818.6 117.5,777.1 117.8,772.8 118.0,779.0 118.0,784.0 118.5,821.4 118.8,831.5 119.0,824.8 119.0,820.9 119.5,781.2 119.5,777.7 119.7,773.2 120.0,777.7 120.5,760.7 120.5,756.0 120.8,744.3 121.0,748.9 121.5,788.6 121.5,795.6 121.8,814.1 122.0,802.8 122.5,770.1 122.6,746.5 123.0,782.4 123.3,802.4 123.5,787.5 123.5,780.8 124.0,753.6 124.1,749.7 124.5,759.7 124.5,763.7 125.0,801.0 125.0,806.0 125.2,816.3 125.5,808.3 126.0,783.9 126.0,781.3 126.5,769.4 126.5,767.9 126.9,761.2 127.0,762.4 127.5,780.9 127.5,785.2 128.0,810.4 128.1,811.9 128.5,798.1 128.5,793.5 129.0,762.3 129.1,758.1 129.5,784.4 129.5,790.9 130.0,815.0 130.0,815.3 130.5,798.1 130.5,792.6 131.0,759.2 131.0,759.3 131.5,775.8 131.5,778.8 132.0,797.6 132.0,799.9 132.5,811.4 132.6,812.6 132.9,799.5 133.0,794.5 133.4,762.4 133.7,756.2 133.9,763.8 134.0,766.4 134.4,795.7 134.7,804.2 135.0,792.3 135.1,788.9 135.5,759.4 135.7,756.6 136.0,764.2 136.1,765.3 136.4,768.5 136.6,766.8 136.9,759.7 137.0,762.2 137.5,789.9 137.5,792.9 137.9,808.3 138.0,806.9 138.5,786.4 138.5,782.7 138.9,765.0 139.0,770.4 139.5,802.9 139.7,814.3 140.0,792.7 140.0,787.7 140.4,761.8 140.5,765.5 141.0,806.2 141.0,808.5 141.3,814.4 141.5,805.5 142.0,771.7 142.0,767.5 142.3,760.1 142.5,766.0 143.0,799.5 143.1,810.8 143.5,796.1 143.5,791.8 144.0,756.8 144.0,756.0 144.5,766.8 144.6,768.1 145.0,759.7 145.1,758.2 145.5,786.9 145.5,790.1 145.9,812.7 146.0,810.2 146.5,783.4 146.5,779.8 146.9,768.2 147.0,770.6 147.5,798.8 147.5,799.8 147.9,802.8 148.0,799.0 148.5,772.3 148.6,767.6 149.0,782.6 149.0,785.9 149.4,799.8 149.5,799.3 150.0,791.9 150.0,789.9 150.3,764.8 150.5,783.8 151.0,800.5 151.0,799.4 151.5,773.3 151.5,771.6 151.8,763.5 152.0,764.9 152.4,778.5 152.5,780.8 152.8,793.2 153.0,790.9 153.4,778.8 153.5,777.3 153.7,764.3 154.0,780.2 154.3,803.8 154.6,793.1 155.0,769.2 155.3,761.9 155.5,769.3 155.6,773.8 156.0,797.1 156.1,798.6 156.4,803.2 156.5,801.7 157.0,793.0 157.0,789.4 157.5,768.6 157.6,767.7 158.0,775.8 158.0,777.6 158.5,799.2 158.5,800.5 158.9,804.9 159.0,802.1 159.5,784.3 159.8,773.9 160.0,780.6 160.3,793.0 160.5,782.4 160.5,781.1 161.0,771.3 161.1,770.2 161.5,775.7 161.5,777.4 162.0,791.5 162.3,795.0 162.5,791.2 162.5,789.3 163.0,760.2 163.1,757.9 163.5,773.4 163.5,778.5 163.9,799.9 164.0,792.9 164.5,765.8 164.6,762.2 165.0,778.4 165.0,782.7 165.5,810.3 165.6,811.8 166.0,787.0 166.0,781.7 166.5,758.4 166.5,759.3 167.0,796.3 167.0,800.7 167.3,811.6 167.5,798.3 168.0,766.0 168.1,762.0 168.5,769.3 168.5,770.7 169.0,794.8 169.0,798.8 169.2,806.9 169.5,806.0 169.7,809.5 170.0,805.2 170.5,788.7 170.5,786.4 170.9,767.5 171.0,768.7 171.5,788.7 171.5,792.7 172.0,810.2 172.0,809.3 172.4,770.4 172.7,746.6 172.9,764.8 173.0,772.8 173.4,819.5 173.6,824.8 173.9,803.8 174.0,797.7 174.5,748.5 174.6,747.7 175.0,766.1 175.1,769.9 175.5,796.5 175.6,797.0 175.8,788.4 176.2,787.5 176.5,804.3 176.8,811.4 177.0,803.9 177.0,799.8 177.5,768.3 177.7,764.5 178.0,767.5 178.0,769.9 178.5,810.4 178.5,807.9 179.0,775.5 179.3,772.9 179.5,776.1 179.5,778.5 180.0,800.8 180.2,803.6 180.5,799.8 180.5,799.0 181.0,776.3 181.0,773.3 181.3,768.3 181.5,770.4 182.0,782.8 182.0,783.5 182.4,790.6 182.6,788.4 183.0,789.7 183.0,790.0 183.5,795.3 183.8,797.8 184.0,795.6 184.0,793.9 184.5,779.4 184.5,777.8 185.0,769.4 185.1,769.2 185.5,772.9 185.5,773.5 186.0,783.3 186.0,785.3 186.5,797.3 186.5,798.8 186.8,803.3 187.0,801.4 187.5,785.9 187.5,783.8 188.0,768.8 188.0,768.5 188.5,775.1 188.5,777.4 189.0,793.6 189.0,794.4 189.3,798.0 189.5,795.7 190.0,785.0 190.0,782.4 190.4,773.4 190.5,773.8 191.0,778.1 191.0,779.3 191.5,785.3 191.5,785.7 192.0,789.8 192.0,790.7 192.4,799.0 192.5,799.2 192.9,790.2 193.0,788.1 193.4,772.2 193.5,771.7 193.9,783.1 194.0,784.9 194.4,800.3 194.6,793.7 195.0,765.7 195.2,761.7 195.5,778.0 195.6,782.6 196.0,798.3 196.0,798.6 196.5,786.1 196.5,782.5 197.0,768.9 197.2,766.2 197.5,771.4 197.5,772.6 198.0,795.2 198.3,800.1 198.5,794.6 198.5,791.8 199.0,770.9 199.3,766.8 199.5,770.9 199.5,772.7 200.0,798.1 200.0,801.5 200.4,812.2 200.5,807.1 201.0,779.6 201.0,774.5 201.3,763.9 201.5,765.1 202.0,786.1 202.0,789.2 202.3,802.2 202.5,796.3 203.0,762.2 203.0,761.2 203.5,793.8 203.5,797.8 204.0,825.4 204.0,824.6 204.5,788.6 204.5,782.3 205.0,745.1 205.1,741.9 205.5,754.0 205.5,755.5 206.0,764.7 206.0,765.5 206.5,778.7 206.5,779.7 207.0,795.6 207.2,798.6 207.5,793.9 207.5,792.0 208.0,772.5 208.2,766.4 208.5,776.0 208.5,778.5 209.0,804.7 209.0,804.1 209.5,785.1 209.5,783.6 209.8,779.1 210.0,782.9 210.5,798.2 210.5,799.0 210.8,804.3 211.0,802.0 211.5,791.7 211.5,790.2 211.7,788.0 212.0,788.3 212.4,802.4 212.6,809.9 212.9,789.4 213.0,786.8 213.4,776.7 213.5,777.9 214.0,794.7 214.1,796.7 214.3,800.0 214.6,797.7 215.0,784.8 215.1,784.2 215.4,779.6 215.6,780.4 216.0,782.9 216.0,783.6 216.5,789.8 216.5,790.0 216.8,791.8 217.3,791.2 217.5,789.4 217.5,788.9 218.0,783.1 218.0,782.7 218.4,777.7 218.5,778.2 219.0,782.2 219.0,783.5 219.3,795.2 219.5,789.3 220.0,769.3 220.2,767.0 220.5,776.8 220.5,780.2 221.0,786.9 221.2,789.4 221.5,782.6 221.5,780.9 222.0,760.5 222.3,756.0 222.5,759.6 222.5,762.1 223.0,775.7 223.0,777.5 223.3,781.7 223.6,779.6 224.0,785.1 224.0,786.1 224.5,792.8 224.5,793.1 225.0,785.5 225.0,783.8 225.5,775.7 225.5,775.8 226.0,784.4 226.0,786.3 226.5,798.0 226.5,799.0 226.7,801.5 227.0,798.7 227.4,795.5 227.5,795.7 228.0,765.5 228.0,761.6 228.3,746.6 228.5,751.0 229.0,794.3 229.0,797.2 229.4,809.9 229.5,808.9 230.0,784.4 230.0,779.9 230.3,766.9 230.5,770.1 231.0,805.4 231.0,805.0 231.5,775.4 231.5,773.9 231.7,771.2 232.0,774.8 232.4,796.0 232.5,800.4 232.7,813.7 233.0,802.9 233.4,777.6 233.6,769.2 234.0,795.1 234.2,799.1 234.5,780.5 234.6,776.2 234.9,752.4 235.1,754.1 235.5,787.9 235.6,791.2 235.8,804.2 236.0,797.8 236.5,763.0 236.5,759.1 236.8,753.4 237.0,758.7 237.5,781.1 237.7,791.1 238.0,783.1 238.0,780.7 238.5,751.6 238.7,746.0 239.0,765.0 239.0,770.7 239.4,812.8 239.5,808.7 240.0,767.7 240.3,762.6 240.5,766.5 240.5,768.9 241.0,806.6 241.1,816.7 241.5,806.3 241.5,805.2 242.0,766.6 242.2,760.1 242.5,785.0 242.5,795.3 243.0,810.2 243.0,811.6 243.1,812.8 243.5,811.7 244.0,795.6 244.0,789.6 244.5,752.7 244.7,745.0 245.0,767.1 245.0,774.9 245.5,811.4 245.5,812.6 245.8,816.4 246.0,811.4 246.5,774.3 246.5,766.4 246.9,747.5 247.0,751.3 247.5,799.5 247.5,804.1 247.9,827.1 248.0,826.1 248.5,800.1 248.5,795.0 249.0,751.8 249.1,745.5 249.5,753.0 249.5,755.6 250.0,779.9 250.0,783.0 250.5,795.2 250.5,797.2 251.0,808.7 251.3,810.7 251.4,807.9 251.5,804.4 251.9,773.1 252.0,770.5 252.4,755.9 252.5,756.3 252.9,767.8 253.0,768.8 253.3,816.3 253.6,768.2 254.0,746.8 254.1,746.4 254.5,774.2 254.6,778.2 255.0,800.0 255.2,802.2 255.5,795.2 255.5,794.2 256.0,787.5 256.0,786.0 256.3,781.4 256.5,781.1 257.0,767.5 257.0,765.6 257.3,753.6 257.5,766.3 258.0,802.7 258.0,805.8 258.5,815.8 258.5,815.5 259.0,798.7 259.0,796.2 259.5,767.0 259.6,766.1 260.0,776.7 260.0,779.5 260.5,811.3 260.5,816.2 261.0,824.1 261.3,821.0 261.5,825.4 261.5,825.8 262.0,795.0 262.0,788.8 262.4,773.2 262.8,769.3 263.0,774.9 263.0,777.6 263.5,805.1 263.5,807.5 263.8,816.7 264.0,810.5 264.5,787.8 264.5,782.3 265.0,765.7 265.0,765.7 265.5,785.2 265.5,787.7 266.0,820.2 266.0,820.1 266.5,784.3 266.5,775.3 266.8,752.8 267.0,766.4 267.5,797.6 267.6,799.3 268.0,786.2 268.0,780.8 268.5,759.1 268.6,756.5 269.0,766.3 269.0,768.3 269.5,819.2 269.5,819.3 270.0,777.2 270.0,770.0 270.5,746.4 270.5,746.1 271.0,762.7 271.0,766.5 271.4,796.0 271.5,794.3 271.9,747.3 272.0,750.6 272.4,804.6 272.5,808.1 272.9,823.7 273.0,823.1 273.5,802.3 273.6,800.3 274.0,783.2 274.1,781.5 274.5,763.3 274.6,763.4 275.0,769.0 275.1,773.2 275.5,797.6 275.5,799.7 275.8,810.5 276.0,804.9 276.5,781.6 276.5,772.6 276.9,745.0 277.0,755.9 277.5,792.8 277.7,797.4 278.0,786.0 278.0,782.8 278.5,768.8 278.5,769.0 279.0,780.4 279.0,782.5 279.4,798.4 279.5,796.6 280.0,776.8 280.3,765.7 280.5,777.8 280.5,782.6 281.0,797.4 281.0,797.6 281.5,781.3 281.6,773.4 282.0,795.2 282.0,797.5 282.4,804.5 282.5,803.3 283.0,780.8 283.0,778.6 283.5,772.0 283.5,772.1 284.0,783.0 284.0,784.6 284.2,789.0 284.6,789.6 284.9,784.5 285.0,786.8 285.5,798.6 285.6,800.2 286.0,793.8 286.0,791.7 286.5,770.4 286.6,768.4 287.0,780.4 287.0,783.0 287.5,801.0 287.5,800.9 288.0,789.6 288.0,786.7 288.5,771.2 288.5,771.5 289.0,796.5 289.0,799.1 289.5,813.9 289.6,816.4 290.0,810.7 290.0,809.2 290.5,778.1 290.5,773.9 290.9,748.9 291.0,748.0 291.4,768.7 291.5,773.1 291.9,798.7 292.0,800.8 292.3,806.1 292.5,801.6 293.0,770.4 293.1,765.5 293.5,750.1 293.6,750.3 294.0,762.1 294.1,764.6 294.5,790.3 294.6,793.1 294.9,805.1 295.1,804.0 295.5,809.4 295.7,814.8 296.0,805.5 296.0,801.8 296.5,771.0 296.5,769.8 297.0,761.5 297.1,760.8 297.5,766.8 297.5,768.0 298.0,789.0 298.0,789.8 298.4,799.8 298.5,795.2 299.0,783.0 299.0,780.3 299.5,762.7 299.5,762.0 300.0,773.9 300.2,798.0 300.5,772.6 300.5,771.1 301.0,762.7 301.3,758.6 301.5,762.0 301.5,763.4 302.0,783.6 302.0,785.8 302.5,800.2 302.6,802.4 303.0,793.0 303.0,792.1 303.5,764.9 303.5,759.5 303.8,749.7 304.0,757.0 304.5,789.8 304.5,794.5 304.7,820.7 305.0,799.7 305.4,747.6 305.5,762.9 306.0,806.6 306.2,810.7 306.5,803.6 306.5,800.6 307.0,776.5 307.1,775.5 307.5,785.2 307.5,788.5 308.0,810.9 308.0,811.7 308.5,787.0 308.5,782.0 309.0,756.7 309.1,755.4 309.5,773.1 309.5,776.0 309.9,806.5 310.0,800.8 310.5,761.9 310.6,758.5 310.9,780.8 311.0,784.6 311.4,809.1 311.5,806.9 311.9,789.3 312.0,784.7 312.3,764.9 312.5,773.0 313.0,807.5 313.1,811.4 313.5,798.6 313.6,793.2 313.9,758.4 314.1,760.3 314.5,807.6 314.6,810.0 314.9,820.5 315.0,818.7 315.5,789.7 315.5,779.2 315.8,747.8 316.0,760.3 316.5,811.9 316.7,820.7 317.0,800.5 317.0,794.0 317.4,760.0 317.5,762.9 318.0,787.7 318.0,791.9 318.3,799.5 318.5,788.5 319.0,768.5 319.2,765.6 319.5,769.1 319.5,771.0 320.0,806.2 320.0,811.2 320.3,820.8 320.5,810.1 321.0,770.8 321.0,767.9 321.5,749.3 321.5,749.9 322.0,759.8 322.0,763.1 322.5,786.3 322.5,788.9 323.0,796.3 323.0,797.2 323.2,799.0 323.5,798.0 324.0,786.3 324.0,784.0 324.5,768.1 324.8,766.4 325.0,770.2 325.0,772.7 325.5,793.6 325.5,796.3 325.9,802.5 326.0,800.3 326.5,777.8 326.5,775.9 326.8,769.7 327.0,772.9 327.5,791.3 327.5,793.3 327.7,797.4 328.0,792.3 328.5,770.0 328.6,768.1 329.0,781.9 329.0,785.3 329.4,800.8 329.5,797.6 330.0,775.5 330.2,771.0 330.5,775.8 330.5,777.1 330.9,798.0 331.2,800.5 331.4,793.7 331.5,790.0 331.9,769.7 332.1,767.2 332.4,773.4 332.5,774.5" fill="none" stroke="#EDB120" stroke-width="0.85" stroke-linejoin="round"/></g>
<path d="M55.5 666.6H332.5V879.2H55.5ZM55.5 879.2v-2.8M55.5 666.6v2.8M110.9 879.2v-2.8M110.9 666.6v2.8M166.3 879.2v-2.8M166.3 666.6v2.8M221.7 879.2v-2.8M221.7 666.6v2.8M277.1 879.2v-2.8M277.1 666.6v2.8M332.5 879.2v-2.8M332.5 666.6v2.8M55.5 879.2h2.8M332.5 879.2h-2.8M55.5 832.0h2.8M332.5 832.0h-2.8M55.5 784.7h2.8M332.5 784.7h-2.8M55.5 737.5h2.8M332.5 737.5h-2.8M55.5 690.2h2.8M332.5 690.2h-2.8" stroke="#4a4a4a" stroke-width="1.15" fill="none"/>
<text x="55.5" y="900.0" font-size="16" text-anchor="middle" fill="#000">0</text>
<text x="110.9" y="900.0" font-size="16" text-anchor="middle" fill="#000">5</text>
<text x="166.3" y="900.0" font-size="16" text-anchor="middle" fill="#000">10</text>
<text x="221.7" y="900.0" font-size="16" text-anchor="middle" fill="#000">15</text>
<text x="277.1" y="900.0" font-size="16" text-anchor="middle" fill="#000">20</text>
<text x="332.5" y="900.0" font-size="16" text-anchor="middle" fill="#000">25</text>
<text x="50.9" y="886.0" font-size="16" text-anchor="end" fill="#000">-400</text>
<text x="50.9" y="838.8" font-size="16" text-anchor="end" fill="#000">-200</text>
<text x="50.9" y="791.5" font-size="16" text-anchor="end" fill="#000">0</text>
<text x="50.9" y="744.3" font-size="16" text-anchor="end" fill="#000">200</text>
<text x="50.9" y="697.0" font-size="16" text-anchor="end" fill="#000">400</text>
<rect x="211.6" y="666.8" width="121.3" height="43.6" fill="#fff" stroke="#4a4a4a" stroke-width="1"/>
<path d="M213.8 676.9H232.8" stroke="#0072BD" stroke-width="1"/>
<text class="s" x="234" y="679.5" font-size="13" fill="#000">Pce-H<tspan font-size="9.5" dy="5.5">2</tspan><tspan dy="-5.5"> control</tspan></text>
<path d="M213.8 698.5H232.8" stroke="#EDB120" stroke-width="1"/>
<text class="s" x="234" y="701.1" font-size="13" fill="#000">General H<tspan font-size="9.5" dy="5.5">2</tspan><tspan dy="-5.5"> control</tspan></text>
<text class="s" transform="translate(14.3 773.1) rotate(-90)" x="0" y="0" font-size="19" text-anchor="middle" textLength="127.6" lengthAdjust="spacingAndGlyphs" fill="#000">Control force(N)</text>
<text class="s" x="154.7" y="934.7" font-size="24" fill="#000">Time(s)</text>
<path d="M440.2 665.4V888.3M498.2 665.4V888.3M556.2 665.4V888.3M614.2 665.4V888.3M382.2 847.8H672.2M382.2 807.2H672.2M382.2 766.7H672.2M382.2 726.2H672.2M382.2 685.7H672.2" stroke="#E0E0E0" stroke-width="0.8" fill="none"/>
<g clip-path="url(#ccR)"><polyline points="382.2,887.4 382.6,877.9 383.0,887.2 383.2,877.2 383.2,872.5 383.6,855.7 383.7,855.6 384.2,879.4 384.5,880.1 384.7,887.1 384.8,885.8 385.2,863.8 385.4,857.9 385.7,867.3 385.9,887.3 386.1,863.2 386.3,858.0 386.7,886.3 386.7,883.6 387.1,843.3 387.2,848.5 387.6,886.8 387.7,880.0 388.0,872.3 388.4,886.8 388.7,869.9 388.8,867.6 389.0,863.0 389.2,870.0 389.6,888.1 389.7,885.4 390.0,878.0 390.2,881.3 390.7,887.8 390.8,887.7 391.2,872.6 391.4,873.5 391.7,872.1 391.7,872.6 392.0,886.4 392.2,870.5 392.7,854.6 393.0,855.1 393.2,850.4 393.2,847.6 393.7,837.6 393.7,837.5 394.1,873.4 394.3,885.2 394.7,811.3 394.7,803.0 395.0,783.3 395.2,795.2 395.7,840.8 395.9,881.3 396.2,813.7 396.3,799.6 396.5,813.8 396.7,808.3 397.1,861.1 397.2,857.3 397.5,887.5 397.7,872.5 398.1,832.8 398.2,829.1 398.6,792.8 398.7,795.2 399.2,845.5 399.4,887.6 399.7,854.8 399.8,851.9 400.2,864.4 400.4,886.2 400.6,842.2 400.8,835.5 401.2,884.6 401.2,872.4 401.7,828.3 401.7,827.8 402.0,824.5 402.2,830.8 402.7,884.9 402.7,879.3 402.9,861.1 403.3,859.6 403.7,870.8 403.7,872.4 403.9,885.7 404.2,869.2 404.6,826.4 404.7,821.9 405.1,803.7 405.2,815.3 405.7,887.5 405.7,883.1 406.0,868.6 406.3,885.7 406.7,804.0 407.0,766.6 407.2,806.6 407.3,827.2 407.5,888.2 408.0,840.8 408.2,867.5 408.3,885.1 408.6,817.3 408.7,803.3 408.9,775.8 409.2,798.7 409.6,834.3 410.0,821.3 410.2,831.4 410.2,838.9 410.5,886.6 410.7,831.8 411.0,794.4 411.2,808.6 411.7,888.2 411.9,871.5 412.2,883.0 412.2,888.0 412.6,832.5 412.7,822.3 413.0,800.0 413.2,811.1 413.6,820.1 413.8,816.6 414.2,788.8 414.3,785.3 414.7,828.2 414.9,881.3 415.1,835.5 415.2,832.8 415.6,882.1 415.7,835.6 416.0,807.0 416.2,824.0 416.7,883.7 416.7,885.0 416.9,862.6 417.5,888.2 417.7,853.9 417.9,844.9 418.2,853.4 418.2,857.7 418.4,886.4 418.9,842.8 419.1,861.3 419.3,883.1 419.5,863.0 419.7,879.5 420.2,851.6 420.5,846.1 420.7,853.9 420.7,858.8 421.1,886.8 421.2,868.5 421.5,858.4 421.8,860.7 422.1,887.0 422.2,882.0 422.5,870.4 422.9,878.5 423.1,869.2 423.4,875.4 423.7,862.0 423.7,860.9 424.2,874.8 424.4,887.1 424.7,876.5 424.9,871.2 425.2,886.9 425.2,882.4 425.6,848.5 425.7,847.3 426.1,886.9 426.2,858.7 426.5,818.7 426.8,886.2 427.1,823.5 427.3,809.1 427.7,857.7 427.8,887.3 428.2,825.3 428.3,826.1 428.7,887.4 428.7,883.3 429.1,853.3 429.2,861.5 429.5,887.0 429.7,872.0 430.1,853.5 430.4,886.1 430.7,858.6 430.7,854.8 431.0,849.5 431.2,852.6 431.6,886.3 431.7,875.3 432.1,841.8 432.3,844.8 432.7,878.3 432.7,885.8 433.2,840.5 433.2,836.9 433.6,821.5 433.7,819.7 434.2,812.7 434.3,811.3 434.7,824.6 434.7,827.5 435.1,881.1 435.2,855.4 435.7,769.9 435.8,756.7 436.2,836.8 436.4,880.2 436.7,839.8 436.7,838.6 437.1,815.9 437.2,824.8 437.6,872.7 437.7,880.6 437.8,887.3 438.5,884.5 438.7,867.8 438.8,859.4 439.2,772.5 439.2,760.8 439.5,729.7 439.7,747.5 440.1,874.6 440.2,822.7 440.5,684.4 440.7,707.5 441.2,849.3 441.2,849.3 441.6,795.2 441.7,780.3 441.9,740.8 442.2,799.7 442.5,885.3 442.8,826.6 443.0,804.3 443.2,814.2 443.6,886.4 443.7,835.3 444.1,786.6 444.2,790.5 444.7,862.5 444.8,888.2 445.2,843.2 445.2,839.8 445.7,791.9 445.7,786.6 446.2,735.0 446.2,734.7 446.7,795.5 446.8,812.0 447.0,886.6 447.2,851.1 447.4,826.0 447.9,882.2 448.1,805.5 448.2,791.4 448.6,748.5 448.7,760.2 449.2,815.2 449.2,817.2 449.5,819.8 449.7,820.0 450.2,870.7 450.3,888.3 450.7,823.3 450.8,812.3 451.0,790.4 451.5,800.1 451.7,813.9 451.9,816.4 452.1,837.7 452.4,884.4 452.7,785.6 452.9,754.1 453.2,780.1 453.2,796.3 453.5,883.7 453.7,788.5 454.0,734.4 454.2,755.7 454.6,856.7 454.7,883.4 455.0,821.8 455.3,886.5 455.6,854.5 455.9,884.4 456.1,805.2 456.2,801.2 456.6,882.8 456.7,843.4 457.1,813.1 457.3,815.4 457.7,846.8 457.8,881.0 458.1,825.6 458.2,827.5 458.6,885.8 458.7,871.4 459.2,821.2 459.2,822.3 459.7,877.7 459.7,886.1 460.2,832.6 460.2,833.9 460.7,880.5 460.7,886.4 461.1,838.3 461.3,845.2 461.7,886.7 461.7,887.8 462.2,863.1 462.2,860.3 462.6,808.5 462.7,803.2 463.1,774.0 463.2,800.5 463.5,881.4 463.7,849.1 464.1,824.5 464.2,825.8 464.7,852.4 464.9,884.9 465.2,843.9 465.3,841.8 465.6,884.7 465.7,876.9 466.2,811.3 466.4,807.7 466.6,813.9 466.8,817.7 467.2,778.1 467.5,760.2 467.7,791.0 467.8,811.8 467.9,882.9 468.2,838.9 468.7,808.5 468.7,808.6 469.1,849.0 469.2,877.0 469.6,728.8 469.7,743.4 470.2,883.6 470.2,864.0 470.5,805.5 470.7,812.5 471.1,868.4 471.3,747.1 471.5,882.7 471.8,824.9 472.2,791.9 472.2,791.7 472.7,887.3 472.7,878.0 473.1,824.5 473.2,824.3 473.7,851.0 473.8,880.0 474.2,829.7 474.2,830.0 474.7,863.0 474.9,887.6 475.2,849.4 475.2,844.2 475.7,785.6 475.8,778.9 476.2,829.4 476.3,880.7 476.7,787.6 476.9,766.3 477.1,780.4 477.2,789.3 477.6,884.9 477.9,841.5 478.2,863.6 478.3,886.4 478.7,819.1 478.8,811.7 479.2,837.5 479.2,845.0 479.4,888.2 480.0,885.5 480.2,862.2 480.2,857.0 480.6,845.1 480.7,846.9 481.1,864.1 481.4,886.5 481.6,862.4 481.7,871.1 481.8,887.3 482.4,885.8 482.7,860.9 482.7,858.6 483.2,843.8 483.2,844.4 483.6,857.5 483.7,859.2 484.1,886.9 484.5,883.3 484.7,873.2 484.7,867.1 485.1,850.3 485.3,847.3 485.7,882.8 485.7,887.8 486.2,854.9 486.3,853.2 486.5,848.4 486.7,857.8 487.0,888.1 487.2,853.9 487.6,825.3 487.7,826.5 488.2,855.5 488.2,859.2 488.7,879.2 488.9,887.5 489.2,865.6 489.4,858.1 489.7,869.9 489.8,885.4 490.2,841.9 490.4,832.0 490.7,853.4 490.9,883.9 491.2,833.2 491.3,828.8 491.6,867.3 491.7,880.9 492.1,809.9 492.2,815.3 492.7,887.9 492.7,886.7 493.0,880.9 493.2,887.8 493.7,852.5 494.1,850.6 494.2,853.3 494.3,856.7 494.5,884.5 495.0,839.6 495.2,869.5 495.3,885.9 495.6,833.1 495.8,826.2 496.2,864.4 496.3,883.4 496.6,828.1 496.8,838.6 497.0,887.4 497.4,831.4 497.7,868.4 497.7,884.2 498.1,832.2 498.3,827.7 498.7,886.7 498.7,884.1 499.2,855.0 499.2,853.9 499.6,887.8 499.7,871.7 500.2,814.6 500.2,813.1 500.7,864.0 500.9,885.4 501.2,845.7 501.2,840.6 501.7,815.1 501.7,812.3 502.0,803.7 502.2,812.0 502.7,880.1 502.7,882.9 503.2,807.6 503.3,804.2 503.7,872.2 503.7,885.3 504.2,759.8 504.2,762.4 504.6,873.4 504.8,823.9 505.0,736.3 505.2,764.6 505.4,879.6 505.7,795.9 506.0,762.6 506.2,804.0 506.4,880.2 506.9,833.8 507.2,847.5 507.2,848.5 507.6,879.8 507.9,886.5 508.2,840.7 508.4,833.4 508.7,866.9 508.9,887.4 509.2,871.3 509.3,862.3 509.6,886.8 509.7,865.2 510.1,803.9 510.2,802.6 510.7,853.7 510.7,861.2 510.8,883.8 511.2,857.6 511.7,823.6 511.7,822.9 512.2,887.8 512.2,879.8 512.6,817.1 512.7,818.0 513.2,873.6 513.2,884.6 513.7,816.0 513.8,810.9 514.1,839.9 514.2,847.4 514.6,887.2 514.7,851.1 514.9,835.8 515.3,849.1 515.6,854.8 515.7,853.3 516.1,840.8 516.2,841.6 516.6,866.8 516.9,887.8 517.2,867.3 517.3,864.8 517.5,869.8 517.7,865.0 518.2,848.2 518.3,844.0 518.7,850.3 518.7,854.6 519.0,884.1 519.3,866.3 519.7,846.4 519.7,846.4 520.2,875.2 520.3,886.1 520.6,854.9 520.7,848.5 521.0,832.9 521.2,842.0 521.7,874.9 521.8,886.7 522.2,861.1 522.3,858.7 522.7,865.5 522.9,885.2 523.2,806.9 523.4,783.7 523.7,868.6 523.7,884.2 524.1,835.2 524.2,847.8 524.4,885.4 524.9,824.0 525.2,852.9 525.3,881.1 525.7,802.6 525.8,801.5 526.2,885.2 526.2,879.6 526.5,838.8 526.7,850.8 527.1,883.9 527.2,847.5 527.5,799.5 527.7,821.2 528.0,885.0 528.4,862.8 528.7,879.7 528.7,888.1 529.2,817.7 529.3,807.0 529.7,855.8 529.8,884.7 530.2,847.2 530.2,841.5 530.4,827.9 530.7,843.8 531.1,879.6 531.2,854.7 531.7,763.4 531.7,767.0 532.2,851.1 532.4,886.7 532.7,835.3 532.8,822.4 533.2,845.2 533.5,880.7 533.7,835.0 533.8,817.7 534.0,764.0 534.2,794.4 534.5,879.8 534.7,827.9 535.0,793.2 535.2,801.3 535.7,873.1 535.8,886.1 536.1,869.5 536.3,887.1 536.7,845.9 536.9,825.5 537.2,862.1 537.2,886.2 537.7,756.4 537.8,751.7 538.2,869.4 538.2,878.3 538.7,719.4 538.9,705.9 539.1,734.6 539.2,744.2 539.7,793.3 539.7,801.3 540.2,853.0 540.2,856.9 540.5,887.6 540.7,860.5 540.9,846.4 541.5,887.8 541.6,838.7 541.7,815.4 542.0,766.8 542.2,810.3 542.4,886.4 542.9,825.7 543.2,855.0 543.2,859.8 543.7,888.2 543.8,887.4 544.2,847.1 544.3,840.3 544.6,828.9 544.9,824.1 545.2,834.1 545.2,837.8 545.6,866.3 545.7,873.7 545.9,883.2 546.2,876.2 546.6,853.2 546.7,854.3 547.2,869.1 547.3,876.7 547.7,868.9 547.8,869.1 548.2,841.9 548.4,831.2 548.7,844.8 548.7,850.2 549.0,885.0 549.2,855.3 549.6,847.0 549.8,845.3 550.2,870.1 550.2,872.7 550.5,887.8 550.8,887.7 551.2,879.5 551.2,878.3 551.6,888.1 551.7,884.6 552.2,865.7 552.3,861.9 552.7,838.0 552.9,832.2 553.2,845.8 553.2,848.9 553.6,885.6 553.8,855.5 554.2,884.5 554.2,882.6 554.6,832.8 554.9,882.7 555.2,843.4 555.2,832.4 555.6,773.6 555.7,780.1 556.1,884.4 556.2,846.3 556.7,753.5 556.8,747.2 557.2,799.9 557.2,808.6 557.7,886.7 557.7,881.5 558.2,858.4 558.2,857.7 558.7,841.5 559.0,839.3 559.2,842.2 559.2,844.9 559.6,886.4 559.7,881.6 560.0,866.2 560.2,875.5 560.7,885.9 560.7,882.2 561.2,837.7 561.2,838.4 561.7,869.8 561.8,887.4 562.1,869.8 562.5,886.6 562.7,869.3 562.8,863.2 563.2,847.0 563.2,847.1 563.5,856.5 563.7,851.6 564.1,836.8 564.2,837.7 564.6,888.0 564.7,865.8 565.2,809.9 565.2,808.1 565.7,861.1 565.8,884.5 566.1,840.6 566.3,882.6 566.7,850.6 566.9,846.9 567.2,861.4 567.2,866.2 567.5,886.0 567.9,868.3 568.1,873.1 568.3,886.3 568.7,869.1 568.7,868.5 569.0,861.0 569.3,868.4 569.7,857.2 569.7,855.7 570.1,847.1 570.2,851.0 570.6,885.6 570.7,876.6 571.1,808.1 571.2,811.6 571.6,882.6 571.7,843.6 572.2,806.2 572.2,806.0 572.7,855.0 572.7,863.8 572.8,886.0 573.3,885.9 573.7,859.0 573.7,845.6 574.1,800.7 574.2,812.2 574.6,887.8 574.7,881.7 575.0,854.6 575.3,885.3 575.7,854.5 575.7,852.7 576.2,883.5 576.2,886.9 576.7,837.6 576.9,824.2 577.2,838.7 577.5,886.2 577.7,833.4 577.8,820.3 578.2,886.0 578.2,863.4 578.6,795.3 578.8,787.6 579.2,799.2 579.2,801.5 579.7,847.8 579.7,852.6 580.1,887.7 580.3,866.9 580.7,888.3 580.7,881.6 581.2,819.8 581.3,811.3 581.5,780.3 581.7,790.1 582.2,885.4 582.2,869.1 582.6,770.7 582.7,772.3 583.1,884.5 583.2,849.5 583.7,749.9 583.8,748.7 584.2,816.0 584.2,833.4 584.5,887.0 584.8,855.2 585.1,871.0 585.3,886.3 585.7,834.7 585.8,828.6 586.2,870.0 586.2,882.9 586.5,800.2 586.7,818.5 586.9,886.6 587.2,840.1 587.6,812.7 587.8,828.0 588.2,887.4 588.2,879.0 588.7,796.9 588.7,792.6 589.1,768.2 589.2,765.8 589.4,754.5 589.7,769.3 590.2,863.4 590.4,887.4 590.7,842.5 590.7,837.9 590.9,848.1 591.2,846.9 591.5,879.7 591.8,868.6 592.0,777.1 592.3,886.9 592.4,774.9 592.9,886.2 593.1,861.8 593.2,854.6 593.4,838.4 593.8,886.1 594.2,822.8 594.2,813.8 594.6,778.8 594.7,786.0 595.2,848.5 595.3,879.0 595.7,788.7 595.8,790.3 596.2,842.5 596.4,884.0 596.7,840.7 596.8,833.0 597.1,880.4 597.6,887.0 597.7,879.9 597.7,870.9 598.0,835.8 598.2,854.3 598.5,885.1 598.7,858.6 598.9,837.4 599.2,848.7 599.6,871.4 599.7,881.6 600.2,797.9 600.3,794.0 600.7,835.3 600.9,885.5 601.2,812.0 601.2,793.9 601.4,753.3 601.7,779.2 602.1,885.1 602.3,826.2 602.6,752.8 602.7,770.7 603.0,879.3 603.4,817.6 603.6,843.8 603.9,887.2 604.2,824.0 604.5,796.6 604.7,829.8 604.9,886.4 605.2,825.7 605.4,797.1 605.7,820.1 606.0,882.0 606.2,765.7 606.3,740.5 606.7,830.5 606.8,883.0 607.1,846.7 607.2,850.5 607.6,864.4 607.8,888.2 608.2,762.1 608.2,751.4 608.5,883.8 608.9,787.3 609.2,882.7 609.2,850.8 609.7,807.6 609.7,798.8 609.9,788.9 610.3,788.8 610.7,828.1 610.7,834.9 611.2,887.0 611.2,880.6 611.6,832.8 611.7,833.9 612.2,867.7 612.3,885.9 612.7,809.3 612.8,799.2 613.0,779.8 613.2,807.6 613.6,883.4 613.7,857.7 614.1,847.6 614.3,843.3 614.7,880.4 614.7,884.5 615.2,812.5 615.2,814.7 615.7,863.6 615.7,867.8 616.0,881.9 616.3,872.1 616.6,887.2 616.8,882.9 617.2,857.7 617.4,844.1 617.7,857.0 617.9,888.0 618.1,846.6 618.2,839.1 618.5,824.1 618.7,828.2 619.2,861.0 619.2,867.3 619.6,888.0 619.7,880.3 620.2,855.1 620.2,849.5 620.6,812.2 620.8,813.9 621.2,833.7 621.2,839.5 621.7,871.1 622.0,870.5 622.1,874.5 622.5,887.9 622.7,876.2 622.7,870.3 623.2,853.4 623.3,851.3 623.7,885.4 623.7,885.8 624.2,843.9 624.2,844.2 624.7,881.2 624.8,885.0 625.2,800.0 625.2,798.7 625.7,886.4 625.7,875.5 626.1,842.1 626.2,844.8 626.4,888.1 626.7,849.7 627.2,835.7 627.2,836.7 627.7,859.2 627.7,862.2 627.9,888.0 628.2,863.0 628.6,855.5 628.7,857.7 629.2,878.6 629.3,888.2 629.7,831.9 629.7,823.5 630.1,790.4 630.2,794.8 630.7,856.2 630.8,884.4 631.2,830.7 631.3,826.0 631.4,820.7 631.7,822.9 632.2,852.6 632.2,856.9 632.6,887.1 632.7,877.4 633.2,848.8 633.2,848.7 633.7,858.1 633.7,862.0 634.0,885.3 634.2,866.1 634.7,824.4 634.7,820.4 635.2,802.1 635.3,800.8 635.7,816.6 635.7,823.3 636.2,879.3 636.2,886.8 636.5,872.6 636.8,886.8 637.2,855.7 637.2,846.1 637.5,823.4 637.8,831.3 638.2,887.0 638.2,873.7 638.4,857.0 638.7,882.6 639.2,817.3 639.3,810.4 639.4,796.9 639.7,809.6 640.2,861.2 640.2,873.2 640.3,884.0 640.7,874.2 641.1,848.9 641.5,852.9 641.7,858.7 641.8,860.7 642.2,879.2 642.2,887.5 642.7,857.9 642.8,854.7 643.1,884.6 643.2,885.3 643.7,821.5 643.7,810.2 643.9,797.1 644.2,808.0 644.7,888.3 644.7,874.1 645.2,785.6 645.5,747.1 645.7,785.8 645.8,802.3 646.0,882.4 646.2,851.9 646.7,830.9 646.7,831.7 647.1,886.2 647.2,861.0 647.7,812.4 647.8,809.2 648.2,856.2 648.4,885.8 648.5,852.7 648.7,881.6 649.2,808.9 649.2,811.7 649.6,886.3 649.8,856.0 650.2,790.2 650.3,787.5 650.7,848.0 650.9,880.8 651.1,819.1 651.3,815.4 651.6,887.7 651.7,853.1 652.1,755.7 652.2,776.1 652.7,886.0 653.1,885.0 653.2,863.3 653.2,853.4 653.7,779.5 653.9,769.4 654.2,786.1 654.2,795.4 654.7,885.5 655.0,872.9 655.1,884.9 655.2,881.6 655.7,819.3 655.7,819.9 656.2,855.2 656.2,867.0 656.4,886.1 656.7,884.1 657.2,837.3 657.2,837.0 657.6,859.1 657.9,887.9 658.2,846.2 658.5,841.8 658.7,859.7 658.9,887.3 659.2,865.9 659.4,852.2 659.7,868.3 659.7,871.2 660.1,886.4 660.3,872.3 660.7,850.0 660.9,837.9 661.2,859.2 661.2,863.7 661.6,886.3 661.7,865.4 662.2,801.7 662.3,797.3 662.7,808.9 662.7,809.3 663.2,844.0 663.2,848.8 663.7,887.4 663.7,888.1 664.2,866.0 664.3,866.2 664.6,887.7 664.7,877.6 665.2,831.5 665.4,824.5 665.6,841.1 665.7,846.3 666.2,886.3 666.6,888.3 666.7,879.1 666.7,874.4 667.2,823.4 667.3,809.5 667.7,846.1 667.9,886.8 668.1,840.8 668.4,887.5 668.7,846.2 668.9,823.7 669.2,850.8 669.4,886.6 669.6,856.6 669.8,851.1 670.2,882.9 670.2,883.8 670.7,834.7 670.8,832.1 671.2,865.5 671.3,887.1 671.7,858.6 671.8,856.9 672.1,868.2 672.2,870.5" fill="none" stroke="#CC00FF" stroke-width="0.85" stroke-linejoin="round"/></g>
<g clip-path="url(#ccR)"><polyline points="382.2,881.5 382.5,873.7 382.7,875.4 383.1,887.3 383.2,877.4 383.6,865.2 383.7,866.9 384.1,886.9 384.4,874.1 384.7,887.9 384.8,885.4 385.2,862.5 385.2,861.4 385.7,879.0 385.7,884.8 386.1,852.0 386.4,884.9 386.7,851.3 386.9,836.4 387.2,871.2 387.3,887.0 387.7,875.9 387.8,865.1 388.2,882.3 388.3,888.0 388.7,834.9 388.9,827.4 389.2,844.7 389.2,851.0 389.6,887.8 389.9,872.7 390.1,887.8 390.4,855.1 390.6,885.0 390.7,879.5 391.2,851.3 391.5,849.8 391.7,851.7 391.7,855.5 392.2,882.8 392.6,887.4 392.7,827.5 392.9,887.8 393.2,873.6 393.2,870.3 393.7,834.2 393.9,831.6 394.1,843.1 394.2,850.7 394.4,885.5 394.7,846.1 395.1,820.7 395.2,830.1 395.7,850.4 395.7,855.8 396.2,880.1 396.2,881.6 396.4,884.1 396.9,888.0 397.2,876.7 397.2,872.6 397.6,857.4 397.7,858.8 398.1,887.5 398.2,876.3 398.7,846.2 398.8,844.8 399.2,868.6 399.4,884.8 399.7,840.6 399.9,827.4 400.2,847.8 400.2,854.8 400.5,885.4 400.9,863.0 401.2,874.6 401.3,888.1 401.7,864.2 401.7,861.3 402.2,853.4 402.4,852.2 402.7,859.9 402.7,862.3 403.1,887.1 403.3,873.0 403.7,848.7 403.7,847.3 404.2,884.8 404.2,885.8 404.6,844.5 404.8,836.2 405.2,860.4 405.4,885.5 405.7,841.7 405.9,830.7 406.2,849.3 406.4,884.4 406.7,830.9 406.7,826.4 407.2,886.9 407.3,875.8 407.5,845.4 407.8,886.8 408.2,829.9 408.2,827.7 408.6,887.7 408.7,880.0 409.1,838.1 409.2,845.5 409.5,882.8 409.8,865.1 410.0,856.4 410.2,862.3 410.6,886.5 410.7,857.6 410.9,847.8 411.2,859.5 411.4,886.1 411.9,857.1 412.2,884.8 412.2,882.4 412.6,849.5 412.8,846.9 413.2,864.7 413.3,885.9 413.6,864.8 413.9,886.9 414.2,851.2 414.3,847.0 414.7,886.7 414.7,883.3 415.0,865.2 415.2,885.3 415.7,864.3 415.8,861.9 416.2,874.1 416.4,886.6 416.7,875.8 416.8,873.2 417.2,879.9 417.3,888.1 417.7,873.6 417.9,870.5 418.2,883.3 418.3,888.3 418.7,868.0 418.7,867.9 419.1,876.9 419.3,887.2 419.5,872.3 419.8,887.1 420.2,871.7 420.4,869.2 420.7,872.2 420.7,873.7 421.1,886.0 421.4,868.3 421.7,875.7 421.8,878.0 421.9,887.5 422.2,881.8 422.5,882.7 422.7,882.8 423.0,885.7 423.2,882.4 423.7,876.0 423.7,876.1 424.1,888.3 424.2,881.7 424.7,871.8 424.7,871.8 425.2,881.9 425.3,887.7 425.6,871.9 425.9,887.3 426.2,873.2 426.3,870.6 426.7,885.6 426.7,888.1 427.1,877.4 427.2,877.2 427.6,887.2 427.7,880.9 428.2,865.4 428.3,866.1 428.7,879.7 428.8,887.8 429.0,870.5 429.2,886.3 429.6,861.0 429.9,853.4 430.2,873.7 430.3,888.1 430.7,855.1 430.7,851.2 430.9,844.7 431.2,854.9 431.6,887.9 431.7,874.2 432.2,838.0 432.3,835.1 432.7,848.4 432.7,849.2 433.2,885.0 433.2,875.5 433.6,839.0 433.7,836.0 434.2,828.2 434.2,828.5 434.7,856.1 434.9,887.6 435.2,859.0 435.2,853.9 435.7,823.0 435.7,823.4 436.2,854.1 436.3,863.2 436.4,888.2 436.7,861.1 437.2,831.4 437.2,831.6 437.6,863.1 437.8,888.1 438.2,841.2 438.2,836.2 438.5,812.9 438.8,818.9 439.2,837.1 439.2,842.7 439.7,880.4 439.7,863.2 440.1,792.6 440.2,791.7 440.7,875.0 440.7,878.9 441.0,808.2 441.4,881.5 441.6,845.0 441.8,835.6 442.2,856.2 442.4,885.4 442.7,840.9 442.9,822.1 443.2,844.5 443.4,886.5 443.7,842.1 443.9,832.4 444.1,858.3 444.4,884.3 444.7,834.5 444.7,833.4 445.1,885.1 445.4,855.1 445.6,880.9 445.7,858.0 446.2,799.3 446.3,792.7 446.7,832.2 446.8,844.8 447.0,884.1 447.4,864.9 447.7,886.9 447.7,879.3 448.1,816.0 448.4,796.0 448.7,809.1 448.7,816.9 449.1,886.4 449.2,874.6 449.4,865.6 449.8,874.4 450.2,849.8 450.2,840.9 450.6,808.6 450.8,813.4 451.2,870.2 451.2,882.7 451.6,830.3 451.7,841.8 452.1,883.3 452.2,882.2 452.5,813.0 452.8,883.8 453.1,853.5 453.4,882.8 453.7,853.7 453.7,846.5 454.1,819.3 454.2,822.8 454.6,872.3 454.8,885.6 455.2,827.0 455.2,826.0 455.7,855.3 455.7,861.9 456.0,886.7 456.2,873.3 456.7,848.9 456.9,841.9 457.2,847.2 457.3,849.5 457.6,887.3 457.7,871.7 458.2,834.6 458.2,834.8 458.6,870.9 458.8,885.5 459.2,839.8 459.3,835.7 459.6,887.8 459.7,865.4 460.2,828.5 460.2,827.9 460.7,861.9 460.8,886.4 461.2,838.0 461.3,838.1 461.7,863.7 461.9,887.1 462.2,867.4 462.2,862.9 462.6,840.5 462.9,833.3 463.2,844.7 463.2,851.0 463.5,886.1 463.7,850.1 464.0,832.1 464.2,838.1 464.7,883.1 464.7,884.5 465.1,849.8 465.3,858.5 465.5,887.9 465.7,861.1 466.1,832.8 466.2,835.1 466.6,852.6 466.9,856.4 467.2,846.5 467.4,839.0 467.7,853.1 467.8,860.0 467.9,886.1 468.2,860.9 468.5,841.9 468.7,853.3 469.1,884.9 469.2,876.9 469.5,849.5 469.9,887.6 470.2,841.3 470.3,830.0 470.6,872.5 470.8,884.3 471.1,843.0 471.4,885.5 471.7,846.0 471.8,841.4 472.0,829.6 472.2,841.4 472.6,884.2 472.7,862.6 473.0,839.8 473.2,844.6 473.7,885.9 473.7,873.9 474.0,836.8 474.4,883.5 474.7,851.9 474.7,843.1 474.9,831.7 475.2,846.9 475.5,855.5 476.0,836.1 476.2,852.7 476.3,886.5 476.7,846.0 476.9,833.1 477.1,854.9 477.4,885.7 477.7,861.4 477.8,855.6 478.2,882.1 478.2,883.7 478.7,856.1 478.9,852.7 479.2,869.6 479.3,887.3 479.7,854.5 479.8,855.8 480.1,886.0 480.2,873.6 480.5,858.5 480.7,861.9 481.1,878.1 481.4,849.0 481.7,886.5 481.7,885.5 482.1,857.2 482.2,864.0 482.4,885.8 482.7,862.4 483.1,846.4 483.2,849.3 483.6,871.2 483.9,886.6 484.1,871.6 484.2,873.3 484.6,887.3 484.7,876.7 485.0,848.1 485.4,888.0 485.7,850.6 485.7,851.4 486.0,885.3 486.3,865.2 486.7,843.7 486.7,843.3 487.1,884.5 487.2,873.5 487.6,855.5 487.9,851.9 488.2,864.1 488.2,866.4 488.6,887.4 488.7,867.5 489.1,854.8 489.2,856.6 489.7,884.4 489.7,885.5 490.2,852.9 490.4,848.4 490.7,857.5 490.7,861.7 491.1,887.5 491.4,867.0 491.6,885.0 491.9,872.0 492.1,885.3 492.2,878.3 492.7,860.5 492.8,859.7 493.2,870.5 493.2,873.9 493.4,887.1 494.0,868.1 494.2,875.5 494.4,886.7 494.7,845.8 494.8,835.5 495.2,857.3 495.4,886.6 495.6,858.4 495.7,860.5 495.9,886.9 496.5,843.9 496.7,859.7 496.9,884.3 497.2,853.8 497.4,834.8 497.7,853.5 497.9,883.8 498.1,847.8 498.4,836.3 498.7,867.1 498.8,887.2 499.2,835.7 499.2,835.2 499.6,886.3 499.7,872.4 500.1,843.5 500.2,846.2 500.7,870.7 500.9,887.1 501.2,848.8 501.5,847.2 501.7,841.9 501.8,839.3 502.1,850.0 502.2,852.5 502.7,885.9 502.7,879.2 503.0,854.4 503.2,861.0 503.5,887.4 503.7,866.2 504.1,838.0 504.2,844.1 504.5,885.4 504.9,813.1 505.2,849.1 505.3,882.4 505.7,819.6 505.9,809.2 506.1,839.6 506.4,887.3 506.7,826.9 506.9,815.3 507.2,835.3 507.2,843.3 507.7,885.5 507.9,864.1 508.2,881.0 508.5,882.9 508.7,874.0 508.8,866.1 509.2,835.6 509.2,836.7 509.6,888.0 509.7,872.2 510.1,848.4 510.2,848.8 510.7,877.9 511.0,837.6 511.2,883.1 511.2,881.4 511.7,866.8 511.8,865.1 512.2,887.4 512.2,884.1 512.6,851.1 512.7,851.0 513.2,862.5 513.5,886.2 513.7,861.2 513.9,856.0 514.1,860.0 514.2,862.9 514.7,885.8 514.7,887.7 515.0,876.8 515.3,881.1 515.7,878.5 515.7,877.9 516.2,867.4 516.2,866.3 516.5,862.4 516.7,866.8 517.0,887.4 517.2,877.9 517.7,858.4 517.9,857.6 518.2,862.3 518.2,863.7 518.7,878.7 518.8,887.2 519.2,869.1 519.3,866.3 519.7,851.7 519.7,851.9 520.2,871.7 520.4,886.5 520.6,868.8 520.7,864.6 520.9,856.4 521.2,861.0 521.6,886.1 521.7,878.0 522.2,864.1 522.3,862.0 522.7,873.3 523.0,887.7 523.2,872.3 523.3,869.8 523.4,866.1 523.7,870.0 524.2,882.6 524.2,884.7 524.4,888.2 524.7,884.5 525.2,874.3 525.2,872.0 525.6,859.7 525.8,861.0 526.2,881.6 526.2,886.0 526.7,862.7 526.7,862.9 527.1,885.2 527.2,888.0 527.6,857.5 527.9,888.0 528.2,855.8 528.4,843.0 528.7,857.9 528.7,865.9 528.9,888.1 529.3,860.9 529.7,872.3 529.8,885.5 530.2,867.6 530.2,864.5 530.5,851.7 530.7,858.4 531.1,885.3 531.2,883.2 531.7,858.0 531.7,858.8 532.1,887.0 532.2,871.8 532.7,853.4 532.7,853.1 533.2,876.9 533.3,888.3 533.7,840.2 533.9,834.0 534.2,855.6 534.5,888.0 534.7,853.1 534.9,847.2 535.1,851.2 535.2,853.9 535.6,885.5 535.9,853.9 536.2,870.7 536.3,886.5 536.7,841.9 536.7,843.3 537.0,885.3 537.2,854.6 537.6,808.1 537.8,814.3 538.2,880.6 538.2,883.5 538.7,810.2 538.8,803.8 539.1,824.1 539.2,827.7 539.7,847.2 539.7,848.9 540.2,872.0 540.5,887.1 540.7,875.5 540.7,870.8 541.0,860.9 541.2,867.1 541.6,887.9 541.7,876.8 542.0,852.1 542.2,861.9 542.5,887.0 542.9,848.9 543.2,875.2 543.2,877.7 543.4,887.6 544.0,885.4 544.2,866.6 544.3,864.9 544.7,852.9 544.8,849.7 545.2,860.4 545.2,862.6 545.6,881.0 545.8,881.8 546.2,879.0 546.2,877.0 546.7,838.6 546.7,840.1 547.2,887.3 547.2,882.7 547.5,872.6 547.8,888.1 548.2,864.6 548.3,861.4 548.4,858.2 548.7,862.6 549.2,888.2 549.2,887.4 549.6,878.3 549.7,878.8 550.2,883.9 550.3,887.6 550.7,878.4 550.7,878.2 551.1,874.4 551.6,875.5 551.7,876.8 551.7,877.9 552.2,887.8 552.3,886.3 552.7,876.4 552.8,874.4 553.2,877.4 553.4,886.0 553.6,868.4 553.7,867.6 554.0,886.6 554.2,868.4 554.6,853.4 554.8,856.5 555.2,886.4 555.3,887.9 555.7,879.0 555.9,887.6 556.1,873.6 556.2,868.6 556.7,834.3 556.8,831.6 557.2,853.4 557.2,857.2 557.7,877.7 557.8,882.3 558.2,878.4 558.2,878.2 558.6,887.6 558.8,883.1 559.2,871.7 559.2,872.1 559.6,886.8 559.7,883.3 560.1,870.6 560.2,870.8 560.7,887.7 560.7,885.3 561.2,862.0 561.2,860.1 561.5,855.2 561.7,859.8 562.2,867.1 562.5,883.1 562.7,859.6 562.8,850.5 563.2,813.2 563.2,813.5 563.7,881.3 563.7,875.3 564.1,841.9 564.3,838.5 564.7,866.3 564.8,887.6 565.2,853.4 565.2,853.1 565.7,878.9 565.8,884.3 565.9,847.4 566.2,877.7 566.7,861.6 566.8,861.9 567.2,880.0 567.3,888.1 567.7,834.3 567.7,831.1 568.1,863.0 568.4,888.1 568.7,857.8 568.9,887.4 569.2,860.7 569.2,860.0 569.5,887.1 569.7,861.9 570.1,824.5 570.2,832.8 570.6,888.1 570.7,875.6 571.0,849.8 571.5,887.2 571.7,845.5 571.7,837.7 572.0,826.6 572.2,833.1 572.7,874.6 572.8,888.1 573.0,875.7 573.3,885.1 573.7,839.4 573.7,830.2 573.9,811.9 574.2,838.3 574.4,882.5 574.8,832.9 575.0,884.3 575.2,862.9 575.6,844.6 575.7,846.4 576.2,881.8 576.2,884.1 576.6,825.2 576.7,834.1 577.2,868.1 577.3,884.2 577.7,839.7 577.7,840.9 578.0,887.7 578.2,848.0 578.6,832.9 578.7,832.9 579.2,840.4 579.2,843.7 579.6,884.7 579.7,858.8 580.2,814.3 580.3,810.0 580.7,885.9 580.7,872.0 581.2,831.0 581.4,825.7 581.7,835.6 581.7,839.5 582.1,885.3 582.2,839.5 582.5,814.9 582.7,822.4 583.0,883.6 583.2,850.1 583.6,804.6 583.8,806.6 584.2,847.5 584.4,886.2 584.7,831.8 584.7,823.3 584.9,811.0 585.2,821.2 585.7,866.5 585.7,872.7 585.9,886.5 586.2,871.1 586.7,847.1 586.7,844.5 587.2,837.4 587.2,837.0 587.6,887.6 587.8,874.7 588.2,840.1 588.4,831.4 588.7,846.0 588.7,849.2 589.1,878.0 589.3,826.0 589.4,879.0 589.7,839.8 590.1,812.6 590.2,819.4 590.7,885.3 590.7,882.5 591.2,854.0 591.2,853.8 591.7,871.4 591.8,873.3 592.2,885.8 592.2,887.3 592.7,881.1 592.7,875.8 593.1,854.3 593.2,850.6 593.5,826.9 593.7,852.0 594.0,885.3 594.2,846.7 594.7,828.0 594.7,827.0 595.2,856.4 595.4,883.1 595.7,855.5 595.9,851.5 596.2,861.4 596.5,887.5 596.7,863.2 596.7,848.4 597.1,815.0 597.4,809.7 597.6,816.7 597.9,807.2 598.2,840.8 598.2,848.9 598.5,886.4 598.7,867.9 599.2,857.9 599.2,858.2 599.6,886.0 599.7,875.9 600.2,830.4 600.3,825.1 600.7,848.3 600.7,851.7 601.0,883.5 601.2,864.8 601.5,850.8 602.0,887.4 602.2,861.4 602.3,849.0 602.5,818.2 602.7,826.5 603.1,887.5 603.4,825.3 603.6,852.1 603.9,887.8 604.2,860.1 604.2,859.5 604.6,885.4 604.7,868.7 605.2,837.8 605.3,832.6 605.7,852.0 605.8,886.0 606.2,820.3 606.3,820.1 606.7,888.0 606.7,873.5 607.2,814.6 607.3,812.2 607.6,831.1 607.7,837.7 608.1,884.0 608.5,884.2 608.7,828.9 608.8,814.4 609.0,887.6 609.2,866.3 609.7,819.4 609.9,811.4 610.2,836.3 610.3,841.1 610.7,869.0 610.9,887.3 611.2,870.2 611.2,864.5 611.5,846.0 611.9,850.9 612.2,887.4 612.2,878.6 612.7,847.6 612.9,837.5 613.2,853.0 613.6,882.2 613.7,848.3 613.7,834.4 614.0,809.9 614.2,843.0 614.4,887.8 614.8,863.2 615.1,885.7 615.2,879.5 615.7,856.9 615.7,857.4 616.2,879.8 616.2,883.9 616.6,861.3 616.8,864.9 617.1,887.4 617.2,872.6 617.5,850.9 617.8,884.1 618.1,867.1 618.3,862.9 618.7,879.3 619.0,866.0 619.1,886.7 619.2,872.9 619.7,851.3 619.8,849.2 620.2,880.7 620.2,886.6 620.7,865.9 620.9,863.2 621.2,873.2 621.2,876.3 621.5,888.0 621.9,881.4 622.1,878.7 622.4,887.9 622.7,869.5 622.7,866.3 623.1,857.8 623.2,859.6 623.7,885.0 623.7,885.4 624.2,856.1 624.2,857.2 624.6,886.5 624.8,875.7 625.0,856.2 625.2,860.1 625.7,885.9 625.7,879.6 626.1,861.7 626.4,884.6 626.7,859.9 626.7,854.9 627.2,828.4 627.3,825.9 627.7,837.1 627.7,840.0 628.1,884.9 628.2,867.0 628.6,821.1 628.8,815.9 629.2,848.5 629.2,856.8 629.5,883.8 629.7,860.6 630.1,846.2 630.2,848.8 630.7,886.2 630.7,881.5 631.2,823.0 631.4,820.0 631.7,828.2 631.7,831.3 632.2,870.9 632.3,887.8 632.6,854.9 632.7,851.0 632.8,848.1 633.2,848.5 633.7,828.9 633.7,829.4 634.2,872.2 634.2,882.8 634.7,853.8 634.7,851.3 635.1,841.2 635.3,842.3 635.7,858.4 635.7,862.4 636.0,887.5 636.2,874.1 636.5,858.4 636.7,873.0 637.1,886.9 637.2,875.1 637.7,843.5 637.7,844.3 638.2,867.0 638.3,885.3 638.4,862.0 638.7,861.5 639.2,844.9 639.3,842.1 639.5,836.8 639.7,843.4 640.2,880.7 640.3,886.1 640.6,866.1 640.9,853.3 641.2,866.0 641.2,869.4 641.6,887.6 641.8,861.5 642.2,819.2 642.2,820.6 642.7,873.7 642.8,886.4 643.1,817.3 643.2,818.4 643.5,878.0 643.8,815.1 644.1,875.0 644.2,855.3 644.7,837.0 644.7,837.6 645.2,878.3 645.2,885.5 645.6,870.1 646.0,887.3 646.2,867.4 646.2,861.0 646.6,835.0 646.7,842.8 647.0,883.7 647.2,865.2 647.7,830.4 647.7,831.0 648.2,877.4 648.2,883.5 648.5,845.3 648.8,884.5 649.2,838.9 649.2,836.5 649.7,888.0 649.8,879.3 650.1,840.2 650.2,844.5 650.7,879.3 650.7,888.2 651.1,849.2 651.2,857.8 651.5,886.6 651.7,850.8 651.9,835.6 652.4,884.7 652.7,842.4 652.8,836.3 653.2,879.8 653.2,859.7 653.7,820.5 653.8,817.6 654.2,841.4 654.4,878.5 654.7,818.9 654.7,815.6 655.1,871.5 655.2,883.9 655.6,817.2 655.7,824.5 656.1,884.4 656.4,839.5 656.7,853.2 656.7,857.6 656.9,885.3 657.3,859.1 657.6,887.4 657.7,878.1 658.2,852.1 658.3,850.5 658.7,865.4 658.9,886.3 659.2,836.1 659.4,817.1 659.7,838.1 659.7,844.3 660.0,887.4 660.3,850.2 660.7,818.4 660.7,819.7 661.2,839.2 661.2,845.7 661.6,884.1 661.7,885.1 662.2,867.1 662.2,865.4 662.5,860.2 662.7,861.0 663.2,881.3 663.3,887.0 663.7,857.0 663.9,855.9 664.1,852.2 664.3,855.6 664.7,888.2 664.7,882.5 665.2,853.6 665.2,853.2 665.6,880.4 665.7,887.0 666.2,860.1 666.3,858.7 666.7,883.1 666.7,887.8 667.2,863.6 667.2,863.3 667.7,886.0 667.7,884.4 668.1,855.6 668.3,860.5 668.5,887.2 669.0,856.5 669.2,877.8 669.2,887.1 669.6,863.8 669.8,861.3 670.2,876.6 670.3,886.6 670.7,859.4 670.9,857.1 671.2,877.8 671.2,885.2 671.7,855.7 671.8,853.7 672.1,865.9 672.2,868.2" fill="none" stroke="#4DFCFF" stroke-width="0.7" stroke-linejoin="round"/></g>
<path d="M382.2 665.4H672.2V888.3H382.2ZM382.2 888.3v-2.8M382.2 665.4v2.8M440.2 888.3v-2.8M440.2 665.4v2.8M498.2 888.3v-2.8M498.2 665.4v2.8M556.2 888.3v-2.8M556.2 665.4v2.8M614.2 888.3v-2.8M614.2 665.4v2.8M672.2 888.3v-2.8M672.2 665.4v2.8M382.2 888.3h2.8M672.2 888.3h-2.8M382.2 847.8h2.8M672.2 847.8h-2.8M382.2 807.2h2.8M672.2 807.2h-2.8M382.2 766.7h2.8M672.2 766.7h-2.8M382.2 726.2h2.8M672.2 726.2h-2.8M382.2 685.7h2.8M672.2 685.7h-2.8" stroke="#4a4a4a" stroke-width="1.15" fill="none"/>
<text x="382.2" y="909.1" font-size="16" text-anchor="middle" fill="#000">0</text>
<text x="440.2" y="909.1" font-size="16" text-anchor="middle" fill="#000">5</text>
<text x="498.2" y="909.1" font-size="16" text-anchor="middle" fill="#000">10</text>
<text x="556.2" y="909.1" font-size="16" text-anchor="middle" fill="#000">15</text>
<text x="614.2" y="909.1" font-size="16" text-anchor="middle" fill="#000">20</text>
<text x="672.2" y="909.1" font-size="16" text-anchor="middle" fill="#000">25</text>
<text x="377.6" y="895.1" font-size="16" text-anchor="end" fill="#000">0</text>
<text x="377.6" y="854.6" font-size="16" text-anchor="end" fill="#000">1</text>
<text x="377.6" y="814.0" font-size="16" text-anchor="end" fill="#000">2</text>
<text x="377.6" y="773.5" font-size="16" text-anchor="end" fill="#000">3</text>
<text x="377.6" y="733.0" font-size="16" text-anchor="end" fill="#000">4</text>
<text x="377.6" y="692.5" font-size="16" text-anchor="end" fill="#000">5</text>
<rect x="545.7" y="665.3" width="126.6" height="46.1" fill="#fff" stroke="#4a4a4a" stroke-width="1"/>
<path d="M548 676.9H567.5" stroke="#CC00FF" stroke-width="1"/>
<text class="s" x="569.2" y="679.5" font-size="13" fill="#000">Pce-H<tspan font-size="9.5" dy="5.5">2</tspan><tspan dy="-5.5"> control</tspan></text>
<path d="M548 699.6H567.5" stroke="#4DFCFF" stroke-width="1"/>
<text class="s" x="569.2" y="702.2" font-size="13" fill="#000">General H<tspan font-size="9.5" dy="5.5">2</tspan><tspan dy="-5.5"> control</tspan></text>
<text class="s" transform="translate(363.4 775.8) rotate(-90)" x="0" y="0" font-size="19.5" text-anchor="middle" textLength="149.1" lengthAdjust="spacingAndGlyphs" fill="#000">Control current(A)</text>
<text class="s" x="491.6" y="936.9" font-size="24" fill="#000">Time(s)</text>
<g clip-path="url(#cdL)"><polyline points="55.8,1114.1 56.0,1110.6 56.1,1108.9 56.5,1094.4 56.6,1093.2 57.0,1102.3 57.0,1104.4 57.5,1114.7 57.5,1114.3 58.0,1096.7 58.1,1094.1 58.5,1109.6 58.5,1111.2 58.8,1114.4 59.0,1111.6 59.5,1098.4 59.5,1096.6 59.8,1093.0 60.0,1095.4 60.5,1116.0 60.6,1120.4 61.0,1110.7 61.0,1107.8 61.3,1083.9 61.5,1102.3 62.0,1117.4 62.0,1117.6 62.5,1098.6 62.5,1095.7 63.0,1085.8 63.1,1083.6 63.4,1099.2 63.5,1102.4 63.9,1126.9 64.0,1126.1 64.5,1102.0 64.6,1096.6 65.0,1066.1 65.0,1067.0 65.5,1090.2 65.5,1094.6 65.9,1142.6 66.0,1103.0 66.5,1068.2 66.5,1068.9 67.0,1117.9 67.0,1122.0 67.5,1157.3 67.5,1157.8 68.0,1136.6 68.0,1130.1 68.5,1079.6 68.5,1074.7 69.0,1062.0 69.0,1062.7 69.5,1088.9 69.5,1092.4 70.0,1122.2 70.0,1125.8 70.5,1132.3 70.6,1135.9 70.8,1133.5 71.1,1136.3 71.5,1125.9 71.5,1122.2 71.9,1098.7 72.0,1096.4 72.4,1086.4 72.5,1086.5 73.0,1099.5 73.1,1102.7 73.5,1132.0 73.7,1134.9 74.0,1124.7 74.0,1122.0 74.5,1090.8 74.5,1089.9 74.9,1080.9 75.0,1090.0 75.5,1117.5 75.5,1121.9 75.9,1131.6 76.0,1130.2 76.5,1105.7 76.5,1100.7 76.9,1085.0 77.0,1086.1 77.5,1109.0 77.5,1115.4 77.9,1136.4 78.0,1128.6 78.5,1060.6 78.6,1048.4 79.0,1105.5 79.0,1108.8 79.5,1122.2 79.5,1121.4 80.0,1077.4 80.0,1067.6 80.2,1047.7 80.5,1063.7 80.9,1124.8 81.2,1142.5 81.5,1116.0 81.6,1108.1 82.0,1062.0 82.3,1056.5 82.5,1064.1 82.5,1068.7 83.0,1115.6 83.0,1126.7 83.4,1158.0 83.5,1153.7 84.0,1107.8 84.0,1099.8 84.5,1067.5 84.6,1064.5 85.0,1083.3 85.0,1087.4 85.5,1124.4 85.7,1132.2 86.0,1123.5 86.0,1121.3 86.5,1088.4 86.5,1085.1 86.7,1081.1 87.0,1083.6 87.5,1106.2 87.5,1108.1 87.9,1117.6 88.1,1116.4 88.5,1123.6 88.6,1123.6 89.0,1130.2 89.0,1129.6 89.4,1119.6 89.5,1117.5 89.9,1094.9 90.0,1092.5 90.2,1087.6 90.6,1089.0 91.0,1098.7 91.0,1099.7 91.5,1105.8 91.5,1107.0 92.0,1116.2 92.0,1116.3 92.4,1119.2 92.5,1115.7 93.0,1096.7 93.0,1094.1 93.5,1085.9 93.5,1085.5 94.0,1092.6 94.0,1092.8 94.4,1097.5 94.5,1096.3 94.7,1094.1 95.0,1094.7 95.5,1102.7 95.5,1104.6 96.0,1115.3 96.0,1116.1 96.1,1116.9 96.6,1117.5 96.9,1112.5 97.1,1113.0 97.5,1087.4 97.5,1082.8 97.9,1058.9 98.0,1061.7 98.4,1117.0 98.5,1123.9 98.8,1141.3 99.1,1130.5 99.5,1078.7 99.7,1062.5 100.0,1078.4 100.0,1083.9 100.5,1110.2 100.6,1111.1 101.0,1107.1 101.0,1106.6 101.5,1083.9 101.6,1080.4 102.0,1085.9 102.0,1088.2 102.3,1095.5 102.5,1089.8 103.0,1066.7 103.1,1065.7 103.5,1101.2 103.5,1109.8 104.0,1161.7 104.0,1160.7 104.5,1086.7 104.5,1079.3 104.8,1061.8 105.0,1068.9 105.5,1152.0 105.7,1170.7 106.0,1132.0 106.0,1117.4 106.4,1052.0 106.6,1050.7 106.9,1079.5 107.0,1087.6 107.3,1130.0 107.6,1088.7 108.0,1038.0 108.1,1035.0 108.5,1094.1 108.5,1100.9 108.9,1137.9 109.0,1130.8 109.5,1035.2 109.7,1011.2 110.0,1104.9 110.0,1115.5 110.5,1187.1 110.5,1185.8 111.0,1103.3 111.0,1087.7 111.5,1013.3 111.5,1012.8 112.0,1079.9 112.0,1093.9 112.5,1141.2 112.5,1141.6 113.0,1128.7 113.0,1126.6 113.2,1118.1 113.5,1125.6 113.8,1137.5 114.0,1129.5 114.5,1088.1 114.5,1083.8 114.8,1067.2 115.0,1071.2 115.4,1091.2 115.5,1097.9 115.9,1156.8 116.1,1146.9 116.5,1102.4 116.7,1098.2 117.0,1122.3 117.0,1124.2 117.5,1095.9 117.5,1087.0 117.9,1035.5 118.0,1048.2 118.5,1147.2 118.7,1169.6 119.0,1154.1 119.0,1146.8 119.5,1080.4 119.8,1058.3 120.0,1075.4 120.0,1082.8 120.5,1150.6 120.5,1155.4 120.9,1163.8 121.0,1161.1 121.5,1126.6 121.5,1106.4 122.0,1026.7 122.0,1026.3 122.5,1105.1 122.5,1116.4 123.0,1150.7 123.0,1151.1 123.5,1136.9 123.5,1132.4 123.9,1117.1 124.0,1113.4 124.2,1100.4 124.5,1100.4 125.0,1061.6 125.1,1057.4 125.3,1044.5 125.5,1050.7 126.0,1089.5 126.0,1098.1 126.3,1120.0 126.5,1116.5 127.0,1090.8 127.0,1089.7 127.5,1100.4 127.5,1104.5 127.8,1113.8 128.0,1102.9 128.5,1055.9 128.8,1037.3 129.0,1055.0 129.0,1063.7 129.5,1125.8 129.6,1136.2 130.0,1123.1 130.0,1118.9 130.5,1073.7 130.6,1069.3 131.0,1093.9 131.0,1098.9 131.5,1155.9 131.7,1163.0 132.0,1137.7 132.0,1127.6 132.4,1074.5 132.6,1070.0 132.9,1077.8 133.0,1080.8 133.5,1165.3 133.6,1169.5 134.0,1102.4 134.0,1090.1 134.4,1062.4 134.5,1064.1 135.0,1100.0 135.0,1115.1 135.5,1168.6 135.5,1167.0 136.0,1100.8 136.0,1092.5 136.5,1043.1 136.5,1044.1 137.0,1098.3 137.3,1148.1 137.5,1088.3 137.5,1072.7 137.7,1036.3 138.0,1088.8 138.3,1141.4 138.5,1117.8 139.0,1040.1 139.1,1024.3 139.5,1093.1 139.5,1114.6 140.0,1140.8 140.0,1141.5 140.5,1127.8 140.5,1122.4 140.9,1066.2 141.1,1059.5 141.4,1081.0 141.5,1085.6 141.8,1137.7 142.1,1089.2 142.5,1052.0 142.6,1051.7 143.0,1096.8 143.0,1110.4 143.4,1155.8 143.5,1147.6 144.0,1080.5 144.2,1073.9 144.5,1087.7 144.5,1094.0 145.0,1148.2 145.1,1150.9 145.5,1110.8 145.5,1101.8 146.0,1058.8 146.0,1057.5 146.5,1083.3 146.5,1091.2 147.0,1127.2 147.2,1132.3 147.5,1128.6 147.5,1126.9 148.0,1119.4 148.0,1117.6 148.5,1103.5 148.5,1098.7 149.0,1079.6 149.0,1079.8 149.5,1116.2 149.5,1119.8 149.8,1137.9 150.0,1132.4 150.5,1104.9 150.6,1102.4 150.8,1096.4 151.1,1103.4 151.5,1122.4 151.7,1125.2 152.0,1116.5 152.0,1114.1 152.5,1076.6 152.5,1075.2 153.0,1110.6 153.0,1116.3 153.4,1136.0 153.5,1131.3 154.0,1090.7 154.1,1080.7 154.5,1110.3 154.5,1116.6 154.7,1132.2 155.0,1108.3 155.5,1076.3 155.7,1072.2 156.0,1084.2 156.0,1089.0 156.5,1121.0 156.5,1125.1 156.8,1134.4 157.0,1129.4 157.5,1108.9 157.5,1105.4 158.0,1092.2 158.0,1090.9 158.2,1087.2 158.5,1090.8 158.9,1103.7 159.0,1106.7 159.5,1122.5 159.6,1122.5 160.0,1113.6 160.0,1111.3 160.5,1079.5 160.6,1077.8 161.0,1093.8 161.0,1097.9 161.5,1121.1 161.5,1121.6 162.0,1107.9 162.0,1106.1 162.4,1096.7 162.6,1098.8 162.9,1092.6 163.0,1095.5 163.5,1111.9 163.5,1117.2 164.0,1143.5 164.0,1143.0 164.5,1097.7 164.5,1092.6 164.9,1068.9 165.0,1078.1 165.5,1139.9 165.5,1145.8 165.7,1157.1 166.0,1145.0 166.5,1089.8 166.5,1085.7 166.8,1073.0 167.0,1081.5 167.4,1129.7 167.5,1138.0 167.8,1159.2 168.1,1151.9 168.5,1119.9 168.5,1115.6 169.0,1084.5 169.0,1081.2 169.5,1054.3 169.6,1053.8 170.0,1093.9 170.0,1098.9 170.5,1117.6 170.5,1116.5 171.0,1096.6 171.0,1093.8 171.5,1021.0 171.5,1022.0 172.0,1081.4 172.0,1098.6 172.3,1173.3 172.5,1140.8 173.0,1055.1 173.1,1044.5 173.5,1064.8 173.5,1070.6 174.0,1113.1 174.1,1117.4 174.5,1099.1 174.5,1097.5 174.8,1092.5 175.0,1096.5 175.4,1113.6 175.6,1116.6 175.9,1095.2 176.0,1093.9 176.4,1072.4 176.6,1078.9 177.0,1102.3 177.1,1110.0 177.5,1133.7 177.5,1135.7 177.9,1140.7 178.0,1139.4 178.5,1129.6 178.5,1127.4 179.0,1090.1 179.0,1088.2 179.3,1083.1 179.5,1088.9 180.0,1121.6 180.0,1125.5 180.3,1132.4 180.5,1127.2 181.0,1071.9 181.1,1059.7 181.5,1114.6 181.6,1121.6 182.0,1103.3 182.0,1095.6 182.5,1061.6 182.6,1059.9 183.0,1088.8 183.0,1094.1 183.5,1111.0 183.5,1111.7 184.0,1094.6 184.0,1089.9 184.4,1062.6 184.7,1060.3 185.0,1082.1 185.1,1086.2 185.5,1115.9 185.6,1115.5 186.0,1103.3 186.2,1101.1 186.5,1111.8 186.5,1114.0 186.9,1125.2 187.0,1123.8 187.5,1098.6 187.5,1095.8 187.9,1083.2 188.0,1084.7 188.5,1089.8 188.5,1092.9 189.0,1123.4 189.0,1126.9 189.4,1140.1 189.5,1135.9 190.0,1090.6 190.0,1086.1 190.5,1062.9 190.5,1063.7 191.0,1089.2 191.0,1095.3 191.5,1128.6 191.5,1129.3 192.0,1096.5 192.0,1090.5 192.5,1062.3 192.5,1062.8 192.9,1091.8 193.0,1095.5 193.3,1136.5 193.5,1107.3 194.0,1085.1 194.1,1084.2 194.5,1123.5 194.5,1129.1 195.0,1155.9 195.0,1155.3 195.5,1130.6 195.5,1127.7 196.0,1080.1 196.2,1070.3 196.5,1095.6 196.5,1101.8 197.0,1143.3 197.0,1148.9 197.5,1170.0 197.5,1169.3 198.0,1128.8 198.0,1118.8 198.5,1082.6 198.7,1075.1 199.0,1080.5 199.0,1082.9 199.5,1108.2 199.5,1111.1 199.9,1123.7 200.0,1123.1 200.5,1117.3 200.5,1115.6 201.0,1096.7 201.0,1094.2 201.4,1063.8 201.5,1061.6 201.9,1046.5 202.0,1048.8 202.5,1089.2 202.6,1095.5 203.0,1136.0 203.0,1137.6 203.4,1153.6 203.5,1147.9 204.0,1118.6 204.0,1114.4 204.5,1079.4 204.7,1071.3 204.9,1081.4 205.0,1075.1 205.5,1039.0 205.7,1018.4 206.0,1041.9 206.0,1049.3 206.5,1141.0 206.5,1150.5 206.8,1176.3 207.0,1154.0 207.5,1062.1 207.5,1054.3 207.7,1044.9 208.0,1057.3 208.5,1119.3 208.5,1124.9 208.8,1142.3 209.0,1127.0 209.5,1078.6 209.5,1073.1 209.8,1057.9 210.0,1066.6 210.4,1097.9 210.5,1099.2 211.0,1107.9 211.1,1109.6 211.5,1123.2 211.6,1124.4 212.0,1131.5 212.0,1130.7 212.5,1109.6 212.5,1106.7 213.0,1097.2 213.0,1095.8 213.5,1091.2 213.8,1092.4 214.0,1090.2 214.3,1085.3 214.5,1090.4 214.5,1094.3 215.0,1109.3 215.1,1111.9 215.5,1100.2 215.5,1097.3 216.0,1085.6 216.2,1083.1 216.5,1086.1 216.5,1087.5 217.0,1105.6 217.0,1110.1 217.5,1125.7 217.5,1125.8 218.0,1102.9 218.0,1100.6 218.5,1076.2 218.5,1076.6 218.9,1088.4 219.0,1094.6 219.5,1132.4 219.7,1139.2 220.0,1130.7 220.1,1127.8 220.5,1045.7 220.7,1038.7 221.0,1117.8 221.0,1128.1 221.5,1161.3 221.6,1164.8 222.0,1130.5 222.0,1120.9 222.5,1089.1 222.6,1085.5 223.0,1089.1 223.0,1090.6 223.5,1105.7 223.5,1106.4 223.9,1117.9 224.0,1114.7 224.5,1109.0 224.5,1108.2 225.0,1098.4 225.0,1096.0 225.5,1077.6 225.7,1075.3 226.0,1082.1 226.0,1084.6 226.5,1099.9 226.5,1100.4 226.8,1095.2 227.0,1099.9 227.4,1119.5 227.5,1121.3 227.9,1135.5 228.1,1136.5 228.5,1119.1 228.6,1114.4 229.0,1079.0 229.3,1071.9 229.5,1081.9 229.5,1085.7 230.0,1109.5 230.0,1114.7 230.5,1130.2 230.5,1130.2 231.0,1115.3 231.0,1114.4 231.5,1091.5 231.5,1088.8 232.0,1077.5 232.0,1077.3 232.5,1097.8 232.5,1101.7 233.0,1125.1 233.0,1124.2 233.5,1107.8 233.5,1104.9 233.8,1091.1 234.0,1094.3 234.5,1111.0 234.5,1113.0 235.0,1126.6 235.1,1127.3 235.5,1117.5 235.5,1115.5 235.9,1094.2 236.1,1092.3 236.3,1094.9 236.5,1094.1 237.0,1104.9 237.2,1107.5 237.4,1103.9 237.5,1105.4 238.0,1118.2 238.0,1120.5 238.3,1128.2 238.5,1125.5 239.0,1109.3 239.0,1106.3 239.5,1074.3 239.6,1070.2 239.9,1072.6 240.0,1071.0 240.5,1087.9 240.5,1089.2 241.0,1105.9 241.0,1106.9 241.4,1114.0 241.5,1113.5 242.0,1121.7 242.0,1122.7 242.5,1133.8 242.5,1135.5 242.9,1145.0 243.0,1144.0 243.5,1125.3 243.5,1121.2 244.0,1097.6 244.2,1092.8 244.4,1106.5 244.5,1108.8 244.9,1150.1 245.0,1157.3 245.3,1171.1 245.6,1154.8 246.0,1113.7 246.1,1070.4 246.5,1124.9 246.5,1131.1 247.0,1171.0 247.2,1177.4 247.5,1142.5 247.5,1132.3 248.0,1085.7 248.0,1084.0 248.3,1075.6 248.5,1079.8 249.0,1095.7 249.0,1104.3 249.4,1145.2 249.5,1142.6 250.0,1111.2 250.0,1105.7 250.4,1069.3 250.5,1095.5 251.0,1142.9 251.1,1146.6 251.5,1105.3 251.5,1092.2 252.0,1075.0 252.2,1071.6 252.5,1078.2 252.5,1080.1 253.0,1103.6 253.0,1116.7 253.4,1150.6 253.5,1153.0 254.0,1160.4 254.1,1163.0 254.5,1142.2 254.6,1137.7 255.0,1087.0 255.0,1085.4 255.4,1076.3 255.5,1077.1 255.9,1063.9 256.0,1065.6 256.5,1082.9 256.5,1090.1 257.0,1137.4 257.0,1141.5 257.4,1159.1 257.5,1150.8 258.0,1105.8 258.0,1101.1 258.5,1076.8 258.5,1077.1 259.0,1127.2 259.0,1128.6 259.5,1140.2 259.6,1141.4 260.0,1132.0 260.0,1128.5 260.5,1071.1 260.7,1057.7 261.0,1071.4 261.0,1075.2 261.5,1114.1 261.5,1119.0 261.9,1135.4 262.1,1138.0 262.4,1128.5 262.5,1126.6 263.0,1076.7 263.1,1068.5 263.4,1043.5 263.5,1050.5 264.0,1111.1 264.0,1116.2 264.5,1139.5 264.5,1138.8 265.0,1101.1 265.0,1090.4 265.4,1045.6 265.5,1049.5 266.0,1123.7 266.0,1129.1 266.5,1156.5 266.5,1155.5 267.0,1135.4 267.0,1132.8 267.4,1106.6 267.7,1106.5 267.9,1110.2 268.0,1108.3 268.5,1059.4 268.7,1043.5 269.0,1060.3 269.0,1068.7 269.5,1147.5 269.5,1152.0 269.9,1180.8 270.0,1177.2 270.4,1115.5 270.5,1104.6 270.9,1077.0 271.2,1070.0 271.5,1078.5 271.6,1082.2 272.0,1118.7 272.0,1122.1 272.4,1130.7 272.5,1125.0 273.0,1078.1 273.0,1074.0 273.4,1059.7 273.5,1064.3 274.0,1106.8 274.0,1112.8 274.4,1130.6 274.5,1127.5 275.0,1094.6 275.0,1091.3 275.4,1076.6 275.5,1080.2 276.0,1119.1 276.0,1126.0 276.4,1141.2 276.5,1137.2 277.0,1104.1 277.2,1093.0 277.5,1116.8 277.5,1123.8 278.0,1135.2 278.3,1139.0 278.5,1135.3 278.5,1133.1 278.9,1113.2 279.0,1109.3 279.4,1090.7 279.6,1089.1 279.8,1095.5 280.1,1094.6 280.5,1116.3 280.6,1117.3 281.0,1131.0 281.0,1133.0 281.5,1149.6 281.5,1149.9 282.0,1130.1 282.0,1123.5 282.5,1089.2 282.5,1086.6 282.8,1078.9 283.0,1083.3 283.5,1101.5 283.5,1105.7 283.8,1117.8 284.0,1109.1 284.5,1081.6 284.7,1079.1 285.0,1082.7 285.0,1084.3 285.5,1114.7 285.7,1124.6 286.0,1116.2 286.0,1113.0 286.5,1071.1 286.7,1063.0 287.0,1072.1 287.0,1074.9 287.5,1129.4 287.5,1130.7 287.9,1077.5 288.0,1073.5 288.3,1062.6 288.6,1076.4 289.0,1130.7 289.1,1135.9 289.5,1153.8 289.5,1153.8 290.0,1129.0 290.0,1125.7 290.5,1102.2 290.5,1100.1 290.8,1092.0 291.0,1098.9 291.5,1104.5 291.5,1106.4 292.0,1114.1 292.0,1116.1 292.5,1137.1 292.5,1138.2 293.0,1145.9 293.0,1145.5 293.5,1130.8 293.5,1128.0 294.0,1064.8 294.1,1055.3 294.5,1082.9 294.5,1090.0 295.0,1131.3 295.2,1135.8 295.5,1129.0 295.5,1125.6 296.0,1083.7 296.1,1077.8 296.4,1096.5 296.5,1101.4 296.9,1145.7 297.0,1145.2 297.5,1098.0 297.6,1094.6 297.8,1086.7 298.2,1087.5 298.5,1101.5 298.5,1103.1 299.0,1125.9 299.0,1129.3 299.5,1149.1 299.5,1148.3 300.0,1131.4 300.0,1126.4 300.5,1090.3 300.7,1075.4 301.0,1089.0 301.0,1091.0 301.5,1119.9 301.5,1125.2 301.7,1138.6 302.1,1129.8 302.5,1139.9 302.5,1143.2 303.0,1169.9 303.0,1171.2 303.5,1108.5 303.5,1095.8 304.0,1049.1 304.3,1043.1 304.5,1051.1 304.5,1056.5 304.9,1101.1 305.0,1107.4 305.4,1127.5 305.6,1130.7 305.9,1117.8 306.3,1123.0 306.5,1118.6 306.5,1117.1 307.0,1106.4 307.0,1104.0 307.5,1092.2 307.5,1091.8 307.9,1083.0 308.0,1085.5 308.5,1117.9 308.5,1120.1 308.9,1140.8 309.0,1135.8 309.5,1119.3 309.5,1114.0 310.0,1051.3 310.0,1052.4 310.5,1113.3 310.5,1122.5 310.9,1169.6 311.0,1153.7 311.5,1088.1 311.5,1085.0 311.8,1076.5 312.0,1081.8 312.5,1121.3 312.7,1145.7 313.0,1124.1 313.0,1119.4 313.4,1074.2 313.6,1070.4 313.9,1093.6 314.0,1100.5 314.4,1141.7 314.6,1139.8 315.0,1097.5 315.1,1093.8 315.4,1083.0 315.5,1090.0 316.0,1122.0 316.3,1132.5 316.5,1117.3 316.5,1111.3 317.0,1091.2 317.0,1091.2 317.5,1110.2 317.5,1115.5 318.0,1147.8 318.1,1150.2 318.5,1125.6 318.5,1120.7 319.0,1074.2 319.1,1072.3 319.5,1095.2 319.5,1098.7 319.9,1143.4 320.0,1136.1 320.5,1087.3 320.7,1071.5 321.0,1094.6 321.0,1103.1 321.5,1127.9 321.7,1130.8 322.0,1125.0 322.0,1124.0 322.4,1098.2 322.7,1088.8 323.0,1101.6 323.1,1105.3 323.5,1142.7 323.6,1137.5 324.0,1096.4 324.2,1088.7 324.5,1101.9 324.5,1106.0 325.0,1136.6 325.1,1139.2 325.5,1124.7 325.5,1120.2 326.0,1096.9 326.2,1093.6 326.5,1100.2 326.5,1100.3 327.0,1093.4 327.0,1092.1 327.4,1082.9 327.5,1085.1 328.0,1117.7 328.0,1123.1 328.3,1134.5 328.5,1125.2 329.0,1082.6 329.1,1077.0 329.5,1097.1 329.5,1102.8 330.0,1123.5 330.0,1123.5 330.5,1108.7 330.5,1107.6 330.9,1122.3 331.2,1131.1 331.4,1122.2 331.5,1118.3" fill="none" stroke="#0072BD" stroke-width="0.85" stroke-linejoin="round"/></g>
<g clip-path="url(#cdL)"><polyline points="55.7,1111.1 56.0,1107.4 56.1,1106.2 56.5,1098.5 56.8,1097.0 57.0,1098.9 57.0,1099.9 57.5,1109.0 57.7,1110.9 58.0,1106.7 58.0,1105.7 58.4,1097.4 58.5,1098.1 59.0,1107.7 59.0,1108.5 59.2,1109.3 59.5,1107.7 60.0,1099.7 60.2,1096.8 60.5,1100.1 60.5,1101.0 60.9,1102.9 61.0,1101.9 61.5,1098.1 61.5,1097.7 62.0,1107.6 62.0,1108.9 62.4,1121.9 62.5,1119.9 63.0,1099.1 63.0,1095.1 63.3,1087.0 63.5,1092.2 63.9,1118.2 64.2,1122.6 64.5,1114.1 64.6,1111.7 65.0,1095.3 65.2,1094.8 65.5,1102.4 65.5,1104.9 66.0,1128.0 66.0,1128.6 66.5,1099.6 66.7,1086.7 67.0,1118.9 67.0,1121.5 67.5,1139.3 67.6,1141.3 68.0,1132.3 68.0,1128.4 68.5,1095.1 68.5,1091.8 68.8,1084.8 69.0,1090.1 69.5,1100.5 69.5,1101.6 70.0,1112.4 70.0,1113.7 70.5,1124.1 70.5,1125.5 71.0,1130.7 71.0,1130.9 71.5,1115.2 71.5,1113.5 71.9,1098.1 72.0,1097.1 72.4,1093.0 72.7,1090.3 73.0,1098.0 73.1,1100.0 73.5,1121.4 73.7,1126.9 74.0,1122.1 74.0,1119.4 74.5,1098.7 74.5,1096.0 74.8,1088.5 75.0,1096.9 75.5,1123.2 75.8,1127.8 76.0,1123.0 76.0,1120.5 76.5,1095.4 76.6,1089.0 77.0,1098.9 77.0,1100.8 77.5,1132.0 77.6,1137.6 78.0,1116.7 78.0,1112.1 78.5,1086.5 78.5,1086.9 79.0,1111.4 79.0,1118.6 79.3,1135.5 79.5,1124.2 80.0,1076.8 80.2,1069.9 80.5,1082.8 80.5,1086.7 80.9,1112.7 81.1,1115.0 81.5,1102.9 81.6,1097.4 82.0,1083.6 82.2,1082.2 82.5,1086.2 82.5,1087.3 83.0,1110.9 83.0,1118.3 83.5,1137.7 83.5,1137.9 84.0,1112.0 84.0,1108.9 84.5,1088.8 84.7,1085.6 85.0,1091.6 85.0,1093.3 85.5,1117.3 85.5,1121.1 85.8,1127.4 86.0,1123.1 86.5,1101.7 86.5,1098.7 86.7,1094.0 87.0,1097.7 87.4,1101.9 87.5,1099.1 88.0,1087.8 88.0,1087.1 88.5,1108.6 88.5,1109.6 89.0,1118.2 89.1,1119.0 89.4,1112.9 89.5,1111.1 89.9,1094.3 90.1,1092.3 90.5,1097.9 90.6,1099.0 90.8,1101.9 91.0,1099.4 91.5,1091.8 91.5,1091.9 92.0,1105.3 92.0,1106.4 92.5,1111.5 92.6,1111.9 93.0,1108.0 93.0,1107.3 93.5,1096.2 93.6,1094.4 94.0,1098.9 94.0,1099.9 94.5,1111.3 94.5,1112.3 95.0,1100.3 95.2,1095.6 95.5,1106.4 95.5,1107.2 96.0,1111.8 96.1,1112.2 96.5,1107.9 96.5,1106.9 97.0,1093.9 97.1,1092.3 97.5,1098.3 97.5,1099.8 97.9,1105.8 98.2,1105.7 98.4,1107.6 98.5,1108.4 98.8,1111.6 99.1,1109.0 99.5,1094.2 99.8,1089.9 100.0,1093.8 100.0,1096.4 100.5,1110.0 100.7,1112.7 101.0,1110.8 101.0,1110.0 101.5,1088.0 101.6,1083.0 102.0,1095.4 102.3,1126.0 102.5,1095.7 102.5,1093.4 103.0,1076.2 103.0,1075.7 103.5,1096.2 103.5,1100.0 103.9,1124.5 104.0,1122.2 104.5,1085.7 104.5,1081.5 104.8,1071.3 105.0,1075.5 105.5,1107.9 105.5,1112.1 105.8,1123.5 106.0,1107.2 106.4,1069.6 106.7,1062.4 106.9,1078.5 107.0,1083.2 107.4,1128.9 107.6,1126.1 108.0,1095.6 108.1,1090.7 108.5,1076.7 108.5,1076.9 109.0,1095.4 109.0,1095.2 109.5,1087.8 109.5,1087.4 110.0,1108.8 110.0,1110.4 110.5,1128.8 110.6,1130.3 111.0,1112.2 111.0,1109.3 111.5,1049.9 111.5,1048.6 112.0,1067.4 112.0,1075.5 112.5,1120.4 112.5,1123.8 112.6,1127.2 113.0,1125.5 113.3,1120.6 113.5,1127.0 113.7,1131.4 114.0,1125.4 114.5,1096.5 114.5,1091.8 115.0,1075.3 115.1,1073.2 115.4,1076.5 115.5,1076.1 115.9,1074.8 116.1,1075.5 116.5,1098.4 116.6,1105.5 117.0,1154.4 117.1,1157.3 117.5,1131.5 117.5,1124.3 118.0,1067.2 118.1,1063.2 118.5,1093.4 118.5,1099.9 118.8,1147.7 119.0,1119.7 119.5,1084.6 119.7,1073.5 120.0,1084.7 120.0,1088.7 120.5,1135.8 120.5,1138.3 120.9,1146.6 121.0,1143.7 121.5,1112.1 121.5,1103.5 122.0,1058.9 122.0,1060.6 122.5,1109.5 122.5,1119.4 123.0,1140.7 123.1,1142.1 123.5,1131.3 123.5,1128.9 123.9,1114.0 124.0,1112.5 124.4,1104.6 124.5,1103.0 125.0,1079.6 125.1,1075.9 125.3,1068.6 125.5,1075.1 126.0,1106.9 126.0,1112.8 126.3,1129.1 126.5,1121.8 127.0,1093.2 127.0,1092.9 127.5,1110.7 127.5,1113.5 127.9,1125.3 128.0,1117.0 128.5,1079.6 128.5,1075.0 128.8,1061.0 129.0,1072.7 129.5,1123.3 129.5,1126.3 129.8,1134.7 130.0,1124.8 130.5,1091.1 130.7,1083.3 131.0,1095.7 131.0,1100.4 131.5,1143.4 131.7,1147.7 132.0,1138.4 132.0,1132.6 132.4,1087.4 132.7,1076.6 132.9,1083.4 133.0,1085.8 133.5,1140.2 133.7,1150.0 134.0,1111.2 134.0,1101.3 134.4,1075.0 134.5,1077.1 135.0,1119.9 135.0,1129.1 135.3,1146.0 135.5,1135.2 136.0,1080.2 136.0,1075.3 136.3,1063.9 136.5,1076.3 137.0,1127.9 137.1,1135.1 137.5,1117.2 137.5,1112.5 137.9,1096.5 138.0,1100.6 138.4,1112.6 138.5,1108.9 139.0,1074.0 139.1,1071.6 139.5,1116.4 139.5,1120.7 140.0,1135.4 140.1,1137.6 140.5,1124.8 140.5,1122.2 140.9,1073.5 141.0,1072.9 141.4,1094.4 141.5,1099.9 141.7,1110.8 142.1,1096.5 142.4,1076.4 142.6,1079.8 143.0,1115.6 143.0,1119.3 143.4,1134.2 143.5,1129.2 144.0,1091.2 144.2,1080.5 144.5,1088.8 144.5,1092.6 145.0,1129.8 145.1,1131.2 145.5,1109.0 145.5,1103.4 146.0,1077.1 146.0,1076.5 146.5,1099.5 146.5,1103.3 147.0,1136.3 147.1,1137.6 147.5,1125.7 147.7,1123.8 148.0,1127.0 148.1,1129.3 148.5,1115.2 148.5,1112.9 148.9,1103.3 149.1,1104.0 149.3,1101.2 149.5,1105.7 149.9,1126.2 150.0,1126.7 150.5,1095.0 150.6,1091.1 150.8,1082.6 151.1,1094.8 151.4,1111.8 151.8,1113.4 152.0,1110.0 152.0,1108.2 152.5,1084.3 152.5,1084.9 153.0,1116.0 153.1,1120.8 153.5,1102.9 153.5,1101.8 154.0,1096.3 154.0,1096.5 154.5,1107.3 154.5,1109.6 154.7,1115.3 155.0,1110.1 155.5,1086.8 155.6,1082.1 156.0,1095.1 156.0,1098.8 156.5,1123.4 156.7,1126.5 157.0,1119.1 157.0,1116.8 157.5,1100.0 157.5,1098.3 158.0,1091.4 158.0,1090.7 158.4,1088.4 158.5,1088.4 158.9,1099.6 159.0,1101.8 159.5,1122.6 159.6,1123.6 160.0,1116.4 160.0,1114.0 160.5,1089.5 160.7,1083.1 161.0,1091.0 161.0,1093.8 161.5,1119.9 161.8,1126.9 162.0,1121.6 162.0,1119.1 162.5,1102.5 162.5,1100.1 162.8,1095.5 163.0,1099.1 163.5,1110.8 163.5,1112.5 164.0,1120.6 164.0,1120.5 164.5,1108.9 164.5,1104.3 164.9,1081.5 165.0,1084.4 165.5,1110.6 165.5,1111.2 165.8,1116.0 166.0,1113.1 166.5,1095.1 166.5,1093.4 166.8,1091.8 167.0,1094.2 167.4,1115.8 167.5,1120.5 167.7,1133.7 168.1,1130.2 168.5,1109.6 168.5,1106.9 169.0,1081.5 169.0,1079.0 169.3,1072.9 169.5,1081.0 170.0,1117.8 170.0,1121.7 170.4,1134.7 170.5,1134.0 171.0,1099.4 171.0,1091.6 171.4,1064.4 171.5,1066.0 172.0,1097.8 172.0,1111.7 172.2,1147.3 172.5,1109.2 173.0,1065.0 173.0,1065.0 173.5,1100.5 173.5,1104.2 173.8,1114.8 174.0,1112.3 174.5,1088.0 174.7,1071.3 175.0,1091.0 175.0,1098.1 175.4,1127.9 175.5,1125.9 175.9,1096.1 176.0,1093.8 176.3,1080.9 176.6,1086.1 177.0,1113.7 177.1,1116.1 177.5,1126.2 177.6,1126.9 178.0,1123.2 178.0,1122.9 178.5,1107.9 178.5,1105.0 179.0,1094.2 179.0,1094.5 179.5,1101.5 179.5,1104.2 179.9,1127.6 180.0,1125.6 180.5,1091.2 180.6,1086.5 181.0,1098.2 181.0,1101.9 181.5,1121.1 181.5,1121.7 182.0,1102.3 182.0,1097.4 182.5,1085.0 182.5,1084.5 183.0,1094.2 183.0,1097.9 183.5,1115.0 183.5,1114.9 184.0,1090.7 184.0,1089.0 184.3,1082.0 184.5,1083.6 185.0,1101.9 185.1,1105.7 185.3,1118.4 185.6,1115.6 186.0,1107.4 186.3,1088.2 186.5,1112.4 186.5,1115.4 186.8,1124.2 187.0,1112.1 187.5,1095.1 187.7,1089.7 188.0,1095.8 188.0,1097.0 188.5,1113.2 188.5,1115.3 189.0,1127.4 189.0,1126.7 189.5,1119.6 189.5,1117.9 190.0,1095.4 190.0,1093.1 190.5,1079.8 190.6,1078.8 191.0,1088.9 191.0,1090.8 191.5,1118.2 191.5,1118.3 192.0,1104.5 192.0,1100.3 192.5,1081.1 192.6,1080.1 192.9,1097.3 193.0,1103.1 193.3,1122.9 193.5,1118.4 194.0,1091.5 194.2,1088.9 194.5,1102.9 194.5,1106.7 195.0,1129.5 195.2,1134.7 195.5,1127.0 195.5,1124.9 196.0,1101.0 196.0,1096.3 196.3,1083.6 196.5,1090.3 197.0,1121.5 197.0,1124.3 197.5,1141.6 197.6,1143.3 198.0,1130.4 198.0,1124.7 198.5,1093.3 198.5,1090.6 198.8,1083.5 199.0,1086.0 199.5,1105.7 199.5,1109.1 200.0,1119.7 200.1,1121.6 200.5,1103.1 200.7,1103.0 201.0,1097.6 201.2,1097.0 201.4,1093.9 201.5,1092.0 201.9,1074.0 202.2,1068.8 202.5,1082.2 202.6,1087.1 203.0,1125.6 203.0,1129.2 203.3,1135.3 203.5,1129.3 204.0,1090.6 204.3,1058.7 204.5,1079.1 204.5,1088.8 205.0,1146.7 205.0,1145.9 205.5,1085.2 205.5,1081.4 205.9,1064.5 206.0,1069.9 206.5,1114.9 206.5,1120.4 207.0,1140.6 207.0,1139.7 207.5,1109.2 207.5,1105.8 207.9,1077.7 208.0,1080.6 208.5,1109.0 208.5,1112.3 209.0,1122.6 209.0,1123.0 209.5,1115.4 209.5,1114.4 209.8,1107.9 210.0,1108.9 210.3,1107.2 210.7,1108.2 211.0,1111.8 211.1,1112.4 211.5,1124.2 211.6,1125.9 212.0,1133.2 212.0,1133.0 212.5,1115.6 212.5,1112.6 213.0,1103.8 213.0,1103.7 213.4,1100.2 213.5,1100.7 214.0,1101.6 214.2,1100.9 214.5,1104.6 214.5,1105.2 215.0,1112.4 215.1,1113.7 215.5,1107.5 215.5,1105.5 216.0,1095.1 216.0,1094.1 216.4,1091.4 216.5,1092.1 217.0,1100.4 217.0,1102.1 217.3,1108.9 217.5,1108.2 218.0,1099.3 218.0,1098.4 218.5,1092.8 218.5,1092.8 218.9,1102.0 219.0,1103.5 219.4,1118.1 219.6,1116.5 220.0,1099.6 220.1,1096.0 220.5,1078.6 220.5,1079.5 221.0,1106.2 221.0,1107.7 221.3,1112.2 221.5,1111.0 222.0,1100.9 222.0,1097.8 222.5,1085.9 222.6,1085.0 223.0,1095.7 223.0,1097.4 223.5,1117.7 223.7,1120.4 224.0,1117.0 224.0,1115.8 224.5,1108.6 224.5,1107.5 225.0,1095.0 225.0,1093.5 225.5,1080.2 225.5,1080.3 226.0,1088.7 226.0,1092.0 226.5,1111.9 226.5,1112.6 226.7,1113.6 227.0,1112.3 227.3,1109.9 227.5,1112.9 227.9,1123.3 228.1,1125.4 228.5,1114.4 228.6,1112.3 229.0,1084.9 229.3,1080.5 229.5,1086.3 229.5,1088.5 230.0,1106.1 230.0,1109.2 230.5,1116.4 230.7,1116.5 231.0,1118.7 231.0,1118.7 231.5,1109.4 231.5,1106.7 232.0,1092.5 232.2,1087.7 232.5,1092.7 232.5,1094.3 233.0,1114.4 233.1,1116.3 233.5,1111.6 233.5,1109.3 234.0,1093.5 234.2,1089.7 234.5,1098.0 234.5,1101.1 235.0,1119.3 235.2,1121.4 235.5,1116.8 235.5,1115.4 235.9,1093.0 236.0,1089.2 236.2,1083.4 236.5,1086.0 236.9,1095.0 237.3,1095.9 237.5,1094.6 237.6,1093.6 238.0,1104.8 238.0,1105.9 238.5,1119.4 238.7,1122.9 239.0,1118.8 239.0,1118.2 239.5,1107.5 239.5,1105.5 240.0,1086.7 240.1,1085.8 240.5,1092.7 240.5,1094.5 241.0,1120.1 241.1,1126.7 241.5,1104.6 241.5,1099.9 241.9,1081.8 242.0,1089.6 242.5,1120.0 242.5,1121.8 242.8,1128.3 243.0,1124.9 243.5,1103.8 243.5,1100.0 243.8,1084.9 244.0,1090.9 244.4,1106.0 244.5,1112.4 244.9,1130.7 245.0,1129.4 245.5,1093.1 245.6,1089.3 245.8,1079.9 246.1,1089.8 246.5,1119.6 246.5,1122.8 247.0,1143.3 247.0,1143.2 247.5,1116.8 247.5,1110.5 248.0,1086.7 248.0,1085.7 248.3,1082.6 248.5,1087.1 249.0,1116.2 249.0,1121.8 249.3,1138.6 249.5,1125.8 250.0,1082.0 250.2,1077.2 250.5,1083.4 250.5,1086.6 251.0,1121.3 251.2,1132.4 251.5,1121.7 251.5,1118.3 252.0,1086.1 252.0,1084.4 252.4,1078.9 252.5,1079.5 253.0,1085.8 253.0,1087.1 253.4,1102.2 253.5,1104.4 254.0,1120.8 254.1,1120.8 254.5,1111.0 254.6,1108.6 255.0,1079.3 255.3,1075.6 255.5,1078.9 255.5,1081.7 256.0,1099.9 256.0,1104.0 256.3,1112.9 256.5,1113.5 257.0,1124.9 257.0,1126.7 257.3,1130.2 257.5,1128.5 258.0,1111.6 258.0,1108.0 258.4,1087.5 258.5,1089.4 259.0,1111.0 259.0,1115.6 259.5,1131.8 259.6,1133.2 260.0,1125.1 260.0,1123.9 260.5,1086.8 260.5,1083.0 260.8,1069.3 261.0,1078.0 261.5,1113.0 261.5,1115.4 261.9,1130.4 262.1,1131.6 262.4,1121.1 262.5,1117.7 263.0,1094.2 263.1,1091.4 263.5,1077.7 263.5,1078.3 264.0,1085.1 264.0,1087.7 264.5,1093.2 264.5,1095.2 265.0,1112.8 265.0,1114.3 265.5,1128.8 265.5,1129.8 266.0,1119.3 266.0,1116.9 266.5,1090.8 266.8,1079.2 267.0,1087.7 267.0,1091.5 267.5,1128.6 267.5,1129.6 268.0,1099.0 268.0,1094.7 268.5,1064.5 268.5,1065.1 269.0,1096.0 269.0,1103.7 269.5,1136.1 269.5,1138.4 269.9,1144.9 270.0,1144.0 270.4,1122.7 270.5,1118.5 270.9,1094.9 271.0,1092.9 271.4,1079.1 271.6,1079.6 272.0,1094.6 272.0,1097.3 272.5,1123.6 272.6,1126.1 273.0,1107.5 273.0,1102.4 273.5,1081.9 273.6,1080.5 274.0,1092.9 274.0,1095.1 274.5,1124.3 274.5,1124.3 275.0,1098.6 275.0,1095.6 275.4,1082.5 275.5,1083.8 276.0,1104.1 276.0,1109.3 276.4,1130.6 276.5,1129.7 277.0,1107.4 277.0,1102.0 277.3,1089.7 277.5,1094.4 278.0,1119.4 278.0,1120.4 278.3,1123.8 278.5,1120.7 278.9,1105.6 279.0,1102.5 279.4,1094.3 279.5,1095.2 280.0,1103.9 280.3,1108.5 280.5,1104.4 280.6,1103.7 281.0,1108.7 281.0,1109.2 281.5,1118.4 281.7,1120.3 282.0,1112.5 282.0,1110.5 282.5,1090.9 282.8,1087.6 283.0,1091.0 283.0,1093.1 283.5,1112.5 283.7,1119.0 284.0,1108.7 284.0,1105.3 284.5,1085.7 284.6,1084.7 285.0,1089.9 285.0,1091.5 285.5,1121.8 285.6,1123.6 286.0,1111.2 286.0,1108.3 286.5,1086.9 286.5,1086.9 287.0,1113.5 287.1,1117.2 287.5,1097.5 287.5,1096.1 287.9,1084.4 288.1,1082.5 288.5,1091.7 288.6,1093.8 289.0,1112.0 289.1,1113.7 289.4,1119.7 289.5,1119.4 290.0,1117.2 290.0,1116.0 290.5,1106.1 290.5,1104.0 291.0,1092.1 291.0,1091.3 291.2,1089.7 291.8,1090.2 291.9,1089.4 292.0,1090.4 292.5,1112.9 292.5,1114.4 292.9,1125.5 293.0,1125.1 293.5,1117.7 293.5,1115.3 294.0,1090.4 294.1,1088.1 294.5,1097.3 294.5,1100.4 295.0,1124.1 295.1,1126.7 295.5,1113.9 295.5,1110.1 296.0,1085.3 296.0,1084.7 296.4,1112.1 296.5,1116.1 296.8,1127.9 297.0,1123.1 297.5,1088.6 297.6,1084.9 297.8,1078.7 298.0,1086.4 298.5,1107.8 298.5,1110.2 299.0,1115.3 299.0,1116.3 299.5,1126.8 299.6,1128.2 300.0,1115.2 300.0,1111.6 300.5,1089.6 300.6,1087.3 301.0,1099.0 301.0,1101.3 301.5,1131.1 301.6,1137.3 302.0,1121.5 302.0,1118.1 302.3,1110.7 302.5,1116.9 303.0,1137.7 303.0,1137.3 303.5,1095.4 303.5,1091.0 304.0,1071.1 304.1,1070.5 304.5,1091.6 304.5,1095.8 304.9,1137.8 305.1,1140.2 305.4,1119.7 305.5,1115.4 305.9,1069.7 306.1,1108.0 306.5,1129.0 306.5,1130.0 307.0,1112.7 307.0,1108.5 307.5,1088.4 307.5,1086.4 307.8,1082.6 308.0,1086.8 308.5,1105.1 308.5,1107.6 309.0,1133.0 309.0,1135.0 309.3,1138.2 309.5,1136.0 310.0,1112.8 310.0,1111.2 310.5,1098.3 310.5,1098.0 310.9,1088.7 311.0,1088.6 311.4,1080.1 311.5,1082.0 312.0,1093.0 312.0,1096.8 312.5,1123.2 312.6,1125.1 313.0,1110.5 313.0,1107.2 313.4,1085.9 313.6,1081.9 313.9,1091.2 314.0,1093.2 314.5,1126.4 314.6,1128.1 315.0,1115.8 315.1,1112.9 315.5,1089.2 315.5,1088.8 316.0,1096.8 316.0,1098.6 316.3,1103.7 316.5,1099.2 317.0,1087.4 317.0,1087.3 317.5,1104.3 317.5,1106.8 318.0,1120.2 318.1,1121.8 318.5,1111.8 318.5,1110.2 319.0,1087.0 319.1,1085.7 319.5,1095.1 319.5,1098.0 319.9,1115.4 320.0,1110.9 320.5,1094.7 320.7,1091.2 321.0,1097.9 321.0,1100.1 321.5,1118.2 321.7,1122.4 322.0,1118.1 322.0,1116.6 322.4,1099.1 322.7,1093.2 323.0,1100.1 323.1,1103.3 323.5,1122.2 323.6,1120.2 324.0,1096.7 324.2,1091.1 324.5,1100.4 324.5,1103.4 325.0,1122.4 325.0,1122.8 325.5,1109.1 325.5,1105.4 325.9,1085.3 326.0,1088.6 326.5,1113.6 326.8,1120.2 327.0,1113.4 327.0,1110.4 327.5,1090.7 327.8,1089.7 328.0,1091.0 328.0,1092.0 328.4,1095.7 328.5,1095.2 328.9,1092.8 329.0,1094.2 329.5,1109.8 329.5,1111.7 329.8,1119.1 330.0,1116.9 330.5,1107.5 330.6,1089.5 330.9,1112.6 331.0,1114.8 331.3,1123.3 331.5,1116.4" fill="none" stroke="#EDB120" stroke-width="0.85" stroke-linejoin="round"/></g>
<path d="M55.5 997.8H331.5V1211.3H55.5ZM55.5 1211.3v-2.8M55.5 997.8v2.8M110.7 1211.3v-2.8M110.7 997.8v2.8M165.9 1211.3v-2.8M165.9 997.8v2.8M221.1 1211.3v-2.8M221.1 997.8v2.8M276.3 1211.3v-2.8M276.3 997.8v2.8M331.5 1211.3v-2.8M331.5 997.8v2.8M55.5 1211.3h2.8M331.5 1211.3h-2.8M55.5 1157.9h2.8M331.5 1157.9h-2.8M55.5 1104.5h2.8M331.5 1104.5h-2.8M55.5 1051.2h2.8M331.5 1051.2h-2.8M55.5 997.8h2.8M331.5 997.8h-2.8" stroke="#4a4a4a" stroke-width="1.15" fill="none"/>
<text x="55.5" y="1232.1" font-size="16" text-anchor="middle" fill="#000">0</text>
<text x="110.7" y="1232.1" font-size="16" text-anchor="middle" fill="#000">5</text>
<text x="165.9" y="1232.1" font-size="16" text-anchor="middle" fill="#000">10</text>
<text x="221.1" y="1232.1" font-size="16" text-anchor="middle" fill="#000">15</text>
<text x="276.3" y="1232.1" font-size="16" text-anchor="middle" fill="#000">20</text>
<text x="331.5" y="1232.1" font-size="16" text-anchor="middle" fill="#000">25</text>
<text x="50.9" y="1218.1" font-size="16" text-anchor="end" fill="#000">-400</text>
<text x="50.9" y="1164.7" font-size="16" text-anchor="end" fill="#000">-200</text>
<text x="50.9" y="1111.3" font-size="16" text-anchor="end" fill="#000">0</text>
<text x="50.9" y="1058.0" font-size="16" text-anchor="end" fill="#000">200</text>
<text x="50.9" y="1004.6" font-size="16" text-anchor="end" fill="#000">400</text>
<rect x="211" y="998.5" width="121.3" height="44.0" fill="#fff" stroke="#4a4a4a" stroke-width="1"/>
<path d="M213.1 1010.1H231.8" stroke="#0072BD" stroke-width="1"/>
<text class="s" x="233.4" y="1012.7" font-size="13" fill="#000">Pce-H<tspan font-size="9.5" dy="5.5">2</tspan><tspan dy="-5.5"> control</tspan></text>
<path d="M213.1 1030.9H231.8" stroke="#EDB120" stroke-width="1"/>
<text class="s" x="233.4" y="1033.5" font-size="13" fill="#000">General H<tspan font-size="9.5" dy="5.5">2</tspan><tspan dy="-5.5"> control</tspan></text>
<text class="s" transform="translate(13.8 1104.5) rotate(-90)" x="0" y="0" font-size="19" text-anchor="middle" textLength="127.5" lengthAdjust="spacingAndGlyphs" fill="#000">Control force(N)</text>
<text class="s" x="157.2" y="1265.6" font-size="24" fill="#000">Time(s)</text>
<path d="M438.6 996.3V1212.2M497.8 996.3V1212.2M557.1 996.3V1212.2M616.3 996.3V1212.2M379.4 1164.2H675.5M379.4 1116.2H675.5M379.4 1068.3H675.5M379.4 1020.3H675.5" stroke="#E0E0E0" stroke-width="0.8" fill="none"/>
<g clip-path="url(#cdR)"><polyline points="379.4,1199.4 379.7,1192.6 380.1,1210.6 380.3,1197.0 380.6,1188.9 380.9,1198.8 381.1,1211.9 381.4,1193.7 381.5,1191.4 381.9,1206.8 382.2,1190.7 382.4,1211.3 382.4,1209.4 382.9,1192.0 383.0,1192.4 383.4,1205.3 383.5,1211.9 383.8,1190.5 384.0,1188.5 384.4,1198.5 384.6,1210.1 384.8,1180.6 384.9,1179.7 385.4,1211.6 385.6,1169.9 385.9,1207.7 385.9,1212.1 386.4,1185.5 386.4,1185.8 386.8,1210.8 386.9,1194.1 387.4,1173.8 387.5,1169.3 387.9,1195.5 388.0,1209.8 388.3,1170.8 388.5,1166.4 388.9,1192.2 389.0,1208.3 389.3,1150.7 389.6,1133.4 389.9,1155.2 389.9,1160.9 390.4,1209.1 390.5,1134.2 390.7,1209.0 390.9,1165.0 391.2,1137.7 391.5,1206.4 391.9,1157.6 392.0,1146.8 392.3,1103.1 392.4,1106.8 392.8,1159.8 393.1,1209.9 393.4,1151.0 393.4,1143.2 393.8,1125.0 393.9,1126.5 394.4,1180.2 394.6,1209.1 394.9,1184.3 394.9,1176.1 395.2,1158.5 395.4,1155.4 395.6,1147.9 396.2,1147.2 396.4,1157.6 396.5,1162.4 396.8,1211.9 396.9,1207.1 397.3,1180.1 397.6,1175.0 397.9,1187.4 397.9,1191.0 398.2,1208.4 398.4,1184.1 398.9,1150.0 398.9,1150.4 399.4,1183.1 399.5,1212.2 399.9,1180.2 400.2,1163.7 400.4,1182.3 400.7,1211.6 400.9,1176.7 401.0,1169.1 401.3,1156.7 401.4,1159.7 401.8,1199.3 401.9,1209.9 402.4,1172.1 402.4,1172.6 402.9,1209.0 402.9,1209.0 403.4,1146.9 403.4,1149.3 403.8,1208.6 403.9,1162.6 404.2,1097.1 404.5,1157.3 404.6,1210.3 405.1,1176.1 405.4,1203.0 405.5,1211.6 405.9,1099.0 405.9,1095.6 406.3,1165.2 406.5,1205.9 406.9,1144.8 407.0,1134.5 407.4,1204.9 407.4,1203.1 407.9,1120.6 408.1,1113.7 408.4,1129.3 408.4,1138.7 408.8,1211.9 409.0,1166.9 409.3,1102.7 409.4,1106.7 409.9,1189.9 410.0,1205.6 410.4,1146.3 410.7,1130.2 410.8,1143.8 410.9,1151.7 411.3,1211.4 411.4,1190.5 411.8,1155.6 411.9,1160.4 412.4,1201.4 412.4,1211.5 412.9,1164.5 412.9,1164.2 413.4,1185.2 413.5,1192.3 413.6,1211.0 413.9,1193.2 414.2,1185.5 414.5,1185.5 414.8,1173.1 414.9,1172.7 415.3,1159.5 415.4,1163.4 415.9,1185.6 415.9,1190.5 416.1,1209.8 416.4,1187.4 416.6,1177.5 417.1,1180.4 417.4,1192.8 417.4,1197.0 417.9,1210.0 418.0,1212.0 418.4,1192.6 418.4,1190.4 418.9,1182.7 419.0,1182.2 419.4,1207.2 419.4,1211.8 419.8,1180.7 419.9,1179.3 420.2,1173.1 420.4,1179.9 420.9,1190.2 421.2,1197.7 421.4,1192.0 421.5,1190.8 421.9,1192.6 421.9,1193.5 422.3,1212.2 422.5,1205.1 422.9,1188.5 423.0,1186.9 423.2,1188.4 423.5,1185.7 423.8,1196.0 424.2,1212.0 424.3,1187.7 424.4,1177.1 424.9,1118.6 424.9,1120.2 425.4,1198.3 425.4,1204.6 425.9,1137.0 425.9,1138.6 426.4,1211.2 426.4,1199.8 426.8,1126.1 427.0,1132.3 427.4,1209.2 427.4,1211.6 427.8,1198.9 427.9,1200.0 428.4,1210.6 428.4,1211.2 428.8,1162.8 428.9,1162.7 429.4,1183.6 429.6,1193.7 429.9,1181.9 429.9,1175.4 430.4,1132.8 430.4,1132.5 430.9,1205.3 430.9,1201.4 431.4,1095.1 431.5,1097.0 431.8,1206.4 431.9,1175.5 432.3,1124.6 432.4,1130.1 432.8,1202.5 432.9,1139.5 433.2,1076.7 433.4,1107.4 433.6,1207.0 433.9,1118.0 434.2,1101.8 434.4,1120.5 434.7,1210.6 435.2,1206.0 435.4,1149.2 435.4,1134.2 435.8,1069.7 436.0,1085.3 436.4,1207.5 436.4,1195.1 436.7,1143.9 437.0,1206.6 437.4,1042.5 437.5,1020.8 437.9,1211.5 437.9,1189.8 438.4,1043.0 438.4,1045.7 438.9,1181.2 438.9,1209.7 439.4,1029.8 439.5,1024.1 439.9,1101.2 439.9,1131.1 440.1,1209.4 440.6,1136.3 440.9,1156.9 440.9,1158.6 441.3,1184.3 441.4,1183.3 441.9,1153.2 442.0,1144.7 442.4,1202.8 442.4,1209.3 442.9,1144.3 443.1,1135.7 443.4,1153.4 443.4,1157.9 443.8,1198.6 443.9,1140.8 444.2,1105.2 444.4,1137.8 444.8,1210.0 445.1,1208.7 445.4,1175.8 445.4,1172.0 445.8,1211.0 445.9,1194.5 446.3,1070.7 446.4,1080.8 446.7,1207.7 446.9,1145.6 447.2,1079.0 447.4,1098.8 447.9,1210.8 447.9,1194.5 448.3,1117.3 448.5,1127.5 448.8,1202.7 448.9,1154.3 449.4,1091.5 449.5,1090.7 449.9,1109.9 449.9,1115.3 450.2,1208.5 450.4,1108.9 450.8,1051.8 450.9,1080.0 451.2,1211.1 451.4,1153.4 451.8,1116.9 451.9,1120.2 452.4,1155.1 452.4,1164.5 452.9,1194.1 453.0,1203.4 453.0,1212.1 453.4,1203.7 453.9,1130.7 454.0,1124.1 454.3,1089.2 454.4,1094.0 454.8,1140.2 454.9,1150.1 455.1,1209.9 455.4,1181.2 455.9,1207.7 455.9,1207.0 456.1,1181.8 456.4,1188.6 456.7,1212.1 457.2,1208.9 457.4,1172.0 457.5,1158.8 457.9,1084.8 458.0,1074.4 458.4,1165.3 458.6,1208.9 458.9,1150.7 458.9,1147.3 459.3,1182.7 459.5,1210.9 459.9,1142.4 459.9,1140.0 460.4,1190.3 460.5,1211.3 460.9,1107.0 461.1,1092.4 461.4,1125.9 461.4,1144.2 461.6,1208.5 462.0,1150.7 462.1,1141.5 462.4,1152.8 462.8,1203.4 462.9,1141.6 463.2,1079.1 463.4,1129.6 463.6,1207.8 464.1,1125.9 464.4,1143.4 464.7,1202.9 464.9,1136.3 464.9,1116.2 465.2,1080.9 465.4,1119.4 465.7,1204.6 465.9,1140.8 466.3,1086.3 466.5,1101.8 466.9,1209.4 467.1,1123.0 467.3,1211.0 467.4,1147.0 467.6,1072.4 468.0,1204.4 468.2,1136.7 468.6,1207.6 468.9,1098.9 469.1,1047.8 469.4,1111.5 469.4,1147.5 469.5,1191.6 470.1,1136.4 470.4,1147.7 470.4,1151.0 470.8,1203.3 471.0,1152.7 471.3,1119.9 471.4,1134.9 471.8,1198.8 472.0,1144.4 472.2,1206.0 472.4,1146.8 472.8,1103.8 472.9,1112.4 473.3,1200.2 473.4,1146.5 473.7,1107.3 473.9,1134.4 474.2,1207.3 474.6,1149.4 474.9,1177.7 475.0,1205.5 475.4,1122.7 475.5,1117.3 475.9,1181.8 476.0,1206.6 476.3,1131.1 476.5,1115.8 476.9,1141.8 476.9,1154.0 477.2,1207.2 477.4,1173.0 477.8,1155.3 477.9,1156.9 478.4,1174.3 478.4,1175.0 478.8,1191.9 479.1,1210.0 479.4,1174.0 479.7,1161.0 479.9,1177.8 480.1,1211.9 480.4,1164.5 480.6,1143.8 480.8,1161.2 480.9,1167.3 481.3,1211.5 481.4,1203.7 481.7,1195.5 481.9,1209.8 482.4,1175.7 482.6,1169.9 482.9,1182.8 483.2,1206.1 483.4,1160.6 483.5,1152.0 483.9,1197.7 483.9,1211.6 484.4,1147.7 484.5,1148.4 484.9,1199.0 484.9,1209.2 485.2,1163.3 485.5,1209.9 485.9,1155.5 485.9,1156.6 486.2,1209.4 486.4,1184.7 486.9,1145.8 486.9,1147.1 487.4,1201.1 487.4,1211.3 487.9,1156.8 488.1,1150.9 488.4,1165.8 488.4,1170.7 488.8,1210.4 489.0,1203.5 489.4,1184.2 489.6,1176.6 489.8,1183.1 489.9,1184.1 490.4,1210.4 490.4,1207.8 490.9,1180.2 491.0,1175.4 491.4,1187.5 491.7,1210.6 491.9,1179.2 491.9,1171.0 492.2,1157.3 492.5,1174.4 492.7,1210.1 492.9,1188.5 493.2,1177.3 493.5,1192.3 493.8,1211.3 493.9,1200.9 494.1,1196.0 494.6,1187.6 494.9,1203.4 495.1,1210.9 495.4,1174.3 495.4,1162.8 495.8,1132.4 495.9,1144.7 496.2,1209.0 496.4,1177.6 496.7,1139.0 497.1,1210.8 497.4,1139.7 497.4,1127.8 497.7,1104.5 498.0,1129.3 498.3,1206.9 498.4,1182.0 498.8,1147.5 498.9,1149.4 499.3,1210.9 499.4,1177.8 499.9,1100.1 499.9,1101.2 500.4,1147.9 500.4,1157.0 500.8,1210.7 500.9,1192.8 501.4,1133.6 501.5,1124.0 501.8,1108.2 501.9,1113.8 502.4,1209.6 502.5,1210.0 502.8,1185.5 503.1,1210.5 503.3,1190.2 503.4,1172.7 503.8,1041.1 503.9,1050.8 504.4,1164.7 504.4,1199.9 504.7,1071.3 505.1,1207.0 505.4,1124.2 505.6,1089.0 505.9,1120.1 506.0,1130.7 506.4,1208.7 506.7,1185.9 506.8,1201.5 506.9,1210.1 507.4,1189.1 507.4,1187.6 507.8,1211.1 507.9,1208.2 508.2,1187.4 508.4,1210.2 508.9,1170.1 509.1,1146.3 509.3,1161.7 509.4,1160.7 509.7,1207.5 509.9,1181.8 510.4,1145.1 510.5,1142.6 510.7,1138.0 510.9,1143.1 511.3,1160.8 511.4,1165.4 511.7,1206.7 511.9,1178.6 512.2,1168.1 512.4,1174.5 512.7,1210.4 512.9,1177.2 513.2,1155.2 513.4,1158.7 513.9,1209.1 514.1,1120.3 514.4,1206.6 514.4,1209.9 514.7,1177.2 515.1,1209.7 515.4,1149.3 515.4,1140.3 515.7,1120.6 515.9,1130.7 516.4,1201.6 516.5,1209.8 516.7,1197.6 517.0,1211.0 517.4,1156.9 517.4,1146.4 517.9,1123.2 518.0,1121.5 518.4,1174.5 518.4,1181.4 518.6,1211.6 518.9,1189.8 519.3,1212.1 519.8,1211.2 519.9,1201.9 519.9,1197.3 520.3,1170.8 520.4,1170.0 520.9,1211.6 520.9,1205.6 521.4,1169.8 521.4,1168.4 521.7,1173.4 521.9,1173.9 522.3,1208.1 522.4,1196.8 522.9,1143.2 523.0,1139.4 523.4,1175.9 523.5,1207.9 523.9,1147.9 524.0,1140.1 524.2,1126.8 524.4,1141.0 524.8,1205.3 524.9,1208.1 525.3,1161.6 525.4,1167.8 525.7,1207.9 525.9,1171.2 526.3,1125.7 526.4,1129.6 526.9,1186.0 527.0,1205.5 527.2,1146.6 527.5,1206.5 527.9,1181.8 528.0,1170.5 528.3,1210.9 528.5,1184.7 528.9,1116.9 529.0,1107.0 529.3,1133.7 529.4,1141.1 529.8,1208.8 529.9,1185.5 530.4,1141.9 530.4,1143.6 530.8,1208.2 530.9,1186.3 531.4,1104.6 531.4,1098.4 531.7,1078.1 532.0,1097.5 532.4,1195.7 532.4,1207.1 532.9,1156.1 533.0,1151.8 533.4,1167.8 533.4,1173.7 533.8,1210.1 533.9,1198.9 534.3,1173.0 534.4,1174.1 534.9,1183.4 534.9,1186.1 535.2,1211.9 535.4,1196.1 535.9,1141.0 535.9,1134.1 536.4,1094.8 536.5,1093.2 536.9,1142.2 536.9,1151.6 537.2,1209.9 537.5,1166.2 537.9,1128.7 538.1,1111.6 538.3,1141.6 538.4,1149.8 538.9,1208.3 538.9,1196.0 539.4,1146.2 539.7,1164.8 539.9,1140.8 539.9,1129.7 540.4,1063.9 540.5,1035.6 540.9,1098.9 541.0,1115.8 541.2,1210.3 541.4,1118.0 541.7,1065.2 542.0,1110.8 542.2,1208.7 542.4,1125.2 542.7,1090.0 542.9,1103.1 543.4,1208.8 543.4,1194.4 543.9,1134.7 543.9,1138.9 544.4,1207.2 544.4,1189.6 544.9,1121.8 545.0,1116.6 545.4,1180.2 545.5,1187.1 545.9,1205.9 546.1,1211.9 546.3,1198.1 546.4,1193.5 546.9,1169.6 546.9,1167.9 547.3,1157.0 547.4,1161.9 547.9,1207.7 548.0,1212.1 548.4,1197.2 548.4,1194.3 548.9,1184.8 548.9,1184.3 549.2,1187.3 549.4,1182.7 549.8,1172.7 550.0,1183.1 550.2,1211.0 550.4,1204.5 550.7,1197.2 551.0,1209.3 551.4,1176.7 551.4,1175.6 551.8,1168.3 551.9,1168.6 552.4,1185.7 552.6,1210.1 552.9,1183.2 553.2,1168.6 553.4,1183.0 553.6,1211.4 553.9,1190.5 553.9,1182.1 554.2,1154.1 554.5,1159.8 554.9,1206.8 554.9,1202.1 555.3,1155.1 555.6,1141.3 555.9,1158.7 556.1,1201.5 556.3,1104.5 556.6,1077.3 556.9,1195.2 556.9,1185.0 557.4,1113.4 557.6,1088.7 557.9,1127.4 557.9,1142.0 558.2,1208.9 558.4,1188.7 558.7,1173.2 559.0,1177.1 559.4,1205.4 559.5,1212.1 559.8,1193.6 560.0,1184.8 560.4,1193.8 560.4,1194.5 560.9,1207.6 561.0,1211.8 561.4,1184.8 561.4,1178.9 561.9,1155.1 562.0,1152.3 562.4,1175.7 562.4,1179.2 562.9,1203.7 563.2,1193.1 563.4,1202.6 563.5,1209.7 563.9,1181.5 563.9,1177.8 564.3,1150.8 564.5,1146.7 564.9,1165.3 564.9,1173.3 565.2,1209.8 565.4,1171.3 565.8,1145.4 565.9,1151.7 566.4,1193.5 566.5,1211.7 566.9,1166.9 567.1,1159.5 567.4,1169.8 567.4,1175.2 567.9,1202.7 568.0,1209.2 568.4,1171.0 568.4,1167.6 568.8,1156.4 568.9,1159.3 569.4,1211.1 569.4,1203.9 569.8,1170.0 569.9,1175.9 570.4,1211.6 570.4,1205.8 570.7,1184.5 570.9,1191.2 571.3,1210.0 571.5,1194.8 571.9,1169.9 572.0,1165.6 572.4,1181.0 572.5,1185.6 572.8,1209.4 572.9,1196.2 573.1,1187.1 573.5,1189.7 573.9,1209.9 574.1,1211.6 574.3,1206.1 574.5,1211.8 574.9,1198.9 574.9,1196.0 575.4,1169.8 575.5,1163.6 575.9,1172.9 576.0,1175.3 576.4,1210.7 576.4,1202.6 576.9,1142.0 577.0,1141.8 577.2,1146.7 577.4,1145.1 577.8,1178.0 577.9,1180.8 578.3,1211.1 578.4,1207.3 578.8,1192.9 579.0,1193.9 579.4,1178.9 579.4,1177.1 579.9,1158.1 579.9,1155.3 580.4,1130.2 580.5,1129.4 580.9,1152.8 580.9,1157.7 581.3,1212.0 581.5,1203.7 581.8,1188.1 582.1,1209.9 582.3,1193.4 582.4,1187.8 582.9,1081.0 583.0,1075.8 583.4,1122.8 583.4,1136.2 583.8,1193.5 584.0,1205.4 584.4,1157.7 584.4,1144.1 584.9,1069.4 585.0,1062.9 585.4,1134.5 585.4,1155.3 585.5,1206.8 585.9,1173.5 586.3,1152.9 586.4,1157.9 586.8,1182.1 587.0,1211.7 587.4,1133.5 587.4,1128.8 587.9,1174.9 588.1,1209.8 588.4,1140.4 588.4,1139.9 588.7,1207.0 588.9,1172.1 589.2,1126.1 589.5,1148.0 589.6,1210.6 589.9,1164.3 590.3,1145.0 590.4,1144.6 590.9,1166.7 591.2,1210.3 591.3,1164.3 591.4,1146.8 591.9,1108.3 592.2,1106.3 592.4,1097.8 592.5,1092.4 592.9,1135.1 592.9,1144.3 593.2,1206.7 593.4,1176.3 593.8,1154.4 594.0,1156.0 594.4,1129.7 594.4,1129.0 594.8,1141.4 594.9,1147.0 595.2,1205.8 595.4,1162.7 595.8,1105.8 596.0,1100.3 596.4,1164.7 596.4,1178.5 596.6,1209.7 597.2,1155.4 597.4,1190.3 597.4,1208.7 597.9,1157.7 597.9,1154.7 598.3,1136.7 598.5,1138.4 598.9,1171.8 599.0,1207.4 599.3,1136.7 599.6,1116.1 599.9,1151.9 599.9,1157.1 600.3,1208.0 600.4,1182.6 600.9,1149.0 601.0,1143.7 601.4,1160.3 601.4,1163.2 601.8,1211.5 601.9,1173.0 602.4,1088.6 602.4,1087.1 602.9,1174.4 603.0,1211.9 603.4,1153.6 603.6,1140.5 603.8,1158.7 604.1,1205.2 604.4,1126.9 604.6,1091.3 604.9,1126.2 605.1,1211.4 605.4,1140.2 605.4,1130.0 605.7,1105.7 605.9,1116.9 606.4,1159.9 606.4,1167.0 606.7,1207.9 607.0,1208.3 607.3,1200.6 607.5,1211.5 607.9,1119.7 607.9,1109.6 608.2,1087.2 608.4,1121.6 608.6,1206.9 608.9,1124.2 609.4,1059.4 609.4,1055.9 609.9,1146.5 609.9,1166.9 610.1,1212.1 610.4,1164.4 610.8,1141.5 611.0,1143.5 611.4,1189.6 611.5,1212.2 611.9,1163.6 612.1,1158.5 612.4,1194.7 612.4,1209.8 612.8,1141.5 613.1,1120.2 613.4,1135.7 613.4,1143.2 613.8,1207.5 613.9,1185.4 614.3,1158.7 614.4,1172.9 614.7,1212.1 614.9,1185.0 615.3,1154.9 615.5,1162.4 615.8,1208.0 615.9,1182.4 616.4,1137.1 616.5,1139.6 616.9,1197.9 617.0,1211.3 617.2,1188.6 617.4,1207.7 617.9,1156.2 617.9,1153.6 618.4,1141.7 618.4,1141.5 618.9,1168.8 618.9,1172.1 619.2,1209.4 619.4,1200.8 619.8,1180.6 620.0,1189.6 620.4,1195.3 620.5,1209.2 620.9,1183.3 621.0,1180.1 621.4,1153.9 621.4,1149.3 621.8,1119.8 621.9,1119.2 622.4,1159.8 622.4,1173.4 622.6,1205.0 622.9,1180.8 623.3,1159.6 623.4,1165.3 623.9,1189.6 624.0,1209.9 624.3,1185.1 624.6,1211.7 624.9,1176.8 624.9,1172.3 625.3,1160.0 625.5,1162.4 625.9,1193.7 626.0,1211.9 626.3,1171.0 626.4,1172.6 626.8,1209.6 626.9,1184.0 627.4,1128.4 627.4,1127.0 627.9,1162.4 628.2,1194.1 628.3,1158.6 628.4,1194.1 628.9,1140.8 629.1,1126.2 629.4,1144.5 629.4,1154.4 629.7,1208.6 629.9,1158.7 630.4,1112.2 630.4,1111.3 630.8,1146.1 630.9,1154.4 631.4,1208.3 631.4,1211.6 631.9,1186.5 631.9,1188.6 632.2,1203.1 632.6,1212.1 632.9,1200.9 632.9,1199.6 633.4,1157.4 633.5,1154.2 633.9,1137.1 633.9,1134.6 634.2,1127.6 634.4,1136.1 634.9,1194.3 634.9,1210.7 635.3,1113.9 635.4,1111.3 635.9,1197.1 635.9,1212.1 636.4,1153.6 636.6,1148.2 636.9,1169.0 637.2,1211.0 637.4,1169.5 637.5,1157.4 637.9,1195.7 638.0,1207.1 638.4,1129.2 638.4,1127.8 638.8,1199.0 638.9,1209.6 639.4,1175.7 639.4,1176.4 639.8,1182.1 639.9,1187.6 640.3,1211.6 640.4,1193.2 640.9,1143.3 640.9,1136.6 641.2,1120.9 641.4,1132.7 641.9,1188.3 642.1,1208.7 642.4,1152.8 642.5,1152.5 642.9,1188.9 643.0,1209.9 643.3,1169.8 643.4,1160.0 643.6,1142.5 643.9,1160.4 644.4,1139.7 644.4,1132.9 644.9,1078.2 644.9,1075.6 645.4,1178.9 645.4,1204.2 645.9,1104.8 645.9,1098.5 646.3,1086.3 646.4,1094.0 646.9,1180.1 647.1,1206.4 647.4,1176.4 647.4,1173.5 647.7,1158.7 648.1,1185.1 648.4,1174.8 648.4,1174.3 648.9,1191.4 648.9,1192.9 649.3,1211.1 649.4,1197.5 649.9,1185.6 649.9,1184.6 650.2,1168.0 650.5,1207.6 650.9,1180.4 650.9,1173.7 651.2,1137.9 651.5,1152.7 651.9,1181.9 652.0,1207.4 652.3,1105.1 652.4,1103.0 652.9,1212.0 652.9,1194.2 653.4,1078.9 653.4,1081.9 653.8,1212.0 653.9,1184.8 654.4,1154.6 654.4,1155.4 654.9,1192.8 655.0,1209.9 655.3,1127.9 655.4,1137.6 655.8,1211.5 656.0,1183.3 656.3,1142.2 656.4,1150.5 656.7,1204.0 656.9,1172.1 657.2,1136.1 657.4,1156.0 657.7,1209.6 657.9,1183.7 658.2,1168.1 658.6,1208.7 658.9,1176.4 659.2,1155.0 659.4,1186.1 659.6,1211.5 659.9,1187.1 660.0,1184.9 660.3,1208.9 660.5,1200.6 660.9,1133.8 661.1,1118.7 661.3,1139.1 661.4,1148.8 661.8,1207.8 661.9,1166.8 662.2,1146.0 662.7,1208.5 662.9,1165.6 663.1,1132.6 663.4,1199.4 663.5,1208.6 663.9,1144.5 664.0,1146.6 664.2,1209.1 664.4,1180.4 664.9,1158.7 665.0,1158.4 665.4,1173.8 665.4,1175.2 665.7,1209.8 666.0,1179.9 666.4,1206.1 666.4,1210.7 666.9,1137.3 666.9,1134.1 667.3,1209.4 667.4,1195.5 667.7,1179.8 668.0,1209.2 668.4,1161.2 668.5,1152.9 668.6,1141.1 668.9,1156.9 669.3,1210.6 669.4,1206.2 669.8,1189.7 669.9,1194.4 670.2,1203.4 670.4,1194.1 670.9,1174.1 671.1,1167.8 671.4,1179.8 671.6,1210.2 671.9,1159.5 672.1,1150.9 672.4,1179.9 672.5,1210.3 672.9,1156.6 673.0,1155.8 673.4,1208.7 673.4,1205.5 673.8,1173.3 673.9,1173.4 674.4,1203.7 674.4,1206.0 674.8,1180.6 674.9,1175.8 675.2,1157.7 675.4,1176.1 675.5,1184.0" fill="none" stroke="#CC00FF" stroke-width="0.85" stroke-linejoin="round"/></g>
<g clip-path="url(#cdR)"><polyline points="379.4,1205.8 379.6,1198.7 380.1,1211.3 380.3,1202.5 380.4,1200.9 380.8,1196.7 380.9,1198.8 381.3,1211.6 381.4,1207.4 381.7,1199.2 381.9,1203.6 382.2,1211.9 382.5,1197.5 382.9,1210.1 383.0,1212.1 383.4,1202.5 383.4,1202.6 383.8,1210.7 383.9,1210.8 384.4,1197.3 384.5,1196.1 384.8,1206.1 385.1,1208.7 385.4,1205.8 385.4,1205.1 385.9,1198.1 385.9,1198.5 386.2,1210.9 386.4,1199.5 386.8,1176.4 386.9,1180.5 387.3,1210.1 387.5,1192.7 387.8,1175.9 387.9,1181.2 388.2,1209.8 388.4,1187.7 388.7,1174.9 388.9,1184.0 389.3,1211.8 389.4,1201.6 389.8,1192.1 389.9,1195.1 390.2,1211.5 390.4,1195.8 390.7,1162.5 391.1,1209.4 391.4,1175.7 391.6,1209.8 391.9,1167.7 392.0,1163.0 392.4,1136.7 392.4,1136.1 392.8,1162.9 392.9,1171.4 393.1,1208.6 393.4,1180.2 393.7,1171.3 393.9,1182.3 394.4,1203.8 394.6,1211.9 394.9,1199.2 394.9,1195.9 395.4,1175.3 395.4,1171.8 395.9,1162.0 396.0,1157.7 396.4,1183.6 396.5,1187.1 396.8,1210.4 396.9,1203.7 397.3,1190.4 397.4,1189.8 397.9,1182.7 397.9,1183.9 398.4,1210.2 398.4,1209.5 398.9,1166.9 398.9,1166.0 399.4,1188.2 399.6,1212.0 399.9,1188.6 400.1,1178.9 400.4,1196.3 400.5,1209.7 400.9,1170.2 401.1,1164.2 401.4,1174.1 401.4,1179.3 401.8,1211.8 402.1,1180.0 402.4,1197.5 402.6,1209.8 402.9,1170.1 403.1,1144.0 403.4,1166.5 403.4,1176.9 403.7,1211.4 404.0,1174.9 404.4,1196.7 404.5,1211.5 404.9,1148.4 404.9,1148.2 405.3,1207.8 405.5,1180.1 405.9,1140.6 405.9,1142.1 406.3,1191.0 406.5,1209.5 406.9,1190.6 406.9,1191.0 407.3,1208.7 407.4,1185.4 407.9,1167.5 408.0,1166.0 408.4,1174.2 408.4,1176.6 408.8,1209.2 409.0,1183.8 409.4,1144.6 409.5,1143.3 409.9,1189.6 410.1,1209.7 410.4,1186.2 410.4,1182.5 410.7,1173.1 410.9,1178.0 411.4,1209.3 411.4,1208.3 411.9,1165.5 411.9,1164.9 412.4,1195.5 412.6,1211.6 412.9,1190.4 412.9,1190.7 413.4,1203.2 413.6,1206.6 413.9,1195.6 413.9,1193.2 414.3,1176.1 414.5,1184.5 414.6,1208.5 414.9,1196.8 415.3,1183.1 415.5,1182.4 415.9,1198.8 416.1,1210.9 416.4,1191.1 416.5,1186.8 416.9,1196.0 416.9,1198.4 417.3,1206.8 417.4,1205.4 417.9,1187.0 418.0,1185.8 418.4,1197.7 418.5,1210.7 418.9,1200.9 419.0,1199.8 419.2,1197.0 419.4,1201.1 419.8,1210.5 419.9,1206.5 420.3,1191.2 420.4,1192.2 420.9,1206.9 421.0,1211.5 421.3,1196.2 421.6,1211.3 421.9,1195.9 422.0,1193.7 422.2,1212.1 422.5,1204.2 422.9,1196.5 422.9,1196.3 423.3,1205.4 423.5,1211.2 423.9,1190.1 424.1,1187.0 424.3,1196.2 424.4,1199.3 424.7,1212.1 425.2,1209.9 425.4,1208.6 425.4,1207.5 425.8,1197.7 425.9,1198.2 426.2,1210.5 426.4,1201.0 426.9,1182.4 427.0,1182.0 427.4,1211.9 427.4,1210.8 427.8,1195.3 427.9,1195.3 428.4,1207.2 428.4,1211.0 428.8,1169.5 428.9,1167.7 429.4,1203.9 429.4,1203.9 429.6,1167.9 429.9,1184.1 430.4,1152.6 430.4,1153.8 430.9,1194.9 431.0,1211.7 431.3,1171.0 431.5,1175.6 431.8,1211.0 431.9,1173.2 432.3,1143.5 432.4,1145.8 432.9,1196.5 432.9,1208.6 433.3,1173.1 433.6,1206.7 433.9,1157.1 433.9,1151.1 434.3,1125.1 434.4,1132.5 434.8,1207.9 434.9,1185.1 435.1,1161.9 435.6,1210.7 435.9,1167.2 436.0,1161.9 436.3,1154.5 436.4,1161.3 436.8,1193.3 436.9,1191.1 437.4,1176.8 437.4,1178.0 437.7,1209.6 437.9,1200.1 438.4,1162.0 438.5,1158.9 438.9,1189.3 439.0,1209.1 439.4,1106.4 439.5,1096.6 439.9,1112.3 439.9,1121.8 440.3,1211.0 440.5,1187.3 440.7,1165.3 441.1,1169.0 441.3,1177.2 441.4,1178.9 441.8,1156.7 441.9,1158.0 442.4,1184.4 442.5,1208.4 442.9,1166.7 442.9,1163.4 443.4,1147.4 443.4,1148.5 443.7,1154.2 444.0,1152.5 444.2,1150.7 444.4,1154.5 444.9,1210.2 445.0,1195.3 445.4,1109.1 445.5,1103.2 445.8,1143.3 446.1,1204.4 446.4,1144.0 446.6,1126.7 446.9,1162.8 447.0,1202.6 447.3,1123.0 447.4,1133.4 447.7,1210.6 447.9,1189.8 448.3,1147.9 448.5,1159.6 448.7,1207.8 448.9,1168.8 449.4,1126.8 449.5,1125.2 449.9,1143.4 449.9,1149.3 450.2,1209.9 450.4,1163.3 450.7,1117.8 450.9,1147.5 451.2,1202.8 451.4,1160.2 451.9,1134.5 451.9,1135.2 452.4,1161.8 452.4,1167.5 452.9,1195.7 453.0,1199.9 453.4,1212.0 453.4,1209.0 453.9,1168.2 454.0,1160.6 454.3,1137.8 454.4,1142.3 454.8,1187.2 455.0,1207.4 455.3,1161.5 455.4,1164.6 455.9,1202.0 455.9,1211.7 456.1,1188.1 456.4,1209.9 456.9,1176.8 457.0,1169.4 457.3,1210.9 457.5,1191.9 457.9,1132.8 458.0,1122.1 458.4,1171.1 458.5,1204.3 458.9,1162.3 459.1,1149.9 459.3,1170.3 459.6,1210.0 459.9,1176.8 460.1,1168.2 460.4,1193.8 460.5,1208.6 460.9,1131.9 461.2,1123.1 461.4,1133.1 461.4,1142.3 461.7,1209.1 462.0,1176.7 462.2,1154.4 462.4,1164.2 462.8,1210.1 462.9,1189.9 463.3,1118.2 463.4,1140.3 463.7,1205.4 464.1,1151.2 464.4,1174.6 464.6,1206.6 464.9,1133.9 465.0,1126.5 465.4,1170.6 465.5,1203.9 465.9,1143.0 466.0,1128.1 466.4,1164.0 466.6,1208.7 466.9,1154.7 467.0,1149.1 467.3,1186.0 467.5,1211.4 467.8,1195.5 468.1,1209.5 468.3,1195.6 468.5,1209.4 468.9,1155.8 469.1,1144.1 469.4,1186.1 469.4,1208.6 469.9,1154.0 470.2,1143.9 470.4,1153.6 470.4,1159.0 470.8,1211.2 471.0,1161.7 471.1,1146.8 471.4,1162.6 471.7,1211.8 472.1,1209.5 472.4,1178.2 472.4,1169.6 472.7,1154.0 473.1,1210.7 473.4,1174.5 473.4,1168.0 473.7,1150.8 473.9,1169.8 474.2,1210.3 474.6,1162.5 474.9,1179.5 475.0,1208.4 475.4,1160.0 475.6,1157.1 475.9,1189.3 476.0,1209.8 476.3,1164.8 476.5,1154.2 476.9,1188.0 477.1,1209.5 477.3,1161.0 477.6,1143.9 477.9,1156.3 477.9,1161.3 478.4,1172.5 478.4,1172.3 478.7,1161.0 478.9,1174.1 479.4,1204.5 479.4,1208.2 479.5,1211.6 480.2,1210.7 480.4,1203.6 480.4,1196.6 480.8,1166.4 480.9,1172.4 481.2,1209.7 481.6,1166.9 481.9,1183.5 481.9,1192.1 482.0,1211.9 482.4,1198.0 482.7,1193.8 483.1,1211.2 483.4,1172.6 483.4,1170.4 483.8,1211.8 484.2,1178.6 484.4,1200.7 484.5,1212.1 484.9,1198.7 485.0,1195.2 485.3,1203.8 485.5,1211.2 485.9,1190.0 485.9,1190.6 486.4,1211.2 486.4,1206.0 486.8,1165.9 486.9,1169.9 487.3,1209.0 487.4,1201.0 487.9,1167.3 488.0,1166.9 488.4,1191.4 488.4,1195.4 488.7,1211.3 489.0,1194.7 489.4,1183.5 489.4,1182.7 489.8,1178.9 489.9,1178.9 490.4,1202.0 490.5,1211.3 490.9,1181.7 491.1,1172.8 491.4,1180.5 491.4,1183.7 491.8,1209.9 491.9,1193.7 492.3,1167.8 492.5,1174.5 492.9,1209.1 492.9,1203.3 493.4,1166.1 493.5,1166.7 493.9,1197.0 494.1,1211.6 494.3,1195.8 494.5,1193.6 494.9,1203.1 495.1,1210.7 495.4,1192.6 495.4,1189.7 495.8,1179.1 495.9,1182.8 496.4,1211.8 496.4,1201.6 496.8,1164.6 497.0,1177.2 497.1,1208.6 497.4,1198.4 497.8,1188.6 498.0,1194.6 498.2,1210.7 498.4,1192.7 498.8,1185.9 498.9,1186.2 499.3,1212.0 499.4,1197.9 499.8,1152.0 499.9,1154.2 500.4,1171.3 500.4,1179.2 500.7,1211.4 500.9,1191.8 501.4,1148.2 501.5,1146.7 501.9,1178.0 502.0,1212.1 502.4,1164.0 502.5,1159.4 502.7,1149.9 502.9,1158.8 503.2,1207.8 503.4,1171.0 503.8,1129.1 503.9,1137.7 504.4,1198.1 504.4,1197.4 504.7,1123.8 504.9,1202.5 505.4,1133.6 505.4,1130.4 505.9,1195.8 506.0,1211.4 506.4,1191.0 506.4,1191.9 506.8,1211.7 506.9,1201.8 507.3,1143.5 507.4,1159.1 507.7,1209.3 508.0,1164.0 508.4,1210.0 508.4,1205.1 508.9,1172.4 509.0,1163.3 509.4,1183.5 509.6,1210.6 509.9,1184.0 509.9,1180.6 510.4,1166.1 510.5,1166.6 510.9,1174.2 510.9,1175.1 511.3,1205.2 511.4,1211.4 511.9,1190.9 511.9,1191.3 512.3,1201.4 512.5,1211.5 512.9,1164.6 512.9,1164.6 513.2,1210.5 513.4,1191.3 513.7,1174.9 514.2,1211.5 514.4,1191.9 514.6,1176.7 514.9,1190.4 515.1,1207.6 515.4,1181.4 515.4,1178.6 515.7,1170.8 515.9,1176.2 516.3,1211.7 516.4,1202.0 516.7,1190.5 517.0,1211.0 517.4,1173.5 517.6,1165.7 517.9,1171.8 517.9,1175.2 518.4,1209.7 518.4,1201.8 518.7,1183.5 518.9,1189.3 519.4,1206.2 519.5,1207.6 519.7,1178.5 519.9,1196.1 520.2,1171.6 520.4,1182.5 520.8,1210.6 520.9,1198.5 521.2,1181.5 521.4,1188.1 521.8,1210.0 521.9,1205.3 522.4,1174.9 522.6,1164.9 522.9,1175.2 522.9,1176.2 523.4,1198.9 523.5,1211.1 523.9,1178.7 524.0,1175.8 524.3,1158.9 524.4,1163.4 524.8,1188.9 525.0,1209.2 525.3,1183.8 525.4,1185.3 525.8,1212.2 525.9,1194.7 526.4,1162.5 526.4,1161.7 526.9,1197.2 526.9,1209.1 527.3,1174.3 527.5,1183.6 527.6,1210.7 528.2,1179.9 528.4,1195.0 528.5,1208.7 528.9,1175.3 528.9,1170.1 529.3,1149.9 529.4,1153.1 529.9,1185.6 530.1,1209.9 530.4,1172.9 530.5,1168.9 530.9,1200.1 530.9,1208.3 531.4,1161.3 531.4,1156.7 531.9,1132.1 532.0,1132.9 532.4,1183.6 532.5,1209.3 532.9,1178.3 533.0,1174.0 533.1,1168.6 533.4,1177.3 533.8,1209.8 533.9,1202.8 534.4,1180.9 534.6,1177.0 534.9,1209.2 534.9,1209.1 535.4,1200.9 535.4,1197.9 535.9,1195.1 535.9,1193.2 536.4,1154.6 536.5,1151.5 536.8,1138.2 536.9,1142.8 537.3,1208.8 537.5,1196.3 537.9,1149.4 537.9,1148.7 538.3,1172.5 538.6,1212.1 538.9,1127.9 539.0,1117.3 539.4,1200.9 539.4,1203.2 539.8,1125.1 539.9,1152.0 540.1,1205.3 540.4,1156.8 540.7,1129.4 541.0,1147.1 541.2,1204.6 541.4,1179.4 541.9,1137.6 542.0,1139.5 542.4,1197.1 542.5,1209.6 542.8,1158.0 542.9,1156.6 543.4,1203.3 543.4,1211.9 543.9,1180.1 544.1,1174.0 544.4,1184.4 544.4,1186.6 544.9,1202.4 545.2,1203.2 545.4,1206.5 545.5,1206.8 545.7,1203.3 545.9,1204.6 546.3,1194.9 546.4,1193.7 546.9,1164.7 546.9,1161.7 547.3,1152.9 547.4,1154.7 547.9,1195.6 547.9,1200.9 548.2,1211.9 548.4,1210.5 548.8,1203.1 548.9,1204.2 549.4,1205.8 549.7,1204.7 549.9,1210.4 550.0,1212.2 550.4,1201.3 550.4,1198.4 550.7,1193.3 551.1,1210.3 551.4,1197.5 551.4,1196.2 551.8,1185.6 552.0,1185.1 552.4,1192.8 552.4,1194.9 552.7,1210.7 553.0,1203.1 553.4,1209.3 553.4,1211.6 553.9,1195.6 553.9,1193.8 554.2,1187.9 554.5,1193.0 554.8,1210.1 554.9,1204.5 555.3,1184.1 555.4,1187.5 555.8,1210.1 555.9,1194.6 556.3,1159.4 556.4,1158.5 556.9,1211.4 556.9,1208.8 557.3,1196.5 557.4,1197.7 557.9,1209.8 557.9,1210.6 558.4,1178.8 558.7,1171.7 558.9,1182.3 559.0,1186.5 559.3,1211.1 559.4,1197.2 559.8,1179.9 559.9,1179.3 560.4,1193.0 560.4,1194.0 560.9,1209.2 561.0,1210.9 561.4,1184.4 561.4,1181.2 561.7,1162.0 561.9,1165.8 562.4,1194.5 562.5,1211.0 562.9,1195.6 563.0,1193.5 563.4,1196.2 563.5,1197.1 563.7,1201.2 563.9,1194.9 564.3,1177.0 564.5,1169.2 564.9,1186.0 565.2,1209.8 565.4,1186.3 565.4,1179.5 565.8,1162.6 565.9,1165.9 566.4,1192.2 566.6,1209.0 566.9,1191.0 566.9,1190.1 567.2,1187.3 567.4,1187.1 567.7,1182.9 568.0,1188.6 568.3,1210.6 568.4,1201.2 568.8,1180.9 569.0,1177.3 569.4,1194.5 569.6,1209.0 569.9,1189.1 570.0,1187.8 570.4,1202.4 570.5,1210.5 570.9,1189.4 571.1,1181.6 571.4,1198.7 571.5,1212.0 571.9,1184.0 572.2,1177.3 572.4,1183.8 572.5,1186.8 572.9,1209.1 572.9,1198.0 573.3,1168.5 573.4,1169.2 573.9,1188.5 573.9,1190.7 574.4,1193.0 574.5,1194.4 574.8,1189.5 574.9,1195.7 575.2,1211.6 575.4,1201.0 575.9,1175.0 576.0,1174.4 576.4,1184.8 576.4,1185.6 576.8,1210.2 577.0,1204.5 577.4,1173.8 577.4,1173.4 577.8,1187.6 578.2,1210.7 578.4,1180.0 578.6,1166.5 578.9,1203.2 578.9,1212.2 579.3,1165.2 579.4,1173.1 579.6,1206.5 579.9,1184.0 580.3,1163.1 580.5,1164.4 580.9,1193.4 581.0,1210.6 581.4,1171.7 581.5,1171.6 581.9,1194.1 582.1,1209.1 582.3,1166.7 582.6,1158.1 582.9,1183.0 583.1,1210.9 583.4,1173.1 583.5,1161.3 583.9,1187.0 584.1,1207.6 584.4,1174.5 584.4,1168.4 584.8,1132.1 585.0,1134.3 585.4,1186.8 585.5,1209.5 585.8,1177.6 585.9,1175.3 586.3,1166.9 586.4,1172.8 586.8,1209.6 586.9,1201.0 587.3,1141.8 587.4,1147.5 587.7,1209.6 587.9,1178.5 588.3,1155.6 588.4,1160.3 588.9,1206.7 588.9,1197.0 589.4,1154.6 589.5,1157.2 589.9,1208.9 589.9,1203.9 590.3,1165.9 590.4,1164.1 590.6,1159.2 590.9,1163.9 591.3,1178.8 591.4,1181.6 591.8,1212.0 591.9,1203.1 592.4,1178.7 592.5,1178.6 592.9,1198.9 593.1,1211.7 593.4,1166.8 593.4,1160.0 593.8,1152.4 594.0,1159.1 594.4,1190.5 594.5,1211.1 594.8,1194.9 595.0,1196.7 595.4,1180.5 595.4,1177.5 595.8,1159.2 595.9,1159.3 596.4,1174.6 596.4,1179.3 596.7,1211.6 597.1,1177.0 597.4,1196.3 597.6,1211.0 597.9,1177.3 597.9,1173.2 598.3,1152.9 598.5,1156.3 598.9,1176.0 599.1,1206.7 599.3,1167.6 599.4,1159.4 599.6,1139.4 599.9,1162.1 600.2,1209.7 600.4,1189.7 600.9,1158.8 601.0,1156.3 601.4,1171.2 601.4,1177.9 601.8,1212.0 601.9,1197.6 602.4,1162.4 602.5,1156.6 602.9,1163.4 603.0,1164.6 603.3,1187.2 603.5,1185.3 603.8,1207.2 603.9,1212.2 604.4,1184.6 604.4,1181.0 604.7,1160.0 604.9,1164.6 605.4,1197.5 605.6,1210.7 605.9,1168.6 606.0,1159.7 606.4,1194.1 606.5,1211.1 606.9,1160.4 606.9,1161.8 607.2,1208.8 607.5,1181.8 607.9,1129.5 607.9,1130.6 608.3,1179.5 608.5,1210.4 608.9,1152.8 608.9,1147.0 609.4,1129.3 609.4,1128.8 609.9,1159.7 609.9,1166.8 610.2,1211.7 610.4,1199.0 610.9,1164.7 611.1,1159.5 611.4,1167.5 611.4,1171.3 611.8,1212.1 612.0,1197.7 612.3,1167.7 612.4,1169.8 612.8,1207.7 612.9,1190.2 613.4,1162.6 613.4,1163.5 613.9,1192.7 614.0,1209.0 614.3,1171.3 614.4,1173.7 614.7,1208.3 614.9,1193.7 615.3,1166.5 615.5,1169.2 615.9,1204.4 615.9,1211.2 616.4,1158.4 616.5,1158.8 616.9,1190.2 617.0,1207.0 617.3,1181.8 617.4,1181.6 617.7,1208.3 617.9,1186.7 618.4,1172.7 618.4,1172.3 618.9,1188.6 618.9,1191.2 619.1,1210.1 619.6,1191.0 619.9,1203.1 620.0,1206.5 620.3,1212.1 620.5,1204.1 620.8,1212.0 621.0,1212.1 621.4,1202.6 621.4,1201.0 621.8,1183.5 622.0,1179.7 622.4,1195.8 622.6,1209.5 622.9,1188.1 622.9,1184.0 623.2,1177.2 623.4,1184.1 623.7,1209.8 623.9,1200.3 624.2,1182.3 624.6,1210.7 624.9,1182.6 624.9,1178.6 625.2,1171.3 625.5,1176.1 625.9,1210.6 625.9,1200.0 626.2,1172.9 626.4,1181.6 626.8,1211.4 626.9,1194.3 627.2,1175.7 627.6,1211.7 627.8,1186.0 627.9,1188.8 628.1,1209.1 628.4,1187.4 628.9,1167.3 629.0,1166.7 629.4,1185.6 629.4,1190.0 629.7,1210.3 629.9,1196.8 630.4,1180.8 630.4,1180.9 630.7,1184.9 630.9,1184.7 631.4,1204.4 631.6,1211.1 631.9,1190.4 631.9,1188.9 632.3,1181.6 632.5,1182.8 632.7,1182.1 633.0,1180.9 633.4,1209.0 633.5,1207.4 633.9,1177.7 633.9,1173.4 634.1,1168.9 634.4,1170.4 634.9,1200.4 635.0,1209.4 635.3,1178.6 635.4,1178.2 635.9,1209.6 635.9,1209.4 636.4,1168.3 636.4,1166.5 636.9,1200.8 636.9,1209.0 637.4,1172.5 637.4,1171.2 637.8,1207.2 638.0,1188.3 638.3,1163.9 638.4,1169.1 638.8,1211.0 638.9,1201.0 639.4,1158.8 639.4,1159.8 639.8,1203.0 640.0,1210.4 640.4,1190.3 640.6,1191.0 640.9,1178.1 640.9,1175.2 641.3,1163.4 641.4,1167.5 641.9,1211.1 641.9,1206.8 642.4,1176.6 642.5,1177.9 642.9,1209.7 642.9,1210.9 643.3,1150.7 643.5,1144.5 643.9,1184.2 643.9,1190.1 644.2,1199.4 644.4,1186.7 644.9,1143.6 644.9,1144.6 645.3,1205.7 645.4,1193.2 645.9,1144.7 646.1,1141.9 646.4,1166.6 646.7,1208.5 646.9,1159.8 647.1,1138.5 647.4,1157.2 647.4,1164.5 647.8,1209.9 648.0,1140.2 648.1,1210.0 648.4,1184.0 648.7,1159.5 648.9,1165.2 649.3,1210.0 649.4,1203.6 649.9,1171.2 650.0,1166.8 650.4,1178.4 650.4,1182.0 650.8,1211.0 650.9,1198.4 651.4,1149.3 651.5,1146.2 651.6,1142.6 651.9,1147.2 652.3,1190.6 652.4,1195.2 652.7,1209.7 652.9,1199.3 653.4,1180.2 653.5,1179.4 653.9,1161.6 653.9,1161.9 654.4,1171.3 654.4,1175.4 654.7,1211.8 655.0,1187.3 655.2,1169.8 655.4,1186.3 655.7,1209.5 656.0,1184.6 656.3,1165.3 656.4,1167.4 656.8,1197.2 657.0,1210.2 657.4,1163.6 657.4,1164.0 657.9,1194.9 658.0,1211.3 658.4,1179.6 658.4,1180.4 658.9,1196.2 658.9,1199.8 659.2,1210.5 659.5,1201.1 659.9,1177.7 660.0,1176.5 660.4,1202.2 660.5,1211.8 660.9,1185.3 661.1,1176.6 661.3,1185.7 661.4,1189.9 661.8,1211.0 661.9,1185.4 662.2,1173.1 662.4,1178.6 662.8,1209.7 663.1,1189.8 663.3,1212.0 663.4,1206.6 663.9,1184.6 664.0,1185.7 664.4,1209.8 664.4,1204.6 664.9,1176.7 665.0,1175.3 665.4,1190.0 665.4,1192.5 665.7,1209.0 666.1,1188.7 666.4,1203.1 666.4,1209.5 666.9,1175.9 666.9,1175.8 667.2,1212.1 667.4,1195.9 667.7,1184.4 668.0,1209.7 668.4,1182.5 668.6,1174.5 668.9,1186.9 669.1,1210.4 669.3,1177.8 669.5,1172.5 669.9,1206.6 669.9,1211.4 670.3,1180.0 670.4,1179.9 670.8,1209.9 670.9,1196.4 671.4,1182.4 671.5,1181.6 671.9,1190.5 672.1,1193.8 672.4,1192.0 672.7,1187.8 672.9,1193.1 673.0,1196.2 673.1,1209.9 673.4,1193.7 673.7,1182.1 673.9,1186.6 674.4,1206.1 674.6,1181.2 674.7,1205.2 674.9,1195.6 675.3,1173.4 675.4,1182.2 675.5,1187.6" fill="none" stroke="#4DFCFF" stroke-width="0.7" stroke-linejoin="round"/></g>
<path d="M379.4 996.3H675.5V1212.2H379.4ZM379.4 1212.2v-2.8M379.4 996.3v2.8M438.6 1212.2v-2.8M438.6 996.3v2.8M497.8 1212.2v-2.8M497.8 996.3v2.8M557.1 1212.2v-2.8M557.1 996.3v2.8M616.3 1212.2v-2.8M616.3 996.3v2.8M675.5 1212.2v-2.8M675.5 996.3v2.8M379.4 1212.2h2.8M675.5 1212.2h-2.8M379.4 1164.2h2.8M675.5 1164.2h-2.8M379.4 1116.2h2.8M675.5 1116.2h-2.8M379.4 1068.3h2.8M675.5 1068.3h-2.8M379.4 1020.3h2.8M675.5 1020.3h-2.8" stroke="#4a4a4a" stroke-width="1.15" fill="none"/>
<text x="379.4" y="1233.0" font-size="16" text-anchor="middle" fill="#000">0</text>
<text x="438.6" y="1233.0" font-size="16" text-anchor="middle" fill="#000">5</text>
<text x="497.8" y="1233.0" font-size="16" text-anchor="middle" fill="#000">10</text>
<text x="557.1" y="1233.0" font-size="16" text-anchor="middle" fill="#000">15</text>
<text x="616.3" y="1233.0" font-size="16" text-anchor="middle" fill="#000">20</text>
<text x="675.5" y="1233.0" font-size="16" text-anchor="middle" fill="#000">25</text>
<text x="374.8" y="1219.0" font-size="16" text-anchor="end" fill="#000">0</text>
<text x="374.8" y="1171.0" font-size="16" text-anchor="end" fill="#000">1</text>
<text x="374.8" y="1123.0" font-size="16" text-anchor="end" fill="#000">2</text>
<text x="374.8" y="1075.1" font-size="16" text-anchor="end" fill="#000">3</text>
<text x="374.8" y="1027.1" font-size="16" text-anchor="end" fill="#000">4</text>
<rect x="546.4" y="995.9" width="129.1" height="47.4" fill="#fff" stroke="#4a4a4a" stroke-width="1"/>
<path d="M548.5 1008H568" stroke="#CC00FF" stroke-width="1"/>
<text class="s" x="570.3" y="1010.6" font-size="13" fill="#000">Pce-H<tspan font-size="9.5" dy="5.5">2</tspan><tspan dy="-5.5"> control</tspan></text>
<path d="M548.5 1030.9H568" stroke="#4DFCFF" stroke-width="1"/>
<text class="s" x="570.3" y="1033.5" font-size="13" fill="#000">General H<tspan font-size="9.5" dy="5.5">2</tspan><tspan dy="-5.5"> control</tspan></text>
<text class="s" transform="translate(358.9 1103.3) rotate(-90)" x="0" y="0" font-size="19.5" text-anchor="middle" textLength="152.4" lengthAdjust="spacingAndGlyphs" fill="#000">Control current(A)</text>
<text class="s" x="491.6" y="1265.2" font-size="24" fill="#000">Time(s)</text>
<text class="s" x="353.1" y="311.5" font-size="32" fill="#000">(a)</text>
<text class="s" x="347.4" y="641.5" font-size="32" fill="#000">(b)</text>
<text class="s" x="347.6" y="971.5" font-size="32" fill="#000">(c)</text>
<text class="s" x="347.4" y="1301.3" font-size="32" fill="#000">(d)</text>
</svg></body></html>
